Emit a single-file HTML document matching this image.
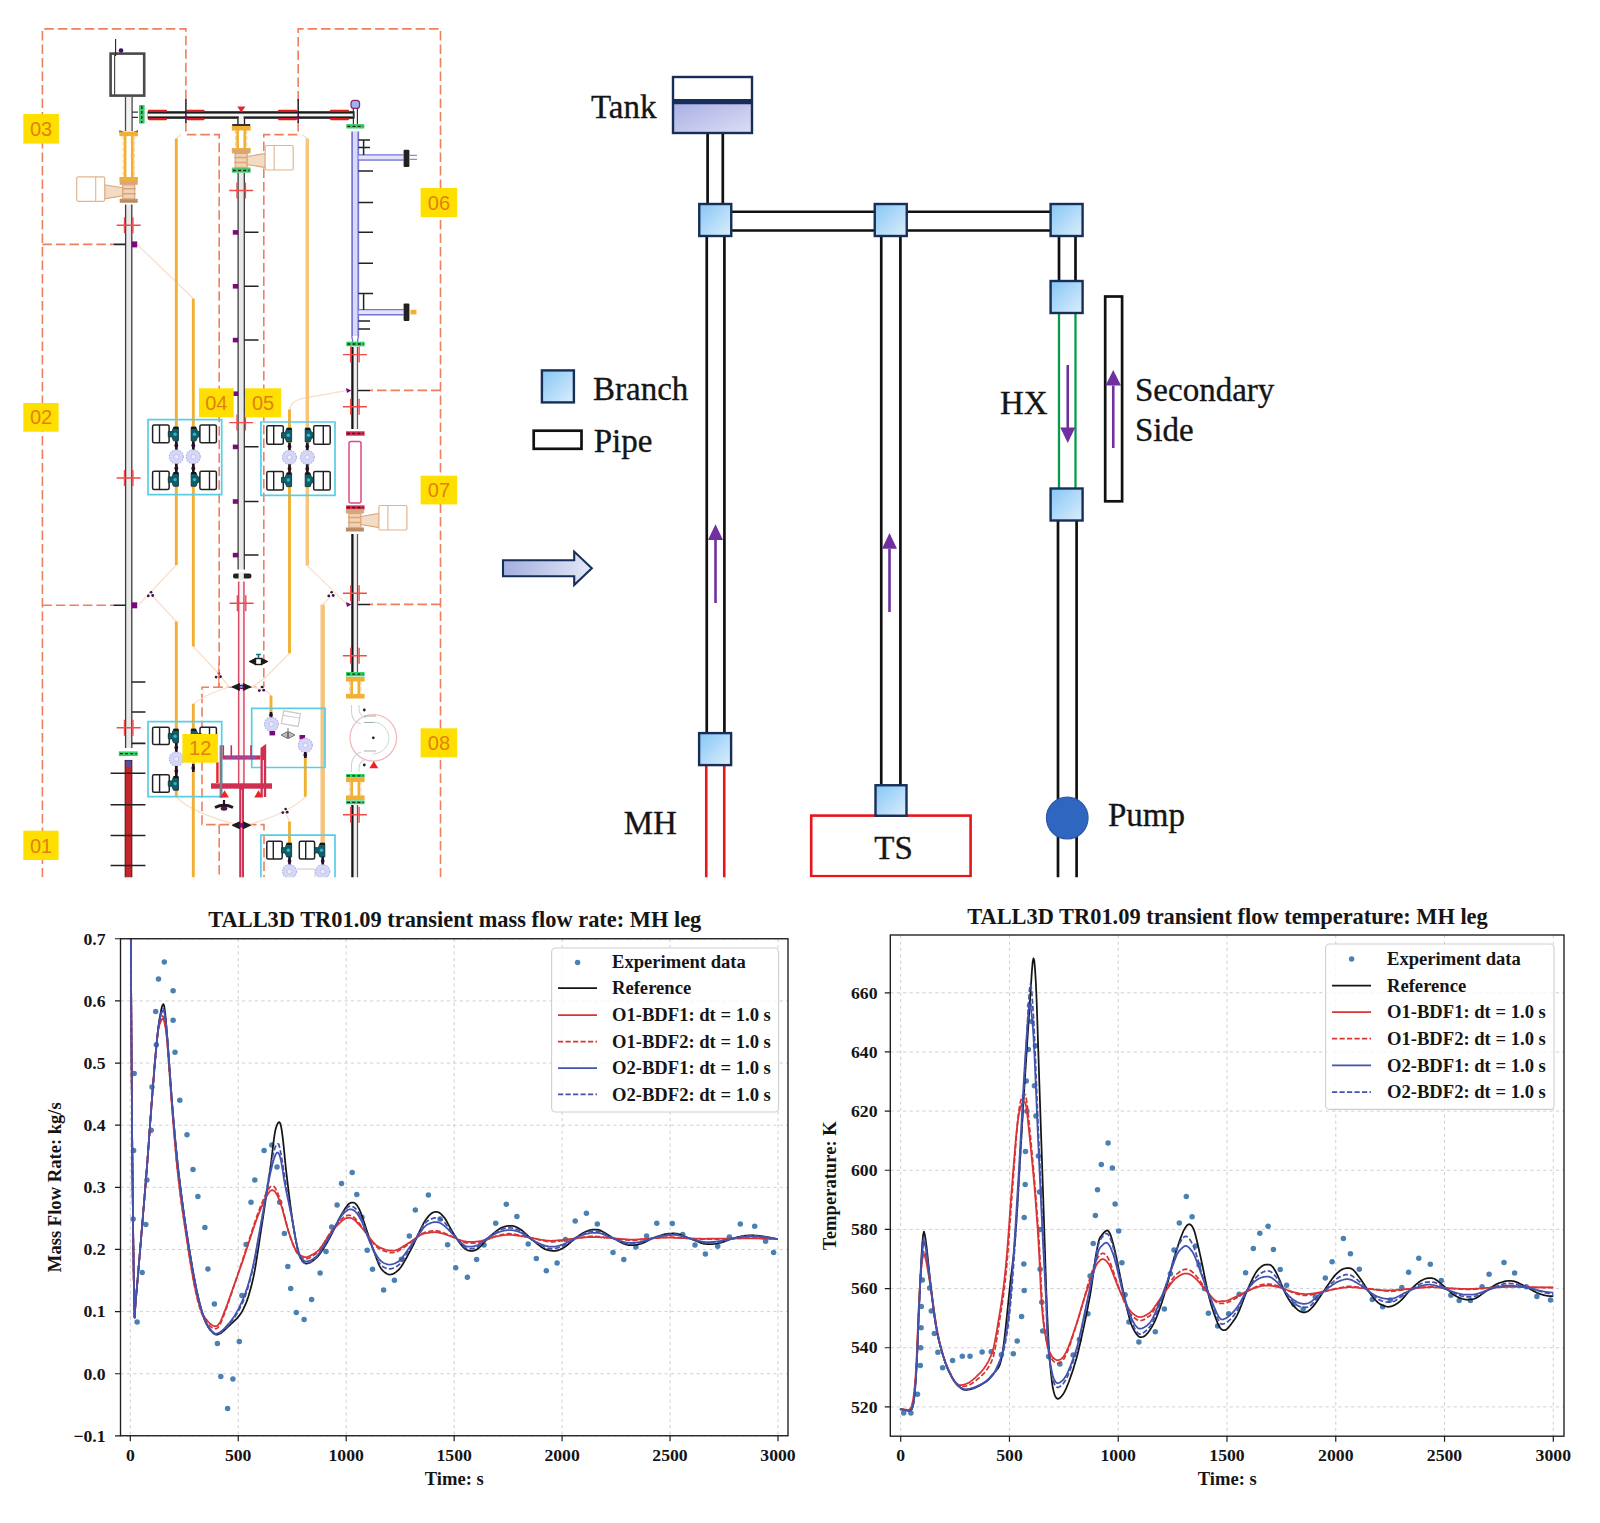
<!DOCTYPE html>
<html lang="en"><head><meta charset="utf-8"><title>TALL3D TR01.09</title>
<style>html,body{margin:0;padding:0;background:#fff}svg{display:block}</style></head>
<body>
<svg width="1600" height="1523" viewBox="0 0 1600 1523">
<rect width="1600" height="1523" fill="#fff"/>
<g>
<g id="cad" clip-path="url(#cadclip)">
<defs><clipPath id="cadclip"><rect x="0" y="0" width="480" height="877.2"/></clipPath></defs>
<path d="M42.4,877.5V28.9H185.9V104M185.9,122V134.6H219.2V687.2M42.4,244.4H113.5M42.4,605.3H113.5M440.5,877.5V28.9H298.2V104M298.2,122V134.6H263.8V687.2M440.5,390.4H370M440.5,604.4H370M236,687.2H202V824.6H236M247,687.2H264M247,824.6H264V877.5M219.2,824.6V877.5" fill="none" stroke="#ef7f5e" stroke-width="1.6" stroke-dasharray="9.5 4"/>
<path d="M137,244.4L193.3,298.5M176.3,565L139,604.5M152,595.5L176.3,621.5M193.3,646.4L219,674L229,687M289.5,653.2L265,678L252,687M307.3,565.6L347,604.4M322.7,604.4L331,596.5M289.5,409.5Q291,402 300,399L347,390.4M176.3,138.4L181,134.6M307.3,138.4L302,134.6M229,687Q206,694 193.3,704M252,687Q268,690 271,696M176.3,796.7Q190,812 236,824.6M305.3,796.7Q300,803 285,811Q262,822 247,824.6M285,811L289.5,821.6" fill="none" stroke="#f9dfcb" stroke-width="1.3"/>
<path d="M176.3,138.4V565M193.3,298.5V646.4M176.3,621.5V796.7M193.3,703.8V877.5M289.5,409.5V653.2M271,695.5V713M305.3,756.7V796.7M289.5,821.6V844" fill="none" stroke="#f1b034" stroke-width="2.9"/>
<path d="M307.3,138.4V565.6" fill="none" stroke="#f6c47c" stroke-width="3.4"/>
<path d="M322.7,604.4V844" fill="none" stroke="#f6c47c" stroke-width="4.4"/>
<path d="M148,419.6H221.7V494.6H148ZM260.9,422H335V495.3H260.9ZM148,721.6H221.7V796.7H148ZM251.7,708.3H325V767.5H251.7ZM260.9,835.2H335V890H260.9Z" fill="none" stroke="#58cee5" stroke-width="1.7"/>
<rect x="110.6" y="53.6" width="33.6" height="42" fill="#fff" stroke="#4a4a4a" stroke-width="2.6"/>
<path d="M114.6,55V95" stroke="#4a4a4a" stroke-width="1.2"/>
<path d="M115.6,39V56" stroke="#222" stroke-width="1.1"/><circle cx="121" cy="50.5" r="2.3" fill="#3a1060"/>
<rect x="125.50" y="97" width="6.6" height="34.00" fill="#f2f2f2"/><path d="M125.50,97V131M132.10,97V131" stroke="#4a4a4a" stroke-width="1.3" fill="none"/>
<path d="M132,112.2H138M132,117.3H138" stroke="#333" stroke-width="1.3"/>
<rect x="139" y="105" width="5.6" height="18.5" fill="#35d268"/><path d="M141.8,106V123" stroke="#222" stroke-width="1.3" stroke-dasharray="3 2"/>
<rect x="147.6" y="111.2" width="207" height="7.6" fill="#1c1c1c"/><rect x="147.6" y="113.6" width="206" height="2.8" fill="#f4f4f4"/>
<path d="M149,110.9H166M149,119.1H166" stroke="#d81e1e" stroke-width="2.2" stroke-linecap="round"/>
<path d="M187.5,110.9H203.5M187.5,119.1H203.5" stroke="#d81e1e" stroke-width="2.2" stroke-linecap="round"/>
<path d="M279,110.9H296M279,119.1H296" stroke="#d81e1e" stroke-width="2.2" stroke-linecap="round"/>
<path d="M331,110.9H348M331,119.1H348" stroke="#d81e1e" stroke-width="2.2" stroke-linecap="round"/>
<path d="M185.9,99V123M298.2,99V123" stroke="#222" stroke-width="1.5"/>
<path d="M184.3,116h3.2l-1.6,4.5Z M296.6,116h3.2l-1.6,4.5Z" fill="#7a0a7a"/>
<path d="M237.2,106.5h8.2l-4.1,6Z" fill="#e8262a"/>
<path d="M238,118.8V124M244.4,118.8V124" stroke="#1c1c1c" stroke-width="1.5"/><rect x="238.8" y="116" width="4.8" height="8" fill="#f4f4f4"/>
<path d="M119.4,130.2Q128.7,135 138,130.2V133H119.4Z" fill="#333"/>
<rect x="119.39999999999999" y="131.6" width="18.6" height="4.6" fill="#f1b034"/><rect x="119.39999999999999" y="177.0" width="18.6" height="4.6" fill="#f1b034"/><rect x="127.29999999999998" y="136.2" width="2.8" height="40.8" fill="#fff"/><path d="M125.1,135.6V177.6M132.29999999999998,135.6V177.6" stroke="#f1b034" stroke-width="2.7" fill="none"/><path d="M123.1,135.6V177.6M134.29999999999998,135.6V177.6" stroke="#f6cf86" stroke-width="1" stroke-dasharray="4 2" fill="none"/>
<rect x="119.69999999999999" y="180.8" width="18" height="4" fill="#d9a67a"/><rect x="119.69999999999999" y="198.8" width="18" height="4" fill="#b98c66"/><rect x="122.69999999999999" y="184.8" width="12" height="14" fill="#f0d2b4" stroke="#d9a67a" stroke-width="1.2"/><path d="M121.69999999999999,188.8H135.7M121.69999999999999,193.8H135.7" stroke="#d9a67a" stroke-width="1.6"/><path d="M122.69999999999999,187.8L104.69999999999999,184.8V198.8L122.69999999999999,195.8Z" fill="#f3dcc4" stroke="#d9a67a" stroke-width="1.1"/><rect x="76.69999999999999" y="176.8" width="28.0" height="24.5" rx="1.5" fill="#fff" stroke="#e2b48e" stroke-width="1.2"/><path d="M95.69999999999999,176.8V201.3" stroke="#e2b48e" stroke-width="1.1"/>
<rect x="125.60" y="204.5" width="6.2" height="543.50" fill="#e9e9e9"/><path d="M125.60,204.5V748M131.80,204.5V748" stroke="#3c3c3c" stroke-width="1.3" fill="none"/>
<path d="M116.69999999999999,225.3H140.7M124.49999999999999,217.3V233.3M132.89999999999998,217.3V233.3" stroke="#f04a4a" stroke-width="1.4" fill="none"/>
<path d="M116.69999999999999,478H140.7M124.49999999999999,470V486M132.89999999999998,470V486" stroke="#f04a4a" stroke-width="1.4" fill="none"/>
<path d="M116.69999999999999,727.7H140.7M124.49999999999999,719.7V735.7M132.89999999999998,719.7V735.7" stroke="#f04a4a" stroke-width="1.4" fill="none"/>
<path d="M113.5,244.4H125.5M113.5,605.3H125.5" stroke="#222" stroke-width="1.6"/>
<rect x="131.8" y="241.4" width="5.4" height="6" fill="#7a0a7a"/><rect x="131.8" y="602.3" width="5.4" height="6" fill="#7a0a7a"/>
<path d="M131.8,682H145.4M131.8,712H145.4M131.8,743.4H145.4" stroke="#222" stroke-width="1.6"/>
<rect x="118.79999999999998" y="751.4000000000001" width="19.0" height="4.6" fill="#35d268"/><path d="M119.79999999999998,753.7H136.79999999999998" stroke="#222" stroke-width="1.3" stroke-dasharray="3 2.2"/>
<rect x="125.2" y="760.5" width="6.6" height="118" fill="#c4242a" stroke="#5a1a1a" stroke-width="1.1"/>
<rect x="126.3" y="760.5" width="4.4" height="6" fill="#3a56c8"/>
<path d="M110.6,773.3H145.4M110.6,804.7H145.4M110.6,835.5H145.4M110.6,865.4H145.4" stroke="#222" stroke-width="1.5"/>
<rect x="232.2" y="124" width="18" height="2.6" fill="#333"/>
<rect x="231.79999999999998" y="126" width="18.8" height="4.6" fill="#f1b034"/><rect x="231.79999999999998" y="147.9" width="18.8" height="4.6" fill="#f1b034"/><rect x="239.79999999999998" y="130.6" width="2.8" height="17.3" fill="#fff"/><path d="M237.6,130V148.5M244.79999999999998,130V148.5" stroke="#f1b034" stroke-width="2.7" fill="none"/><path d="M235.6,130V148.5M246.79999999999998,130V148.5" stroke="#f6cf86" stroke-width="1" stroke-dasharray="4 2" fill="none"/>
<rect x="232.2" y="149.5" width="18" height="4" fill="#d9a67a"/><rect x="232.2" y="167.5" width="18" height="4" fill="#b98c66"/><rect x="235.2" y="153.5" width="12" height="14" fill="#f0d2b4" stroke="#d9a67a" stroke-width="1.2"/><path d="M234.2,157.5H248.2M234.2,162.5H248.2" stroke="#d9a67a" stroke-width="1.6"/><path d="M247.2,156.5L265.2,153.5V167.5L247.2,164.5Z" fill="#f3dcc4" stroke="#d9a67a" stroke-width="1.1"/><rect x="265.2" y="145.5" width="28.0" height="24.5" rx="1.5" fill="#fff" stroke="#e2b48e" stroke-width="1.2"/><path d="M274.2,145.5V170.0" stroke="#e2b48e" stroke-width="1.1"/>
<rect x="231.79999999999998" y="168.3" width="18.8" height="4.4" fill="#35d268"/><path d="M232.79999999999998,170.5H249.6" stroke="#222" stroke-width="1.3" stroke-dasharray="3 2.2"/>
<rect x="238.10" y="173" width="6.2" height="396.50" fill="#e9e9e9"/><path d="M238.10,173V569.5M244.30,173V569.5" stroke="#3c3c3c" stroke-width="1.3" fill="none"/>
<path d="M229.2,190.5H253.2M237.0,182.5V198.5M245.39999999999998,182.5V198.5" stroke="#f04a4a" stroke-width="1.4" fill="none"/>
<path d="M229.2,422.6H253.2M237.0,414.6V430.6M245.39999999999998,414.6V430.6" stroke="#f04a4a" stroke-width="1.4" fill="none"/>
<rect x="232.8" y="230.10000000000002" width="5.4" height="4.6" fill="#7a0a7a"/>
<rect x="232.8" y="284.0" width="5.4" height="4.6" fill="#7a0a7a"/>
<rect x="232.8" y="337.8" width="5.4" height="4.6" fill="#7a0a7a"/>
<rect x="232.8" y="391.40000000000003" width="5.4" height="4.6" fill="#7a0a7a"/>
<rect x="232.8" y="444.6" width="5.4" height="4.6" fill="#7a0a7a"/>
<rect x="232.8" y="499.2" width="5.4" height="4.6" fill="#7a0a7a"/>
<rect x="232.8" y="552.8" width="5.4" height="4.6" fill="#7a0a7a"/>
<path d="M244.4,232.3H258.5M244.4,286.2H258.5M244.4,340H258.5M244.4,393.6H258.5M244.4,446.8H258.5M244.4,501.4H258.5M244.4,555H258.5" stroke="#222" stroke-width="1.5"/>
<rect x="233" y="573.6" width="18.4" height="4.8" rx="2" fill="#222"/><rect x="238.6" y="572" width="5.2" height="8" fill="#eee"/>
<rect x="238.65" y="581.4" width="5.3" height="204.60" fill="#fff3f6"/><path d="M238.65,581.4V786M243.95,581.4V786" stroke="#d64a68" stroke-width="1.5" fill="none"/>
<path d="M229.6,603.3H253.6M237.4,595.3V611.3M245.79999999999998,595.3V611.3" stroke="#f04a4a" stroke-width="1.4" fill="none"/>
<rect x="239.2" y="786" width="4.8" height="92" fill="#cf2f52"/><path d="M241.6,790V877" stroke="#f6b8c6" stroke-width="1"/>
<path d="M353.4,108V126M357.4,108V126" stroke="#333" stroke-width="1.2"/>
<rect x="351" y="100.4" width="8.6" height="8" rx="3" fill="#9fb4ee" stroke="#8a2a6a" stroke-width="1.2"/>
<rect x="346.29999999999995" y="124.1" width="18" height="4.4" fill="#35d268"/><path d="M347.29999999999995,126.3H363.29999999999995" stroke="#222" stroke-width="1.3" stroke-dasharray="3 2.2"/>
<rect x="352.10" y="131.5" width="6.2" height="204.50" fill="#d9d9f8"/><path d="M352.10,131.5V336M358.30,131.5V336" stroke="#7474d6" stroke-width="1.7" fill="none"/>
<path d="M358,154.9H403.5M358,159.9H403.5M358,309.8H403.5M358,314.8H403.5" stroke="#7474d6" stroke-width="1.5"/>
<rect x="358.5" y="155.7" width="45" height="3.4" fill="#e3e3fa"/><rect x="358.5" y="310.6" width="45" height="3.4" fill="#e3e3fa"/>
<rect x="403.6" y="149.7" width="5.8" height="17.4" rx="1" fill="#222"/><path d="M409.4,155.4H417M409.4,159.4H417" stroke="#8a8ae0" stroke-width="1.1"/>
<rect x="403.6" y="303.6" width="5.8" height="17.4" rx="1" fill="#222"/><rect x="410.5" y="309.8" width="6" height="4.6" fill="#f1b034"/>
<path d="M358.4,140H370M358.4,147.5H370M363.6,140V155M358.4,171H373M358.4,202.6H373M358.4,232.3H373M358.4,263.2H373M358.4,293.4H373M363.6,293.4V310M358.4,321H370M358.4,329H370" stroke="#222" stroke-width="1.5" fill="none"/>
<path d="M351.8,336L353,343M358.4,336L357.2,343" stroke="#7474d6" stroke-width="1.4"/>
<rect x="346.3" y="341.7" width="18.4" height="4.6" fill="#35d268"/><path d="M347.3,344H363.7" stroke="#222" stroke-width="1.3" stroke-dasharray="3 2.2"/>
<rect x="351.4" y="347" width="6.4" height="82" fill="#f0f0f0"/><path d="M352.4,347V429" stroke="#151515" stroke-width="2.3"/><path d="M357.5,347V429" stroke="#555" stroke-width="1.2"/>
<path d="M342.9,354.6H366.9M350.7,346.6V362.6M359.09999999999997,346.6V362.6" stroke="#f04a4a" stroke-width="1.4" fill="none"/>
<path d="M342.9,406.7H366.9M350.7,398.7V414.7M359.09999999999997,398.7V414.7" stroke="#f04a4a" stroke-width="1.4" fill="none"/>
<path d="M358,390.4H370M358,604.4H370" stroke="#222" stroke-width="1.5"/>
<path d="M346,388L351.4,390.4L347,393Z M346,602L351.4,604.4L347,607Z" fill="#7a0a7a"/>
<rect x="345.99999999999994" y="431.3" width="18.6" height="4.4" fill="#cf2f52"/><path d="M346.99999999999994,433.5H363.59999999999997" stroke="#222" stroke-width="1.3" stroke-dasharray="3 2.2"/>
<rect x="349" y="441.5" width="12" height="61.5" rx="2" fill="#fff" stroke="#dd4a86" stroke-width="1.5"/>
<rect x="345.99999999999994" y="505.4" width="18.6" height="4.2" fill="#cf2f52"/><path d="M346.99999999999994,507.5H363.59999999999997" stroke="#222" stroke-width="1.3" stroke-dasharray="3 2.2"/>
<rect x="345.9" y="509.5" width="18" height="4" fill="#d9a67a"/><rect x="345.9" y="527.5" width="18" height="4" fill="#b98c66"/><rect x="348.9" y="513.5" width="12" height="14" fill="#f0d2b4" stroke="#d9a67a" stroke-width="1.2"/><path d="M347.9,517.5H361.9M347.9,522.5H361.9" stroke="#d9a67a" stroke-width="1.6"/><path d="M360.9,516.5L378.9,513.5V527.5L360.9,524.5Z" fill="#f3dcc4" stroke="#d9a67a" stroke-width="1.1"/><rect x="378.9" y="505.5" width="28.0" height="24.5" rx="1.5" fill="#fff" stroke="#e2b48e" stroke-width="1.2"/><path d="M387.9,505.5V530.0" stroke="#e2b48e" stroke-width="1.1"/>
<rect x="351.4" y="534" width="6.4" height="138" fill="#f0f0f0"/><path d="M352.4,534V672" stroke="#151515" stroke-width="2.3"/><path d="M357.5,534V672" stroke="#555" stroke-width="1.2"/>
<path d="M342.9,593.2H366.9M350.7,585.2V601.2M359.09999999999997,585.2V601.2" stroke="#f04a4a" stroke-width="1.4" fill="none"/>
<path d="M342.9,655.7H366.9M350.7,647.7V663.7M359.09999999999997,647.7V663.7" stroke="#f04a4a" stroke-width="1.4" fill="none"/>
<rect x="345.99999999999994" y="672.0" width="18.6" height="4.4" fill="#35d268"/><path d="M346.99999999999994,674.2H363.59999999999997" stroke="#222" stroke-width="1.3" stroke-dasharray="3 2.2"/>
<rect x="345.99999999999994" y="677" width="18.6" height="4.6" fill="#f1b034"/><rect x="345.99999999999994" y="693.9" width="18.6" height="4.6" fill="#f1b034"/><rect x="353.9" y="681.6" width="2.8" height="12.3" fill="#fff"/><path d="M351.69999999999993,681V694.5M358.9,681V694.5" stroke="#f1b034" stroke-width="2.7" fill="none"/><path d="M349.69999999999993,681V694.5M360.9,681V694.5" stroke="#f6cf86" stroke-width="1" stroke-dasharray="4 2" fill="none"/>
<circle cx="373.3" cy="737.8" r="23.3" fill="none" stroke="#f2b6b6" stroke-width="1.2"/>
<path d="M351.5,705V712Q352,722 361,724M359,705V710Q360,716 366,718M351.5,772V765Q352,755 361,752M359,772V767Q360,761 366,759" fill="none" stroke="#c9d6d6" stroke-width="1.1"/>
<path d="M364,716H376M364,722.5H376M364,751H376" stroke="#9fb0b0" stroke-width="1.2"/><path d="M373,722A16,16 0 0 1 373,754" fill="none" stroke="#cfd8d8" stroke-width="1"/>
<circle cx="373.3" cy="737.8" r="1.4" fill="#222"/><circle cx="364.3" cy="710" r="1.4" fill="#222"/><circle cx="364.3" cy="765" r="1.4" fill="#222"/>
<path d="M369.3,768.3h9l-4.5,-7.2Z" fill="#e8262a"/>
<rect x="345.99999999999994" y="774.0" width="18.6" height="3.6" fill="#35d268"/><path d="M346.99999999999994,775.8H363.59999999999997" stroke="#222" stroke-width="1.3" stroke-dasharray="3 2.2"/>
<rect x="345.99999999999994" y="777.5" width="18.6" height="4.6" fill="#f1b034"/><rect x="345.99999999999994" y="795.4" width="18.6" height="4.6" fill="#f1b034"/><rect x="353.9" y="782.1" width="2.8" height="13.3" fill="#fff"/><path d="M351.69999999999993,781.5V796M358.9,781.5V796" stroke="#f1b034" stroke-width="2.7" fill="none"/><path d="M349.69999999999993,781.5V796M360.9,781.5V796" stroke="#f6cf86" stroke-width="1" stroke-dasharray="4 2" fill="none"/>
<rect x="345.99999999999994" y="800.4" width="18.6" height="3.8" fill="#35d268"/><path d="M346.99999999999994,802.3H363.59999999999997" stroke="#222" stroke-width="1.3" stroke-dasharray="3 2.2"/>
<rect x="351.4" y="805" width="6.4" height="73" fill="#f0f0f0"/><path d="M352.4,805V878" stroke="#151515" stroke-width="2.3"/><path d="M357.5,805V878" stroke="#555" stroke-width="1.2"/>
<path d="M342.9,814.8H366.9M350.7,806.8V822.8M359.09999999999997,806.8V822.8" stroke="#f04a4a" stroke-width="1.4" fill="none"/>
<rect x="152.6" y="425.0" width="16.5" height="17.7" rx="1.5" fill="#fff" stroke="#222" stroke-width="1.5"/><path d="M159.5,425.0V442.7" stroke="#222" stroke-width="1.4"/><path d="M168.3,431.6L172.0,431.6L173.5,427.6H178.4V440.8H173.5L172.0,436.8H168.3Z" fill="#0e5f6b" stroke="#12363c" stroke-width="0.9" stroke-linejoin="round"/><rect x="173.5" y="426.6" width="4.9" height="2.2" fill="#151515"/><circle cx="175.1" cy="434.2" r="1.7" fill="#33b4cc"/><path d="M201.3,431.6L197.6,431.6L196.1,427.6H191.2V440.8H196.1L197.6,436.8H201.3Z" fill="#0e5f6b" stroke="#12363c" stroke-width="0.9" stroke-linejoin="round"/><rect x="191.2" y="426.6" width="4.9" height="2.2" fill="#151515"/><circle cx="194.5" cy="434.2" r="1.7" fill="#33b4cc"/><rect x="199.9" y="425.0" width="16.5" height="17.7" rx="1.5" fill="#fff" stroke="#222" stroke-width="1.5"/><path d="M209.5,425.0V442.7" stroke="#222" stroke-width="1.4"/><path d="M176.3,441.2V449.8" stroke="#1a1a1a" stroke-width="2.6"/><circle cx="176.3" cy="445.5" r="1.9" fill="#2a0a3a"/><path d="M193.3,441.2V449.8" stroke="#1a1a1a" stroke-width="2.6"/><circle cx="193.3" cy="445.5" r="1.9" fill="#2a0a3a"/><circle cx="176.3" cy="456.8" r="7" fill="#d6d6f7" stroke="#b4b4ee" stroke-width="1.2" stroke-dasharray="1.6 1.2"/><circle cx="176.3" cy="456.8" r="2.4" fill="#ececfc" stroke="#bdbdf0" stroke-width="0.8"/><circle cx="193.3" cy="456.8" r="7" fill="#d6d6f7" stroke="#b4b4ee" stroke-width="1.2" stroke-dasharray="1.6 1.2"/><circle cx="193.3" cy="456.8" r="2.4" fill="#ececfc" stroke="#bdbdf0" stroke-width="0.8"/><path d="M176.3,463.8V472.7" stroke="#1a1a1a" stroke-width="2.6"/><circle cx="176.3" cy="468.2" r="1.9" fill="#2a0a3a"/><path d="M193.3,463.8V472.7" stroke="#1a1a1a" stroke-width="2.6"/><circle cx="193.3" cy="468.2" r="1.9" fill="#2a0a3a"/><rect x="152.6" y="471.2" width="16.5" height="18.4" rx="1.5" fill="#fff" stroke="#222" stroke-width="1.5"/><path d="M159.5,471.2V489.6" stroke="#222" stroke-width="1.4"/><path d="M168.3,477.0L172.0,477.0L173.5,473.0H178.4V486.2H173.5L172.0,482.2H168.3Z" fill="#0e5f6b" stroke="#12363c" stroke-width="0.9" stroke-linejoin="round"/><rect x="173.5" y="472.0" width="4.9" height="2.2" fill="#151515"/><circle cx="175.1" cy="479.6" r="1.7" fill="#33b4cc"/><path d="M201.3,477.0L197.6,477.0L196.1,473.0H191.2V486.2H196.1L197.6,482.2H201.3Z" fill="#0e5f6b" stroke="#12363c" stroke-width="0.9" stroke-linejoin="round"/><rect x="191.2" y="472.0" width="4.9" height="2.2" fill="#151515"/><circle cx="194.5" cy="479.6" r="1.7" fill="#33b4cc"/><rect x="199.9" y="471.2" width="16.5" height="18.4" rx="1.5" fill="#fff" stroke="#222" stroke-width="1.5"/><path d="M209.5,471.2V489.6" stroke="#222" stroke-width="1.4"/>
<rect x="266.8" y="425.8" width="16.5" height="18.4" rx="1.5" fill="#fff" stroke="#222" stroke-width="1.5"/><path d="M273.7,425.8V444.2" stroke="#222" stroke-width="1.4"/><path d="M281.5,432.7L285.2,432.7L286.7,428.7H291.6V441.9H286.7L285.2,437.9H281.5Z" fill="#0e5f6b" stroke="#12363c" stroke-width="0.9" stroke-linejoin="round"/><rect x="286.7" y="427.7" width="4.9" height="2.2" fill="#151515"/><circle cx="288.3" cy="435.3" r="1.7" fill="#33b4cc"/><path d="M315.3,432.7L311.6,432.7L310.1,428.7H305.2V441.9H310.1L311.6,437.9H315.3Z" fill="#0e5f6b" stroke="#12363c" stroke-width="0.9" stroke-linejoin="round"/><rect x="305.2" y="427.7" width="4.9" height="2.2" fill="#151515"/><circle cx="308.5" cy="435.3" r="1.7" fill="#33b4cc"/><rect x="313.7" y="425.8" width="16.5" height="18.4" rx="1.5" fill="#fff" stroke="#222" stroke-width="1.5"/><path d="M323.3,425.8V444.2" stroke="#222" stroke-width="1.4"/><path d="M289.5,442.7V450.3" stroke="#1a1a1a" stroke-width="2.6"/><circle cx="289.5" cy="446.5" r="1.9" fill="#2a0a3a"/><path d="M307.3,442.7V450.3" stroke="#1a1a1a" stroke-width="2.6"/><circle cx="307.3" cy="446.5" r="1.9" fill="#2a0a3a"/><circle cx="289.5" cy="457.3" r="7" fill="#d6d6f7" stroke="#b4b4ee" stroke-width="1.2" stroke-dasharray="1.6 1.2"/><circle cx="289.5" cy="457.3" r="2.4" fill="#ececfc" stroke="#bdbdf0" stroke-width="0.8"/><circle cx="307.3" cy="457.3" r="7" fill="#d6d6f7" stroke="#b4b4ee" stroke-width="1.2" stroke-dasharray="1.6 1.2"/><circle cx="307.3" cy="457.3" r="2.4" fill="#ececfc" stroke="#bdbdf0" stroke-width="0.8"/><path d="M289.5,464.3V473.1" stroke="#1a1a1a" stroke-width="2.6"/><circle cx="289.5" cy="468.7" r="1.9" fill="#2a0a3a"/><path d="M307.3,464.3V473.1" stroke="#1a1a1a" stroke-width="2.6"/><circle cx="307.3" cy="468.7" r="1.9" fill="#2a0a3a"/><rect x="266.8" y="471.6" width="16.5" height="18.4" rx="1.5" fill="#fff" stroke="#222" stroke-width="1.5"/><path d="M273.7,471.6V490.0" stroke="#222" stroke-width="1.4"/><path d="M281.5,477.4L285.2,477.4L286.7,473.4H291.6V486.6H286.7L285.2,482.6H281.5Z" fill="#0e5f6b" stroke="#12363c" stroke-width="0.9" stroke-linejoin="round"/><rect x="286.7" y="472.4" width="4.9" height="2.2" fill="#151515"/><circle cx="288.3" cy="480.0" r="1.7" fill="#33b4cc"/><path d="M315.3,477.4L311.6,477.4L310.1,473.4H305.2V486.6H310.1L311.6,482.6H315.3Z" fill="#0e5f6b" stroke="#12363c" stroke-width="0.9" stroke-linejoin="round"/><rect x="305.2" y="472.4" width="4.9" height="2.2" fill="#151515"/><circle cx="308.5" cy="480.0" r="1.7" fill="#33b4cc"/><rect x="313.7" y="471.6" width="16.5" height="18.4" rx="1.5" fill="#fff" stroke="#222" stroke-width="1.5"/><path d="M323.3,471.6V490.0" stroke="#222" stroke-width="1.4"/>
<rect x="152.6" y="727.2" width="16.7" height="17.4" rx="1.5" fill="#fff" stroke="#222" stroke-width="1.5"/><path d="M159.6,727.2V744.6" stroke="#222" stroke-width="1.4"/><path d="M168.3,733.6L172.0,733.6L173.5,729.6H178.4V742.8H173.5L172.0,738.8H168.3Z" fill="#0e5f6b" stroke="#12363c" stroke-width="0.9" stroke-linejoin="round"/><rect x="173.5" y="728.6" width="4.9" height="2.2" fill="#151515"/><circle cx="175.1" cy="736.2" r="1.7" fill="#33b4cc"/><path d="M176.3,743V752" stroke="#1a1a1a" stroke-width="2.6"/><circle cx="176.3" cy="747.5" r="1.9" fill="#2a0a3a"/><circle cx="176.3" cy="759" r="7" fill="#d6d6f7" stroke="#b4b4ee" stroke-width="1.2" stroke-dasharray="1.6 1.2"/><circle cx="176.3" cy="759" r="2.4" fill="#ececfc" stroke="#bdbdf0" stroke-width="0.8"/><path d="M176.3,766V776" stroke="#1a1a1a" stroke-width="2.6"/><circle cx="176.3" cy="771.0" r="1.9" fill="#2a0a3a"/><rect x="152.6" y="774.8" width="16.7" height="17.4" rx="1.5" fill="#fff" stroke="#222" stroke-width="1.5"/><path d="M159.6,774.8V792.2" stroke="#222" stroke-width="1.4"/><path d="M168.3,781.0L172.0,781.0L173.5,777.0H178.4V790.2H173.5L172.0,786.2H168.3Z" fill="#0e5f6b" stroke="#12363c" stroke-width="0.9" stroke-linejoin="round"/><rect x="173.5" y="776.0" width="4.9" height="2.2" fill="#151515"/><circle cx="175.1" cy="783.6" r="1.7" fill="#33b4cc"/><rect x="200.0" y="727.2" width="16.4" height="17.4" rx="1.5" fill="#fff" stroke="#222" stroke-width="1.5"/><path d="M209.5,727.2V744.6" stroke="#222" stroke-width="1.4"/><path d="M201.3,733.6L197.6,733.6L196.1,729.6H191.2V742.8H196.1L197.6,738.8H201.3Z" fill="#0e5f6b" stroke="#12363c" stroke-width="0.9" stroke-linejoin="round"/><rect x="191.2" y="728.6" width="4.9" height="2.2" fill="#151515"/><circle cx="194.5" cy="736.2" r="1.7" fill="#33b4cc"/><path d="M193.3,764V772" stroke="#1a1a1a" stroke-width="2.6"/><circle cx="193.3" cy="768.0" r="1.9" fill="#2a0a3a"/>
<path d="M271,712V718" stroke="#1a1a1a" stroke-width="2.6"/><circle cx="271" cy="715.0" r="1.9" fill="#2a0a3a"/><circle cx="271.4" cy="724.2" r="7" fill="#d6d6f7" stroke="#b4b4ee" stroke-width="1.2" stroke-dasharray="1.6 1.2"/><circle cx="271.4" cy="724.2" r="2.4" fill="#ececfc" stroke="#bdbdf0" stroke-width="0.8"/><rect x="269.5" y="731" width="5.6" height="4.4" fill="#7a0a7a"/><rect x="299.5" y="735" width="5.6" height="4.4" fill="#7a0a7a"/><circle cx="305.3" cy="745.3" r="7" fill="#d6d6f7" stroke="#b4b4ee" stroke-width="1.2" stroke-dasharray="1.6 1.2"/><circle cx="305.3" cy="745.3" r="2.4" fill="#ececfc" stroke="#bdbdf0" stroke-width="0.8"/><path d="M305.3,752V758" stroke="#1a1a1a" stroke-width="2.6"/><circle cx="305.3" cy="755.0" r="1.9" fill="#2a0a3a"/><g transform="rotate(10 290 721)"><rect x="282" y="712" width="17" height="13" fill="#fff" stroke="#c8c8c8" stroke-width="1.1"/><path d="M282,716.5H299" stroke="#c8c8c8" stroke-width="1"/></g><path d="M281,735L287.5,731.5V738.5ZM295,735L288.5,731.5V738.5Z" fill="#bbb" stroke="#666" stroke-width="0.9"/><path d="M288,728V731" stroke="#777" stroke-width="1"/>
<rect x="266.8" y="841.3" width="15.4" height="17.7" rx="1.5" fill="#fff" stroke="#222" stroke-width="1.5"/><path d="M273.3,841.3V859.0" stroke="#222" stroke-width="1.4"/><path d="M281.5,847.7L285.2,847.7L286.7,843.7H291.6V856.9H286.7L285.2,852.9H281.5Z" fill="#0e5f6b" stroke="#12363c" stroke-width="0.9" stroke-linejoin="round"/><rect x="286.7" y="842.7" width="4.9" height="2.2" fill="#151515"/><circle cx="288.3" cy="850.3" r="1.7" fill="#33b4cc"/><path d="M289.5,857V865" stroke="#1a1a1a" stroke-width="2.6"/><circle cx="289.5" cy="861.0" r="1.9" fill="#2a0a3a"/><circle cx="289.5" cy="871.5" r="7" fill="#d6d6f7" stroke="#b4b4ee" stroke-width="1.2" stroke-dasharray="1.6 1.2"/><circle cx="289.5" cy="871.5" r="2.4" fill="#ececfc" stroke="#bdbdf0" stroke-width="0.8"/><rect x="299.3" y="841.3" width="15.3" height="17.7" rx="1.5" fill="#fff" stroke="#222" stroke-width="1.5"/><path d="M305.7,841.3V859.0" stroke="#222" stroke-width="1.4"/><path d="M314.7,847.7L318.4,847.7L319.9,843.7H324.8V856.9H319.9L318.4,852.9H314.7Z" fill="#0e5f6b" stroke="#12363c" stroke-width="0.9" stroke-linejoin="round"/><rect x="319.9" y="842.7" width="4.9" height="2.2" fill="#151515"/><circle cx="321.5" cy="850.3" r="1.7" fill="#33b4cc"/><path d="M322.7,857V865" stroke="#1a1a1a" stroke-width="2.6"/><circle cx="322.7" cy="861.0" r="1.9" fill="#2a0a3a"/><circle cx="322.7" cy="871.5" r="7" fill="#d6d6f7" stroke="#b4b4ee" stroke-width="1.2" stroke-dasharray="1.6 1.2"/><circle cx="322.7" cy="871.5" r="2.4" fill="#ececfc" stroke="#bdbdf0" stroke-width="0.8"/><path d="M297,869H315V877" fill="none" stroke="#c8c8c8" stroke-width="1"/>
<path d="M223.3,745.3V757M231.3,745.3V757M251,745.3V757" stroke="#cf2f52" stroke-width="1.6"/><rect x="222.5" y="755.4" width="38" height="4.2" fill="#cf2f52"/><path d="M226,757.5H257" stroke="#5b62e6" stroke-width="1.8" stroke-dasharray="4 1.2"/><path d="M260.5,797V748L266.2,743.8V797Z" fill="#cf2f52"/><path d="M263.3,760V797" stroke="#fff" stroke-width="1"/><rect x="211" y="783.3" width="61" height="5.4" fill="#cf2f52"/><path d="M217.4,762V783" stroke="#e8262a" stroke-width="2.4"/><rect x="219.6" y="745.3" width="2.6" height="52.5" fill="#7d7d86"/><path d="M220.3,797.6h8.6l-4.3,-7.4Z M254.2,797.6h8.6l-4.3,-7.4Z" fill="#e8262a"/>
<path d="M232.4,686.9L239.4,683.6999999999999V690.1ZM250.4,686.9L243.4,683.6999999999999V690.1Z" fill="#1d1d1d" stroke="#1d1d1d" stroke-width="1.2" stroke-linejoin="round"/><circle cx="241.4" cy="686.9" r="2.3" fill="#7a0a7a"/>
<path d="M232.4,825.3L239.4,822.0999999999999V828.5ZM250.4,825.3L243.4,822.0999999999999V828.5Z" fill="#1d1d1d" stroke="#1d1d1d" stroke-width="1.2" stroke-linejoin="round"/><circle cx="241.4" cy="825.3" r="2.3" fill="#7a0a7a"/>
<circle cx="241.4" cy="686.9" r="1.2" fill="#5bb0f0"/>
<path d="M249.5,661.5L255.5,658.5V664.5ZM267.5,661.5L261.5,658.5V664.5Z" fill="#1a1a1a" stroke="#1a1a1a" stroke-width="1.3" stroke-linejoin="round"/><rect x="255.5" y="658.5" width="6" height="6" fill="#fff" stroke="#1a1a1a" stroke-width="1.4"/><path d="M258.5,658.5V654.5M256.1,654.5H260.9" stroke="#11707c" stroke-width="1.6"/>
<path d="M215,807.5Q224,803 233,807.5" fill="none" stroke="#1a1a1a" stroke-width="3"/><path d="M224,800V807" stroke="#1a1a1a" stroke-width="2.2"/><ellipse cx="224" cy="808.6" rx="3.3" ry="2.2" fill="#5a1050"/>
<circle cx="148.3" cy="595.9" r="1.4" fill="#3a1050"/><circle cx="152.7" cy="595.5" r="1.4" fill="#3a1050"/><circle cx="151.1" cy="592.3" r="1.3" fill="#222"/>
<circle cx="328.8" cy="595.9" r="1.4" fill="#3a1050"/><circle cx="333.2" cy="595.5" r="1.4" fill="#3a1050"/><circle cx="331.6" cy="592.3" r="1.3" fill="#222"/>
<circle cx="216.10000000000002" cy="677.1" r="1.4" fill="#3a1050"/><circle cx="220.5" cy="676.7" r="1.4" fill="#3a1050"/><circle cx="218.9" cy="673.5" r="1.3" fill="#222"/>
<circle cx="259.3" cy="690.6" r="1.4" fill="#3a1050"/><circle cx="263.7" cy="690.2" r="1.4" fill="#3a1050"/><circle cx="262.1" cy="687" r="1.3" fill="#222"/>
<circle cx="282.8" cy="812.6" r="1.4" fill="#3a1050"/><circle cx="287.2" cy="812.2" r="1.4" fill="#3a1050"/><circle cx="285.6" cy="809" r="1.3" fill="#222"/>
<path d="M218.8,663V688M214.5,687.2H223" stroke="#ef7f5e" stroke-width="1.1"/>
<rect x="23.3" y="114" width="35.6" height="29.6" fill="#ffdf00"/><text x="41.1" y="136.3" text-anchor="middle" font-family="'Liberation Sans',Arial,sans-serif" font-size="20" fill="#e47f10">03</text>
<rect x="23.3" y="403" width="35.3" height="28.7" fill="#ffdf00"/><text x="41.0" y="424.4" text-anchor="middle" font-family="'Liberation Sans',Arial,sans-serif" font-size="20" fill="#e47f10">02</text>
<rect x="23.3" y="830.7" width="35.3" height="29.3" fill="#ffdf00"/><text x="41.0" y="852.7" text-anchor="middle" font-family="'Liberation Sans',Arial,sans-serif" font-size="20" fill="#e47f10">01</text>
<rect x="199" y="388.3" width="34.7" height="29.0" fill="#ffdf00"/><text x="216.3" y="410.0" text-anchor="middle" font-family="'Liberation Sans',Arial,sans-serif" font-size="20" fill="#e47f10">04</text>
<rect x="245" y="388.3" width="36.2" height="29.0" fill="#ffdf00"/><text x="263.1" y="410.0" text-anchor="middle" font-family="'Liberation Sans',Arial,sans-serif" font-size="20" fill="#e47f10">05</text>
<rect x="420.6" y="188" width="36.6" height="29.0" fill="#ffdf00"/><text x="438.9" y="209.7" text-anchor="middle" font-family="'Liberation Sans',Arial,sans-serif" font-size="20" fill="#e47f10">06</text>
<rect x="420.6" y="475.7" width="36.6" height="28.7" fill="#ffdf00"/><text x="438.9" y="497.1" text-anchor="middle" font-family="'Liberation Sans',Arial,sans-serif" font-size="20" fill="#e47f10">07</text>
<rect x="420.6" y="728.3" width="36.6" height="29.1" fill="#ffdf00"/><text x="438.9" y="750.1" text-anchor="middle" font-family="'Liberation Sans',Arial,sans-serif" font-size="20" fill="#e47f10">08</text>
<rect x="182.4" y="734" width="35.5" height="28.7" fill="#ffdf00"/><text x="200.2" y="755.4" text-anchor="middle" font-family="'Liberation Sans',Arial,sans-serif" font-size="20" fill="#e47f10">12</text>
</g>
<g id="schem">
<defs>
<linearGradient id="brg" x1="0" y1="0" x2="1" y2="1"><stop offset="0" stop-color="#85c6f6"/><stop offset="1" stop-color="#dceefb"/></linearGradient>
<linearGradient id="tkg" x1="0" y1="0" x2="1" y2="1"><stop offset="0" stop-color="#a9aee4"/><stop offset="1" stop-color="#dcdef4"/></linearGradient>
<linearGradient id="arg" x1="0" y1="0" x2="1" y2="0"><stop offset="0" stop-color="#a3afdf"/><stop offset="1" stop-color="#e3e7f7"/></linearGradient>
<clipPath id="topclip"><rect x="0" y="0" width="1600" height="877.2"/></clipPath>
</defs>
<g clip-path="url(#topclip)">
<path d="M707.6,133V204M722.8,133V204M731,211.75H875M731,230.5H875M906,211.75H1051M906,230.5H1051M706.75,236V733M724.4,236V733M881.25,236V785M900.4,236V785M1059,236V281M1075.5,236V281M1058,519V878M1076.6,519V878" stroke="#111" stroke-width="2.7" fill="none"/>
<path d="M1059,312V490M1075.5,312V490" stroke="#0a9a4a" stroke-width="2.3" fill="none"/>
<path d="M706.25,765V878M724.25,765V878" stroke="#e8141c" stroke-width="2.6" fill="none"/>
<rect x="811.2" y="815.6" width="159.4" height="60.6" fill="none" stroke="#e8141c" stroke-width="2.6"/>
<rect x="1105.2" y="296.5" width="16.9" height="204.8" fill="#fff" stroke="#111" stroke-width="2.7"/>
<rect x="673" y="77" width="79" height="56" fill="#fff"/>
<rect x="673" y="102" width="79" height="31" fill="url(#tkg)"/>
<path d="M673,101.6H752" stroke="#172f58" stroke-width="5.2"/>
<rect x="673" y="77" width="79" height="56" fill="none" stroke="#172f58" stroke-width="2.4"/>
<rect x="699.25" y="204.00" width="32" height="32" fill="url(#brg)" stroke="#172f58" stroke-width="2.4"/>
<rect x="874.75" y="204.00" width="32" height="32" fill="url(#brg)" stroke="#172f58" stroke-width="2.4"/>
<rect x="1050.60" y="204.00" width="32" height="32" fill="url(#brg)" stroke="#172f58" stroke-width="2.4"/>
<rect x="1050.60" y="281.00" width="32" height="32" fill="url(#brg)" stroke="#172f58" stroke-width="2.4"/>
<rect x="1050.60" y="488.50" width="32" height="32" fill="url(#brg)" stroke="#172f58" stroke-width="2.4"/>
<rect x="699.10" y="733.10" width="32" height="32" fill="url(#brg)" stroke="#172f58" stroke-width="2.4"/>
<rect x="875.50" y="785.25" width="31" height="30.5" fill="url(#brg)" stroke="#172f58" stroke-width="2.4"/>
<rect x="541.90" y="370.40" width="32" height="32" fill="url(#brg)" stroke="#172f58" stroke-width="2.4"/>
<rect x="533.7" y="430.7" width="47.8" height="18.1" fill="#fff" stroke="#111" stroke-width="2.7"/>
<circle cx="1067.25" cy="818" r="20.8" fill="#2f66c0" stroke="#2a57a8" stroke-width="1.2"/>
<path d="M715.5,603V540" stroke="#7030a0" stroke-width="2.6" fill="none"/><path d="M715.5,524.25L723.0,540H708.0Z" fill="#7030a0"/>
<path d="M889.5,612V548.75" stroke="#7030a0" stroke-width="2.6" fill="none"/><path d="M889.5,533L897.0,548.75H882.0Z" fill="#7030a0"/>
<path d="M1113.25,448V385.5" stroke="#7030a0" stroke-width="2.6" fill="none"/><path d="M1113.25,370L1121.0,385.5H1105.5Z" fill="#7030a0"/>
<path d="M1067.75,365V428" stroke="#7030a0" stroke-width="2.6" fill="none"/><path d="M1067.75,443L1075.25,427.5H1060.25Z" fill="#7030a0"/>
<path d="M503,560.2H574.2V551.6L591.8,568.3L574.2,585V576.3H503Z" fill="url(#arg)" stroke="#172f58" stroke-width="2.1" stroke-linejoin="miter"/>
<g font-family="'Liberation Serif','Times New Roman',serif" font-size="33" fill="#151515" stroke="#151515" stroke-width="0.35">
<text x="591" y="118">Tank</text>
<text x="593" y="400">Branch</text>
<text x="593.75" y="451.75">Pipe</text>
<text x="1000" y="413.75">HX</text>
<text x="1135" y="401.25">Secondary</text>
<text x="1135" y="440.5">Side</text>
<text x="623.75" y="833.75">MH</text>
<text x="874.25" y="858.75">TS</text>
<text x="1108" y="826.25">Pump</text>
</g>
</g></g>
<g id="c1">
<clipPath id="c1clip"><rect x="120.5" y="938.75" width="667.5" height="497.0"/></clipPath>
<path d="M130.30,938.75V1435.75M238.25,938.75V1435.75M346.20,938.75V1435.75M454.15,938.75V1435.75M562.10,938.75V1435.75M670.05,938.75V1435.75M778.00,938.75V1435.75M120.5,1435.89H788.0M120.5,1373.75H788.0M120.5,1311.61H788.0M120.5,1249.47H788.0M120.5,1187.33H788.0M120.5,1125.19H788.0M120.5,1063.05H788.0M120.5,1000.91H788.0M120.5,938.77H788.0" stroke="#c9c9c9" stroke-width="0.9" stroke-dasharray="3.2 3.2" fill="none"/>
<g clip-path="url(#c1clip)" fill="none" stroke-linejoin="round">
<g fill="#4a80b2" stroke="none"><circle cx="164.3" cy="962.1" r="2.75"/><circle cx="158.5" cy="979.1" r="2.75"/><circle cx="173.1" cy="990.8" r="2.75"/><circle cx="155.7" cy="1011.4" r="2.75"/><circle cx="173.1" cy="1020.3" r="2.75"/><circle cx="156.3" cy="1044.8" r="2.75"/><circle cx="175.0" cy="1052.2" r="2.75"/><circle cx="134.2" cy="1073.4" r="2.75"/><circle cx="152.0" cy="1087.1" r="2.75"/><circle cx="179.8" cy="1100.3" r="2.75"/><circle cx="151.2" cy="1130.2" r="2.75"/><circle cx="187.0" cy="1134.7" r="2.75"/><circle cx="133.6" cy="1150.4" r="2.75"/><circle cx="193.0" cy="1169.5" r="2.75"/><circle cx="264.1" cy="1150.4" r="2.75"/><circle cx="271.8" cy="1144.9" r="2.75"/><circle cx="277.0" cy="1167.0" r="2.75"/><circle cx="352.2" cy="1172.6" r="2.75"/><circle cx="146.9" cy="1180.0" r="2.75"/><circle cx="197.9" cy="1196.6" r="2.75"/><circle cx="133.1" cy="1218.9" r="2.75"/><circle cx="145.8" cy="1224.4" r="2.75"/><circle cx="204.9" cy="1227.6" r="2.75"/><circle cx="142.2" cy="1272.6" r="2.75"/><circle cx="207.9" cy="1269.0" r="2.75"/><circle cx="214.4" cy="1303.9" r="2.75"/><circle cx="137.1" cy="1322.1" r="2.75"/><circle cx="217.4" cy="1343.6" r="2.75"/><circle cx="239.3" cy="1341.5" r="2.75"/><circle cx="220.8" cy="1376.5" r="2.75"/><circle cx="232.9" cy="1378.9" r="2.75"/><circle cx="227.6" cy="1408.4" r="2.75"/><circle cx="241.9" cy="1295.4" r="2.75"/><circle cx="246.1" cy="1244.6" r="2.75"/><circle cx="251.0" cy="1202.3" r="2.75"/><circle cx="254.8" cy="1180.0" r="2.75"/><circle cx="279.7" cy="1202.3" r="2.75"/><circle cx="284.4" cy="1233.5" r="2.75"/><circle cx="287.8" cy="1266.5" r="2.75"/><circle cx="290.7" cy="1288.4" r="2.75"/><circle cx="296.3" cy="1312.6" r="2.75"/><circle cx="304.1" cy="1319.6" r="2.75"/><circle cx="311.6" cy="1299.6" r="2.75"/><circle cx="320.1" cy="1273.1" r="2.75"/><circle cx="326.0" cy="1251.4" r="2.75"/><circle cx="331.7" cy="1226.9" r="2.75"/><circle cx="337.1" cy="1205.1" r="2.75"/><circle cx="341.5" cy="1183.6" r="2.75"/><circle cx="356.8" cy="1194.4" r="2.75"/><circle cx="361.9" cy="1217.2" r="2.75"/><circle cx="367.2" cy="1250.3" r="2.75"/><circle cx="372.5" cy="1269.2" r="2.75"/><circle cx="383.6" cy="1290.1" r="2.75"/><circle cx="394.4" cy="1280.3" r="2.75"/><circle cx="401.4" cy="1259.2" r="2.75"/><circle cx="409.3" cy="1236.1" r="2.75"/><circle cx="415.3" cy="1209.9" r="2.75"/><circle cx="428.4" cy="1195.1" r="2.75"/><circle cx="440.1" cy="1218.9" r="2.75"/><circle cx="447.6" cy="1244.8" r="2.75"/><circle cx="455.7" cy="1267.7" r="2.75"/><circle cx="467.4" cy="1277.2" r="2.75"/><circle cx="476.6" cy="1259.6" r="2.75"/><circle cx="484.0" cy="1245.1" r="2.75"/><circle cx="495.7" cy="1223.2" r="2.75"/><circle cx="506.3" cy="1204.3" r="2.75"/><circle cx="516.9" cy="1216.4" r="2.75"/><circle cx="528.2" cy="1243.9" r="2.75"/><circle cx="536.3" cy="1258.5" r="2.75"/><circle cx="546.3" cy="1270.8" r="2.75"/><circle cx="557.1" cy="1263.0" r="2.75"/><circle cx="565.4" cy="1239.6" r="2.75"/><circle cx="575.2" cy="1220.9" r="2.75"/><circle cx="586.4" cy="1213.3" r="2.75"/><circle cx="597.3" cy="1223.9" r="2.75"/><circle cx="613.0" cy="1252.4" r="2.75"/><circle cx="623.8" cy="1259.6" r="2.75"/><circle cx="635.9" cy="1247.0" r="2.75"/><circle cx="646.6" cy="1236.0" r="2.75"/><circle cx="656.8" cy="1223.2" r="2.75"/><circle cx="672.3" cy="1223.5" r="2.75"/><circle cx="682.7" cy="1234.5" r="2.75"/><circle cx="695.0" cy="1245.1" r="2.75"/><circle cx="705.4" cy="1254.1" r="2.75"/><circle cx="717.7" cy="1246.2" r="2.75"/><circle cx="729.4" cy="1237.1" r="2.75"/><circle cx="740.3" cy="1223.9" r="2.75"/><circle cx="754.7" cy="1226.2" r="2.75"/><circle cx="765.6" cy="1241.3" r="2.75"/><circle cx="773.6" cy="1252.6" r="2.75"/></g>
<path d="M130.6,900.0 L131.4,1031.4 L132.2,1143.3 L133.0,1221.2 L133.8,1280.6 L134.6,1317.6 L135.4,1305.0 L136.2,1295.7 L137.0,1286.4 L137.8,1277.0 L138.6,1267.7 L139.4,1258.3 L140.2,1248.8 L141.0,1239.3 L141.8,1229.7 L142.6,1220.1 L143.4,1210.5 L144.2,1200.9 L145.0,1191.2 L145.8,1181.4 L146.6,1171.5 L147.4,1161.1 L148.2,1150.3 L149.0,1139.4 L149.8,1128.3 L150.6,1117.4 L151.4,1106.6 L152.2,1096.1 L153.0,1086.0 L153.8,1076.1 L154.6,1066.5 L155.4,1057.3 L156.2,1048.5 L157.0,1040.1 L157.8,1032.1 L158.6,1025.3 L159.4,1019.9 L160.2,1015.2 L161.0,1011.0 L161.8,1007.3 L162.6,1005.0 L163.4,1004.1 L164.2,1006.1 L165.0,1011.8 L165.8,1019.6 L166.6,1028.6 L167.4,1038.6 L168.2,1049.3 L169.0,1060.4 L169.8,1071.8 L170.6,1083.0 L171.4,1094.0 L172.2,1104.5 L173.0,1114.3 L173.8,1123.7 L174.6,1132.8 L175.4,1141.6 L176.2,1150.0 L177.0,1157.9 L177.8,1165.4 L178.6,1172.4 L179.4,1179.1 L180.2,1185.7 L181.0,1192.1 L181.8,1198.3 L182.6,1204.4 L183.4,1210.2 L184.2,1216.0 L185.0,1221.6 L185.8,1227.0 L186.6,1232.3 L187.4,1237.5 L188.2,1242.6 L189.0,1247.6 L189.8,1252.6 L190.6,1257.4 L191.4,1262.2 L192.2,1266.9 L193.0,1271.4 L193.8,1275.8 L194.6,1280.0 L195.4,1284.2 L196.2,1288.1 L197.0,1291.9 L197.8,1295.6 L198.6,1299.1 L199.4,1302.4 L200.2,1305.6 L201.0,1308.6 L201.8,1311.5 L202.6,1314.1 L203.4,1316.5 L204.2,1318.8 L205.0,1320.8 L205.8,1322.5 L206.6,1324.1 L207.4,1325.6 L208.2,1327.0 L209.0,1328.2 L209.8,1329.3 L210.6,1330.3 L211.4,1331.2 L212.2,1332.0 L213.0,1332.8 L213.8,1333.5 L214.6,1334.1 L215.4,1334.5 L216.2,1334.7 L217.0,1334.6 L217.8,1334.4 L218.6,1334.1 L219.4,1333.8 L220.2,1333.4 L221.0,1332.9 L221.8,1332.4 L222.6,1331.8 L223.4,1331.0 L224.2,1330.3 L225.0,1329.6 L225.8,1328.8 L226.6,1328.1 L227.4,1327.3 L228.2,1326.6 L229.0,1325.8 L229.8,1325.1 L230.6,1324.3 L231.4,1323.6 L232.2,1322.8 L233.0,1322.1 L233.8,1321.3 L234.6,1320.6 L235.4,1319.8 L236.2,1319.1 L237.0,1318.3 L237.8,1317.4 L238.6,1316.4 L239.4,1315.4 L240.2,1314.3 L241.0,1313.2 L241.8,1311.9 L242.6,1310.4 L243.4,1308.8 L244.2,1307.1 L245.0,1305.4 L245.8,1303.6 L246.6,1301.6 L247.4,1299.4 L248.2,1297.0 L249.0,1294.4 L249.8,1291.6 L250.6,1288.7 L251.4,1285.7 L252.2,1282.5 L253.0,1279.1 L253.8,1275.4 L254.6,1271.4 L255.4,1266.9 L256.2,1262.1 L257.0,1256.9 L257.8,1251.7 L258.6,1246.5 L259.4,1241.2 L260.2,1235.9 L261.0,1230.7 L261.8,1225.4 L262.6,1220.1 L263.4,1214.8 L264.2,1209.5 L265.0,1204.2 L265.8,1198.9 L266.6,1193.5 L267.4,1188.2 L268.2,1182.9 L269.0,1177.5 L269.8,1172.2 L270.6,1166.6 L271.4,1160.2 L272.2,1153.4 L273.0,1146.5 L273.8,1140.0 L274.6,1134.4 L275.4,1130.1 L276.2,1127.2 L277.0,1125.0 L277.8,1123.3 L278.6,1122.4 L279.4,1122.2 L280.2,1123.3 L281.0,1126.2 L281.8,1130.7 L282.6,1136.6 L283.4,1143.7 L284.2,1151.7 L285.0,1159.9 L285.8,1167.7 L286.6,1174.7 L287.4,1181.4 L288.2,1188.0 L289.0,1194.5 L289.8,1200.7 L290.6,1206.8 L291.4,1212.7 L292.2,1218.4 L293.0,1223.7 L293.8,1228.8 L294.6,1233.5 L295.4,1238.0 L296.2,1242.1 L297.0,1245.8 L297.8,1249.2 L298.6,1252.2 L299.4,1254.8 L300.2,1257.0 L301.0,1258.7 L301.8,1260.1 L302.6,1261.0 L303.4,1261.9 L304.2,1262.6 L305.0,1263.1 L305.8,1263.5 L306.6,1263.6 L307.4,1263.5 L308.2,1263.2 L309.0,1262.9 L309.8,1262.6 L310.6,1262.2 L311.4,1261.8 L312.2,1261.3 L313.0,1260.7 L313.8,1260.0 L314.6,1259.4 L315.4,1258.7 L316.2,1258.0 L317.0,1257.3 L317.8,1256.4 L318.6,1255.5 L319.4,1254.5 L320.2,1253.4 L321.0,1252.3 L321.8,1251.1 L322.6,1249.9 L323.4,1248.7 L324.2,1247.4 L325.0,1246.1 L325.8,1244.8 L326.6,1243.4 L327.4,1242.0 L328.2,1240.6 L329.0,1239.1 L329.8,1237.7 L330.6,1236.2 L331.4,1234.6 L332.2,1233.0 L333.0,1231.4 L333.8,1229.8 L334.6,1228.1 L335.4,1226.5 L336.2,1224.8 L337.0,1223.2 L337.8,1221.5 L338.6,1219.9 L339.4,1218.4 L340.2,1216.8 L341.0,1215.4 L341.8,1213.9 L342.6,1212.6 L343.4,1211.3 L344.2,1210.0 L345.0,1208.8 L345.8,1207.6 L346.6,1206.5 L347.4,1205.4 L348.2,1204.4 L349.0,1203.7 L349.8,1203.2 L350.6,1202.8 L351.4,1202.6 L352.2,1202.5 L353.0,1202.5 L353.8,1202.7 L354.6,1203.0 L355.4,1203.6 L356.2,1204.4 L357.0,1205.3 L357.8,1206.6 L358.6,1207.9 L359.4,1209.5 L360.2,1211.3 L361.0,1213.3 L361.8,1215.5 L362.6,1217.8 L363.4,1220.2 L364.2,1222.6 L365.0,1225.1 L365.8,1227.5 L366.6,1230.0 L367.4,1232.4 L368.2,1234.8 L369.0,1237.2 L369.8,1239.6 L370.6,1241.9 L371.4,1244.2 L372.2,1246.5 L373.0,1248.8 L373.8,1251.0 L374.6,1253.2 L375.4,1255.4 L376.2,1257.6 L377.0,1259.7 L377.8,1261.8 L378.6,1263.8 L379.4,1265.6 L380.2,1267.1 L381.0,1268.4 L381.8,1269.5 L382.6,1270.4 L383.4,1271.2 L384.2,1271.9 L385.0,1272.5 L385.8,1273.1 L386.6,1273.6 L387.4,1274.0 L388.2,1274.3 L389.0,1274.5 L389.8,1274.6 L390.6,1274.5 L391.4,1274.4 L392.2,1274.2 L393.0,1273.9 L393.8,1273.5 L394.6,1273.0 L395.4,1272.5 L396.2,1271.9 L397.0,1271.2 L397.8,1270.5 L398.6,1269.8 L399.4,1268.9 L400.2,1268.0 L401.0,1266.9 L401.8,1265.7 L402.6,1264.5 L403.4,1263.1 L404.2,1261.8 L405.0,1260.4 L405.8,1259.0 L406.6,1257.6 L407.4,1256.2 L408.2,1254.7 L409.0,1253.2 L409.8,1251.7 L410.6,1250.2 L411.4,1248.6 L412.2,1247.1 L413.0,1245.5 L413.8,1243.9 L414.6,1242.2 L415.4,1240.5 L416.2,1238.8 L417.0,1237.1 L417.8,1235.3 L418.6,1233.6 L419.4,1231.8 L420.2,1230.1 L421.0,1228.4 L421.8,1226.8 L422.6,1225.2 L423.4,1223.7 L424.2,1222.2 L425.0,1220.9 L425.8,1219.7 L426.6,1218.6 L427.4,1217.6 L428.2,1216.6 L429.0,1215.7 L429.8,1214.9 L430.6,1214.2 L431.4,1213.5 L432.2,1212.9 L433.0,1212.5 L433.8,1212.2 L434.6,1212.0 L435.4,1211.9 L436.2,1211.9 L437.0,1212.0 L437.8,1212.2 L438.6,1212.4 L439.4,1212.8 L440.2,1213.4 L441.0,1214.0 L441.8,1214.8 L442.6,1215.6 L443.4,1216.5 L444.2,1217.5 L445.0,1218.6 L445.8,1219.8 L446.6,1221.2 L447.4,1222.6 L448.2,1224.2 L449.0,1225.7 L449.8,1227.1 L450.6,1228.5 L451.4,1229.9 L452.2,1231.3 L453.0,1232.6 L453.8,1233.9 L454.6,1235.3 L455.4,1236.6 L456.2,1237.8 L457.0,1239.1 L457.8,1240.3 L458.6,1241.5 L459.4,1242.5 L460.2,1243.6 L461.0,1244.6 L461.8,1245.5 L462.6,1246.4 L463.4,1247.3 L464.2,1248.1 L465.0,1248.8 L465.8,1249.3 L466.6,1249.8 L467.4,1250.2 L468.2,1250.5 L469.0,1250.7 L469.8,1250.8 L470.6,1250.9 L471.4,1250.9 L472.2,1250.8 L473.0,1250.8 L473.8,1250.6 L474.6,1250.4 L475.4,1250.2 L476.2,1249.8 L477.0,1249.4 L477.8,1248.8 L478.6,1248.2 L479.4,1247.4 L480.2,1246.6 L481.0,1245.8 L481.8,1245.0 L482.6,1244.1 L483.4,1243.2 L484.2,1242.3 L485.0,1241.4 L485.8,1240.6 L486.6,1239.7 L487.4,1238.9 L488.2,1238.2 L489.0,1237.4 L489.8,1236.7 L490.6,1236.0 L491.4,1235.2 L492.2,1234.5 L493.0,1233.8 L493.8,1233.1 L494.6,1232.5 L495.4,1231.8 L496.2,1231.2 L497.0,1230.5 L497.8,1230.0 L498.6,1229.4 L499.4,1228.9 L500.2,1228.4 L501.0,1228.0 L501.8,1227.6 L502.6,1227.3 L503.4,1227.0 L504.2,1226.7 L505.0,1226.5 L505.8,1226.3 L506.6,1226.1 L507.4,1226.0 L508.2,1225.9 L509.0,1225.8 L509.8,1225.8 L510.6,1225.8 L511.4,1225.8 L512.2,1225.9 L513.0,1226.0 L513.8,1226.2 L514.6,1226.4 L515.4,1226.7 L516.2,1227.0 L517.0,1227.4 L517.8,1227.7 L518.6,1228.2 L519.4,1228.6 L520.2,1229.2 L521.0,1229.7 L521.8,1230.3 L522.6,1231.0 L523.4,1231.7 L524.2,1232.4 L525.0,1233.1 L525.8,1233.8 L526.6,1234.5 L527.4,1235.3 L528.2,1236.0 L529.0,1236.8 L529.8,1237.5 L530.6,1238.3 L531.4,1239.0 L532.2,1239.7 L533.0,1240.4 L533.8,1241.0 L534.6,1241.7 L535.4,1242.4 L536.2,1243.0 L537.0,1243.7 L537.8,1244.3 L538.6,1244.9 L539.4,1245.5 L540.2,1246.1 L541.0,1246.7 L541.8,1247.2 L542.6,1247.8 L543.4,1248.3 L544.2,1248.7 L545.0,1249.1 L545.8,1249.4 L546.6,1249.7 L547.4,1249.9 L548.2,1250.1 L549.0,1250.3 L549.8,1250.4 L550.6,1250.6 L551.4,1250.7 L552.2,1250.8 L553.0,1250.8 L553.8,1250.9 L554.6,1250.9 L555.4,1250.8 L556.2,1250.7 L557.0,1250.6 L557.8,1250.4 L558.6,1250.1 L559.4,1249.8 L560.2,1249.5 L561.0,1249.1 L561.8,1248.7 L562.6,1248.3 L563.4,1247.8 L564.2,1247.3 L565.0,1246.8 L565.8,1246.2 L566.6,1245.6 L567.4,1245.0 L568.2,1244.4 L569.0,1243.7 L569.8,1243.0 L570.6,1242.3 L571.4,1241.6 L572.2,1240.9 L573.0,1240.3 L573.8,1239.6 L574.6,1238.9 L575.4,1238.2 L576.2,1237.6 L577.0,1237.0 L577.8,1236.4 L578.6,1235.9 L579.4,1235.3 L580.2,1234.8 L581.0,1234.3 L581.8,1233.8 L582.6,1233.3 L583.4,1232.9 L584.2,1232.5 L585.0,1232.1 L585.8,1231.7 L586.6,1231.3 L587.4,1231.0 L588.2,1230.7 L589.0,1230.4 L589.8,1230.2 L590.6,1230.0 L591.4,1229.8 L592.2,1229.7 L593.0,1229.7 L593.8,1229.6 L594.6,1229.6 L595.4,1229.6 L596.2,1229.6 L597.0,1229.6 L597.8,1229.7 L598.6,1229.9 L599.4,1230.1 L600.2,1230.4 L601.0,1230.8 L601.8,1231.2 L602.6,1231.7 L603.4,1232.1 L604.2,1232.6 L605.0,1233.1 L605.8,1233.6 L606.6,1234.1 L607.4,1234.6 L608.2,1235.1 L609.0,1235.6 L609.8,1236.1 L610.6,1236.5 L611.4,1237.0 L612.2,1237.5 L613.0,1237.9 L613.8,1238.4 L614.6,1238.8 L615.4,1239.3 L616.2,1239.8 L617.0,1240.2 L617.8,1240.7 L618.6,1241.1 L619.4,1241.5 L620.2,1242.0 L621.0,1242.4 L621.8,1242.8 L622.6,1243.3 L623.4,1243.6 L624.2,1243.9 L625.0,1244.2 L625.8,1244.5 L626.6,1244.7 L627.4,1244.8 L628.2,1245.0 L629.0,1245.0 L629.8,1245.1 L630.6,1245.2 L631.4,1245.2 L632.2,1245.2 L633.0,1245.1 L633.8,1245.1 L634.6,1245.0 L635.4,1244.9 L636.2,1244.8 L637.0,1244.7 L637.8,1244.5 L638.6,1244.3 L639.4,1244.1 L640.2,1243.9 L641.0,1243.7 L641.8,1243.4 L642.6,1243.1 L643.4,1242.8 L644.2,1242.4 L645.0,1242.1 L645.8,1241.7 L646.6,1241.3 L647.4,1240.9 L648.2,1240.5 L649.0,1240.1 L649.8,1239.6 L650.6,1239.2 L651.4,1238.8 L652.2,1238.5 L653.0,1238.1 L653.8,1237.8 L654.6,1237.5 L655.4,1237.2 L656.2,1236.9 L657.0,1236.6 L657.8,1236.3 L658.6,1236.0 L659.4,1235.8 L660.2,1235.5 L661.0,1235.3 L661.8,1235.0 L662.6,1234.8 L663.4,1234.6 L664.2,1234.4 L665.0,1234.2 L665.8,1234.0 L666.6,1233.9 L667.4,1233.8 L668.2,1233.7 L669.0,1233.6 L669.8,1233.5 L670.6,1233.5 L671.4,1233.5 L672.2,1233.4 L673.0,1233.4 L673.8,1233.4 L674.6,1233.4 L675.4,1233.5 L676.2,1233.5 L677.0,1233.6 L677.8,1233.8 L678.6,1234.0 L679.4,1234.3 L680.2,1234.6 L681.0,1234.9 L681.8,1235.2 L682.6,1235.5 L683.4,1235.9 L684.2,1236.2 L685.0,1236.5 L685.8,1236.8 L686.6,1237.1 L687.4,1237.5 L688.2,1237.8 L689.0,1238.1 L689.8,1238.4 L690.6,1238.7 L691.4,1239.1 L692.2,1239.4 L693.0,1239.7 L693.8,1240.0 L694.6,1240.3 L695.4,1240.7 L696.2,1241.0 L697.0,1241.3 L697.8,1241.6 L698.6,1241.9 L699.4,1242.3 L700.2,1242.6 L701.0,1242.9 L701.8,1243.2 L702.6,1243.4 L703.4,1243.6 L704.2,1243.8 L705.0,1243.9 L705.8,1244.0 L706.6,1244.1 L707.4,1244.1 L708.2,1244.1 L709.0,1244.1 L709.8,1244.1 L710.6,1244.1 L711.4,1244.1 L712.2,1244.0 L713.0,1244.0 L713.8,1243.9 L714.6,1243.8 L715.4,1243.7 L716.2,1243.6 L717.0,1243.5 L717.8,1243.4 L718.6,1243.2 L719.4,1243.0 L720.2,1242.9 L721.0,1242.7 L721.8,1242.4 L722.6,1242.2 L723.4,1241.9 L724.2,1241.6 L725.0,1241.3 L725.8,1241.0 L726.6,1240.7 L727.4,1240.4 L728.2,1240.1 L729.0,1239.8 L729.8,1239.5 L730.6,1239.2 L731.4,1238.9 L732.2,1238.7 L733.0,1238.4 L733.8,1238.2 L734.6,1238.0 L735.4,1237.8 L736.2,1237.5 L737.0,1237.3 L737.8,1237.1 L738.6,1236.9 L739.4,1236.8 L740.2,1236.6 L741.0,1236.4 L741.8,1236.3 L742.6,1236.1 L743.4,1236.0 L744.2,1235.8 L745.0,1235.7 L745.8,1235.6 L746.6,1235.5 L747.4,1235.5 L748.2,1235.4 L749.0,1235.3 L749.8,1235.3 L750.6,1235.3 L751.4,1235.3 L752.2,1235.3 L753.0,1235.3 L753.8,1235.4 L754.6,1235.4 L755.4,1235.5 L756.2,1235.5 L757.0,1235.6 L757.8,1235.7 L758.6,1235.8 L759.4,1235.9 L760.2,1236.0 L761.0,1236.1 L761.8,1236.2 L762.6,1236.3 L763.4,1236.5 L764.2,1236.6 L765.0,1236.7 L765.8,1236.9 L766.6,1237.0 L767.4,1237.1 L768.2,1237.3 L769.0,1237.4 L769.8,1237.6 L770.6,1237.7 L771.4,1237.9 L772.2,1238.0 L773.0,1238.2 L773.8,1238.3 L774.6,1238.5 L775.4,1238.6 L776.2,1238.8 L777.0,1239.0 L777.8,1239.2 L777.9,1239.2" stroke="#151515" stroke-width="1.75"/>
<path d="M130.6,900.0 L131.4,1031.4 L132.2,1143.3 L133.0,1221.2 L133.8,1280.6 L134.6,1317.6 L135.4,1305.0 L136.2,1295.7 L137.0,1286.4 L137.8,1277.0 L138.6,1267.7 L139.4,1258.3 L140.2,1248.8 L141.0,1239.3 L141.8,1229.7 L142.6,1220.1 L143.4,1210.5 L144.2,1200.9 L145.0,1191.2 L145.8,1181.4 L146.6,1171.5 L147.4,1161.1 L148.2,1150.4 L149.0,1139.5 L149.8,1128.4 L150.6,1117.4 L151.4,1106.6 L152.2,1096.1 L153.0,1085.6 L153.8,1075.2 L154.6,1065.3 L155.4,1055.8 L156.2,1047.1 L157.0,1039.2 L157.8,1032.5 L158.6,1027.8 L159.4,1025.0 L160.2,1023.0 L161.0,1021.0 L161.8,1019.3 L162.6,1018.5 L163.4,1019.3 L164.2,1021.6 L165.0,1024.9 L165.8,1029.3 L166.6,1035.8 L167.4,1044.7 L168.2,1055.0 L169.0,1065.9 L169.8,1077.2 L170.6,1088.4 L171.4,1099.3 L172.2,1109.4 L173.0,1119.3 L173.8,1129.1 L174.6,1138.8 L175.4,1148.2 L176.2,1157.1 L177.0,1165.4 L177.8,1173.0 L178.6,1180.1 L179.4,1186.9 L180.2,1193.3 L181.0,1199.5 L181.8,1205.4 L182.6,1211.1 L183.4,1216.6 L184.2,1222.0 L185.0,1227.3 L185.8,1232.6 L186.6,1237.9 L187.4,1243.1 L188.2,1248.3 L189.0,1253.4 L189.8,1258.4 L190.6,1263.3 L191.4,1268.1 L192.2,1272.8 L193.0,1277.2 L193.8,1281.5 L194.6,1285.5 L195.4,1289.4 L196.2,1292.9 L197.0,1296.3 L197.8,1299.4 L198.6,1302.3 L199.4,1305.0 L200.2,1307.5 L201.0,1309.8 L201.8,1311.8 L202.6,1313.6 L203.4,1315.2 L204.2,1316.5 L205.0,1317.8 L205.8,1318.9 L206.6,1319.9 L207.4,1320.9 L208.2,1321.8 L209.0,1322.6 L209.8,1323.4 L210.6,1324.0 L211.4,1324.6 L212.2,1325.2 L213.0,1325.6 L213.8,1325.9 L214.6,1326.1 L215.4,1326.2 L216.2,1326.1 L217.0,1325.7 L217.8,1325.2 L218.6,1324.4 L219.4,1323.4 L220.2,1322.1 L221.0,1320.4 L221.8,1318.5 L222.6,1316.5 L223.4,1314.5 L224.2,1312.4 L225.0,1310.4 L225.8,1308.3 L226.6,1306.1 L227.4,1304.0 L228.2,1301.8 L229.0,1299.6 L229.8,1297.3 L230.6,1295.1 L231.4,1292.8 L232.2,1290.6 L233.0,1288.3 L233.8,1286.1 L234.6,1283.8 L235.4,1281.6 L236.2,1279.3 L237.0,1277.1 L237.8,1274.8 L238.6,1272.5 L239.4,1270.2 L240.2,1268.0 L241.0,1265.7 L241.8,1263.4 L242.6,1261.1 L243.4,1258.7 L244.2,1256.4 L245.0,1254.0 L245.8,1251.6 L246.6,1249.2 L247.4,1246.8 L248.2,1244.3 L249.0,1241.9 L249.8,1239.4 L250.6,1237.0 L251.4,1234.6 L252.2,1232.2 L253.0,1229.8 L253.8,1227.4 L254.6,1225.0 L255.4,1222.7 L256.2,1220.4 L257.0,1218.2 L257.8,1216.1 L258.6,1214.1 L259.4,1212.1 L260.2,1210.1 L261.0,1208.2 L261.8,1206.4 L262.6,1204.5 L263.4,1202.7 L264.2,1200.9 L265.0,1199.2 L265.8,1197.6 L266.6,1196.2 L267.4,1194.8 L268.2,1193.6 L269.0,1192.4 L269.8,1191.4 L270.6,1190.7 L271.4,1190.3 L272.2,1190.2 L273.0,1190.3 L273.8,1190.7 L274.6,1191.3 L275.4,1192.3 L276.2,1193.5 L277.0,1194.9 L277.8,1196.5 L278.6,1198.3 L279.4,1200.3 L280.2,1202.4 L281.0,1204.8 L281.8,1207.3 L282.6,1210.0 L283.4,1212.9 L284.2,1215.9 L285.0,1218.9 L285.8,1221.9 L286.6,1224.9 L287.4,1227.7 L288.2,1230.5 L289.0,1233.0 L289.8,1235.4 L290.6,1237.7 L291.4,1239.9 L292.2,1242.0 L293.0,1244.0 L293.8,1245.9 L294.6,1247.7 L295.4,1249.3 L296.2,1250.7 L297.0,1251.9 L297.8,1252.9 L298.6,1253.8 L299.4,1254.5 L300.2,1255.1 L301.0,1255.6 L301.8,1256.0 L302.6,1256.3 L303.4,1256.6 L304.2,1256.9 L305.0,1257.1 L305.8,1257.2 L306.6,1257.1 L307.4,1256.9 L308.2,1256.6 L309.0,1256.3 L309.8,1255.9 L310.6,1255.5 L311.4,1255.1 L312.2,1254.6 L313.0,1254.2 L313.8,1253.7 L314.6,1253.2 L315.4,1252.7 L316.2,1252.1 L317.0,1251.5 L317.8,1250.8 L318.6,1250.1 L319.4,1249.3 L320.2,1248.3 L321.0,1247.3 L321.8,1246.3 L322.6,1245.1 L323.4,1244.0 L324.2,1242.8 L325.0,1241.5 L325.8,1240.3 L326.6,1239.0 L327.4,1237.8 L328.2,1236.5 L329.0,1235.3 L329.8,1234.2 L330.6,1233.1 L331.4,1232.0 L332.2,1231.1 L333.0,1230.1 L333.8,1229.2 L334.6,1228.3 L335.4,1227.4 L336.2,1226.5 L337.0,1225.7 L337.8,1224.9 L338.6,1224.1 L339.4,1223.3 L340.2,1222.5 L341.0,1221.8 L341.8,1221.1 L342.6,1220.4 L343.4,1219.8 L344.2,1219.2 L345.0,1218.8 L345.8,1218.4 L346.6,1218.1 L347.4,1217.9 L348.2,1217.8 L349.0,1217.8 L349.8,1217.9 L350.6,1218.0 L351.4,1218.2 L352.2,1218.5 L353.0,1219.0 L353.8,1219.5 L354.6,1220.1 L355.4,1220.8 L356.2,1221.6 L357.0,1222.4 L357.8,1223.3 L358.6,1224.1 L359.4,1225.0 L360.2,1225.9 L361.0,1226.8 L361.8,1227.7 L362.6,1228.7 L363.4,1229.7 L364.2,1230.7 L365.0,1231.7 L365.8,1232.8 L366.6,1233.8 L367.4,1234.9 L368.2,1236.0 L369.0,1237.0 L369.8,1238.1 L370.6,1239.1 L371.4,1240.1 L372.2,1241.0 L373.0,1242.0 L373.8,1242.8 L374.6,1243.7 L375.4,1244.4 L376.2,1245.1 L377.0,1245.7 L377.8,1246.2 L378.6,1246.7 L379.4,1247.2 L380.2,1247.6 L381.0,1247.9 L381.8,1248.3 L382.6,1248.6 L383.4,1248.9 L384.2,1249.2 L385.0,1249.5 L385.8,1249.8 L386.6,1250.0 L387.4,1250.2 L388.2,1250.4 L389.0,1250.6 L389.8,1250.7 L390.6,1250.7 L391.4,1250.7 L392.2,1250.7 L393.0,1250.7 L393.8,1250.6 L394.6,1250.5 L395.4,1250.3 L396.2,1250.1 L397.0,1249.8 L397.8,1249.5 L398.6,1249.1 L399.4,1248.6 L400.2,1248.2 L401.0,1247.7 L401.8,1247.3 L402.6,1246.8 L403.4,1246.3 L404.2,1245.8 L405.0,1245.3 L405.8,1244.8 L406.6,1244.3 L407.4,1243.8 L408.2,1243.3 L409.0,1242.8 L409.8,1242.3 L410.6,1241.8 L411.4,1241.2 L412.2,1240.6 L413.0,1240.1 L413.8,1239.5 L414.6,1239.0 L415.4,1238.4 L416.2,1237.8 L417.0,1237.3 L417.8,1236.8 L418.6,1236.2 L419.4,1235.7 L420.2,1235.3 L421.0,1234.8 L421.8,1234.4 L422.6,1234.1 L423.4,1233.8 L424.2,1233.5 L425.0,1233.4 L425.8,1233.2 L426.6,1233.1 L427.4,1233.0 L428.2,1232.9 L429.0,1232.8 L429.8,1232.6 L430.6,1232.5 L431.4,1232.4 L432.2,1232.3 L433.0,1232.3 L433.8,1232.2 L434.6,1232.2 L435.4,1232.2 L436.2,1232.3 L437.0,1232.4 L437.8,1232.5 L438.6,1232.6 L439.4,1232.8 L440.2,1232.9 L441.0,1233.1 L441.8,1233.3 L442.6,1233.5 L443.4,1233.8 L444.2,1234.0 L445.0,1234.3 L445.8,1234.5 L446.6,1234.8 L447.4,1235.1 L448.2,1235.4 L449.0,1235.6 L449.8,1235.9 L450.6,1236.2 L451.4,1236.5 L452.2,1236.8 L453.0,1237.2 L453.8,1237.5 L454.6,1237.8 L455.4,1238.2 L456.2,1238.5 L457.0,1238.8 L457.8,1239.2 L458.6,1239.5 L459.4,1239.8 L460.2,1240.1 L461.0,1240.4 L461.8,1240.6 L462.6,1240.9 L463.4,1241.1 L464.2,1241.3 L465.0,1241.4 L465.8,1241.6 L466.6,1241.7 L467.4,1241.8 L468.2,1241.8 L469.0,1241.9 L469.8,1241.9 L470.6,1241.9 L471.4,1241.9 L472.2,1241.9 L473.0,1241.9 L473.8,1241.9 L474.6,1241.8 L475.4,1241.7 L476.2,1241.6 L477.0,1241.5 L477.8,1241.4 L478.6,1241.3 L479.4,1241.2 L480.2,1241.0 L481.0,1240.9 L481.8,1240.7 L482.6,1240.5 L483.4,1240.3 L484.2,1240.1 L485.0,1239.9 L485.8,1239.6 L486.6,1239.4 L487.4,1239.1 L488.2,1238.9 L489.0,1238.6 L489.8,1238.4 L490.6,1238.1 L491.4,1237.9 L492.2,1237.6 L493.0,1237.4 L493.8,1237.2 L494.6,1236.9 L495.4,1236.7 L496.2,1236.5 L497.0,1236.4 L497.8,1236.2 L498.6,1236.0 L499.4,1235.9 L500.2,1235.7 L501.0,1235.6 L501.8,1235.4 L502.6,1235.3 L503.4,1235.2 L504.2,1235.1 L505.0,1235.0 L505.8,1234.9 L506.6,1234.9 L507.4,1234.8 L508.2,1234.8 L509.0,1234.8 L509.8,1234.8 L510.6,1234.9 L511.4,1234.9 L512.2,1235.0 L513.0,1235.1 L513.8,1235.2 L514.6,1235.3 L515.4,1235.4 L516.2,1235.5 L517.0,1235.6 L517.8,1235.7 L518.6,1235.8 L519.4,1235.9 L520.2,1236.0 L521.0,1236.2 L521.8,1236.3 L522.6,1236.4 L523.4,1236.5 L524.2,1236.7 L525.0,1236.8 L525.8,1236.9 L526.6,1237.1 L527.4,1237.2 L528.2,1237.4 L529.0,1237.5 L529.8,1237.7 L530.6,1237.8 L531.4,1238.0 L532.2,1238.1 L533.0,1238.3 L533.8,1238.4 L534.6,1238.6 L535.4,1238.7 L536.2,1238.9 L537.0,1239.0 L537.8,1239.2 L538.6,1239.3 L539.4,1239.5 L540.2,1239.6 L541.0,1239.8 L541.8,1239.9 L542.6,1240.0 L543.4,1240.1 L544.2,1240.2 L545.0,1240.3 L545.8,1240.4 L546.6,1240.5 L547.4,1240.6 L548.2,1240.7 L549.0,1240.7 L549.8,1240.8 L550.6,1240.8 L551.4,1240.8 L552.2,1240.8 L553.0,1240.7 L553.8,1240.7 L554.6,1240.6 L555.4,1240.6 L556.2,1240.5 L557.0,1240.4 L557.8,1240.3 L558.6,1240.3 L559.4,1240.2 L560.2,1240.1 L561.0,1240.0 L561.8,1240.0 L562.6,1239.9 L563.4,1239.8 L564.2,1239.7 L565.0,1239.6 L565.8,1239.5 L566.6,1239.4 L567.4,1239.4 L568.2,1239.3 L569.0,1239.2 L569.8,1239.1 L570.6,1239.0 L571.4,1238.9 L572.2,1238.8 L573.0,1238.7 L573.8,1238.6 L574.6,1238.5 L575.4,1238.4 L576.2,1238.4 L577.0,1238.3 L577.8,1238.2 L578.6,1238.1 L579.4,1238.0 L580.2,1237.9 L581.0,1237.8 L581.8,1237.7 L582.6,1237.6 L583.4,1237.5 L584.2,1237.5 L585.0,1237.4 L585.8,1237.3 L586.6,1237.2 L587.4,1237.2 L588.2,1237.1 L589.0,1237.1 L589.8,1237.0 L590.6,1237.0 L591.4,1237.0 L592.2,1237.0 L593.0,1237.0 L593.8,1237.0 L594.6,1237.0 L595.4,1237.0 L596.2,1237.0 L597.0,1237.1 L597.8,1237.1 L598.6,1237.2 L599.4,1237.2 L600.2,1237.3 L601.0,1237.3 L601.8,1237.4 L602.6,1237.4 L603.4,1237.5 L604.2,1237.6 L605.0,1237.6 L605.8,1237.7 L606.6,1237.7 L607.4,1237.8 L608.2,1237.9 L609.0,1237.9 L609.8,1238.0 L610.6,1238.1 L611.4,1238.1 L612.2,1238.2 L613.0,1238.2 L613.8,1238.3 L614.6,1238.4 L615.4,1238.4 L616.2,1238.5 L617.0,1238.6 L617.8,1238.6 L618.6,1238.7 L619.4,1238.8 L620.2,1238.9 L621.0,1238.9 L621.8,1239.0 L622.6,1239.1 L623.4,1239.1 L624.2,1239.2 L625.0,1239.2 L625.8,1239.3 L626.6,1239.4 L627.4,1239.4 L628.2,1239.5 L629.0,1239.5 L629.8,1239.6 L630.6,1239.6 L631.4,1239.7 L632.2,1239.7 L633.0,1239.7 L633.8,1239.7 L634.6,1239.6 L635.4,1239.6 L636.2,1239.5 L637.0,1239.5 L637.8,1239.4 L638.6,1239.4 L639.4,1239.3 L640.2,1239.2 L641.0,1239.2 L641.8,1239.1 L642.6,1239.1 L643.4,1239.0 L644.2,1239.0 L645.0,1238.9 L645.8,1238.8 L646.6,1238.8 L647.4,1238.7 L648.2,1238.7 L649.0,1238.6 L649.8,1238.5 L650.6,1238.5 L651.4,1238.4 L652.2,1238.4 L653.0,1238.3 L653.8,1238.3 L654.6,1238.2 L655.4,1238.2 L656.2,1238.1 L657.0,1238.0 L657.8,1238.0 L658.6,1237.9 L659.4,1237.9 L660.2,1237.8 L661.0,1237.8 L661.8,1237.7 L662.6,1237.7 L663.4,1237.6 L664.2,1237.6 L665.0,1237.6 L665.8,1237.6 L666.6,1237.6 L667.4,1237.6 L668.2,1237.6 L669.0,1237.6 L669.8,1237.6 L670.6,1237.6 L671.4,1237.6 L672.2,1237.7 L673.0,1237.7 L673.8,1237.7 L674.6,1237.8 L675.4,1237.8 L676.2,1237.8 L677.0,1237.9 L677.8,1237.9 L678.6,1237.9 L679.4,1238.0 L680.2,1238.0 L681.0,1238.0 L681.8,1238.1 L682.6,1238.1 L683.4,1238.1 L684.2,1238.2 L685.0,1238.2 L685.8,1238.3 L686.6,1238.3 L687.4,1238.3 L688.2,1238.3 L689.0,1238.4 L689.8,1238.4 L690.6,1238.4 L691.4,1238.5 L692.2,1238.5 L693.0,1238.5 L693.8,1238.5 L694.6,1238.6 L695.4,1238.6 L696.2,1238.6 L697.0,1238.7 L697.8,1238.7 L698.6,1238.7 L699.4,1238.7 L700.2,1238.7 L701.0,1238.7 L701.8,1238.8 L702.6,1238.8 L703.4,1238.8 L704.2,1238.8 L705.0,1238.8 L705.8,1238.8 L706.6,1238.7 L707.4,1238.7 L708.2,1238.7 L709.0,1238.7 L709.8,1238.7 L710.6,1238.7 L711.4,1238.7 L712.2,1238.7 L713.0,1238.7 L713.8,1238.7 L714.6,1238.7 L715.4,1238.7 L716.2,1238.6 L717.0,1238.6 L717.8,1238.6 L718.6,1238.6 L719.4,1238.6 L720.2,1238.6 L721.0,1238.6 L721.8,1238.6 L722.6,1238.6 L723.4,1238.6 L724.2,1238.6 L725.0,1238.6 L725.8,1238.6 L726.6,1238.5 L727.4,1238.5 L728.2,1238.5 L729.0,1238.5 L729.8,1238.5 L730.6,1238.5 L731.4,1238.5 L732.2,1238.5 L733.0,1238.5 L733.8,1238.5 L734.6,1238.5 L735.4,1238.5 L736.2,1238.4 L737.0,1238.4 L737.8,1238.4 L738.6,1238.4 L739.4,1238.4 L740.2,1238.4 L741.0,1238.4 L741.8,1238.4 L742.6,1238.4 L743.4,1238.4 L744.2,1238.4 L745.0,1238.4 L745.8,1238.4 L746.6,1238.3 L747.4,1238.3 L748.2,1238.3 L749.0,1238.3 L749.8,1238.3 L750.6,1238.3 L751.4,1238.3 L752.2,1238.3 L753.0,1238.3 L753.8,1238.3 L754.6,1238.3 L755.4,1238.4 L756.2,1238.4 L757.0,1238.4 L757.8,1238.4 L758.6,1238.4 L759.4,1238.4 L760.2,1238.4 L761.0,1238.5 L761.8,1238.5 L762.6,1238.5 L763.4,1238.5 L764.2,1238.5 L765.0,1238.6 L765.8,1238.6 L766.6,1238.6 L767.4,1238.6 L768.2,1238.7 L769.0,1238.7 L769.8,1238.7 L770.6,1238.8 L771.4,1238.8 L772.2,1238.9 L773.0,1238.9 L773.8,1238.9 L774.6,1239.0 L775.4,1239.0 L776.2,1239.1 L777.0,1239.1 L777.8,1239.2 L777.9,1239.2" stroke="#d93434" stroke-width="1.75"/>
<path d="M130.6,900.0 L131.4,1031.4 L132.2,1143.3 L133.0,1221.2 L133.8,1280.6 L134.6,1317.6 L135.4,1305.0 L136.2,1295.7 L137.0,1286.4 L137.8,1277.0 L138.6,1267.7 L139.4,1258.3 L140.2,1248.8 L141.0,1239.3 L141.8,1229.7 L142.6,1220.1 L143.4,1210.5 L144.2,1200.9 L145.0,1191.2 L145.8,1181.4 L146.6,1171.5 L147.4,1161.1 L148.2,1150.4 L149.0,1139.4 L149.8,1128.4 L150.6,1117.4 L151.4,1106.6 L152.2,1096.1 L153.0,1085.7 L153.8,1075.5 L154.6,1065.7 L155.4,1056.3 L156.2,1047.5 L157.0,1039.5 L157.8,1032.3 L158.6,1027.2 L159.4,1023.8 L160.2,1021.2 L161.0,1018.8 L161.8,1016.9 L162.6,1016.0 L163.4,1016.9 L164.2,1019.6 L165.0,1023.2 L165.8,1028.0 L166.6,1034.7 L167.4,1043.8 L168.2,1054.2 L169.0,1065.3 L169.8,1076.8 L170.6,1088.2 L171.4,1099.2 L172.2,1109.4 L173.0,1119.3 L173.8,1129.2 L174.6,1139.0 L175.4,1148.4 L176.2,1157.3 L177.0,1165.5 L177.8,1173.0 L178.6,1180.0 L179.4,1186.7 L180.2,1193.1 L181.0,1199.2 L181.8,1205.1 L182.6,1210.9 L183.4,1216.4 L184.2,1221.9 L185.0,1227.3 L185.8,1232.6 L186.6,1237.9 L187.4,1243.2 L188.2,1248.4 L189.0,1253.6 L189.8,1258.7 L190.6,1263.7 L191.4,1268.6 L192.2,1273.3 L193.0,1277.9 L193.8,1282.3 L194.6,1286.5 L195.4,1290.4 L196.2,1294.1 L197.0,1297.6 L197.8,1300.9 L198.6,1303.9 L199.4,1306.7 L200.2,1309.2 L201.0,1311.6 L201.8,1313.7 L202.6,1315.5 L203.4,1317.2 L204.2,1318.7 L205.0,1320.0 L205.8,1321.2 L206.6,1322.3 L207.4,1323.3 L208.2,1324.3 L209.0,1325.1 L209.8,1325.9 L210.6,1326.6 L211.4,1327.2 L212.2,1327.8 L213.0,1328.2 L213.8,1328.5 L214.6,1328.7 L215.4,1328.7 L216.2,1328.6 L217.0,1328.2 L217.8,1327.6 L218.6,1326.8 L219.4,1325.7 L220.2,1324.3 L221.0,1322.5 L221.8,1320.5 L222.6,1318.5 L223.4,1316.4 L224.2,1314.2 L225.0,1312.1 L225.8,1309.9 L226.6,1307.7 L227.4,1305.4 L228.2,1303.1 L229.0,1300.8 L229.8,1298.4 L230.6,1296.0 L231.4,1293.6 L232.2,1291.2 L233.0,1288.8 L233.8,1286.4 L234.6,1284.1 L235.4,1281.7 L236.2,1279.3 L237.0,1276.9 L237.8,1274.5 L238.6,1272.1 L239.4,1269.7 L240.2,1267.3 L241.0,1264.8 L241.8,1262.4 L242.6,1260.0 L243.4,1257.6 L244.2,1255.1 L245.0,1252.7 L245.8,1250.2 L246.6,1247.7 L247.4,1245.2 L248.2,1242.7 L249.0,1240.3 L249.8,1237.8 L250.6,1235.3 L251.4,1232.8 L252.2,1230.3 L253.0,1227.9 L253.8,1225.4 L254.6,1223.0 L255.4,1220.5 L256.2,1218.2 L257.0,1215.9 L257.8,1213.7 L258.6,1211.6 L259.4,1209.5 L260.2,1207.4 L261.0,1205.4 L261.8,1203.4 L262.6,1201.5 L263.4,1199.5 L264.2,1197.6 L265.0,1195.8 L265.8,1194.1 L266.6,1192.5 L267.4,1191.1 L268.2,1189.7 L269.0,1188.4 L269.8,1187.3 L270.6,1186.5 L271.4,1186.1 L272.2,1185.9 L273.0,1186.0 L273.8,1186.4 L274.6,1187.2 L275.4,1188.3 L276.2,1189.8 L277.0,1191.5 L277.8,1193.4 L278.6,1195.5 L279.4,1197.7 L280.2,1200.1 L281.0,1202.7 L281.8,1205.5 L282.6,1208.4 L283.4,1211.5 L284.2,1214.7 L285.0,1217.9 L285.8,1221.1 L286.6,1224.3 L287.4,1227.3 L288.2,1230.2 L289.0,1233.0 L289.8,1235.5 L290.6,1237.9 L291.4,1240.3 L292.2,1242.5 L293.0,1244.6 L293.8,1246.6 L294.6,1248.4 L295.4,1250.1 L296.2,1251.6 L297.0,1252.9 L297.8,1254.0 L298.6,1254.9 L299.4,1255.7 L300.2,1256.4 L301.0,1257.0 L301.8,1257.5 L302.6,1257.8 L303.4,1258.2 L304.2,1258.5 L305.0,1258.7 L305.8,1258.8 L306.6,1258.8 L307.4,1258.6 L308.2,1258.4 L309.0,1258.1 L309.8,1257.7 L310.6,1257.3 L311.4,1256.8 L312.2,1256.3 L313.0,1255.8 L313.8,1255.2 L314.6,1254.6 L315.4,1254.0 L316.2,1253.3 L317.0,1252.5 L317.8,1251.7 L318.6,1250.8 L319.4,1249.8 L320.2,1248.8 L321.0,1247.6 L321.8,1246.4 L322.6,1245.2 L323.4,1243.9 L324.2,1242.6 L325.0,1241.2 L325.8,1239.9 L326.6,1238.6 L327.4,1237.2 L328.2,1235.9 L329.0,1234.6 L329.8,1233.4 L330.6,1232.2 L331.4,1231.0 L332.2,1230.0 L333.0,1228.9 L333.8,1227.9 L334.6,1226.9 L335.4,1225.9 L336.2,1225.0 L337.0,1224.1 L337.8,1223.2 L338.6,1222.3 L339.4,1221.4 L340.2,1220.6 L341.0,1219.8 L341.8,1219.0 L342.6,1218.2 L343.4,1217.5 L344.2,1216.9 L345.0,1216.4 L345.8,1216.0 L346.6,1215.7 L347.4,1215.4 L348.2,1215.3 L349.0,1215.3 L349.8,1215.3 L350.6,1215.5 L351.4,1215.7 L352.2,1216.1 L353.0,1216.6 L353.8,1217.2 L354.6,1217.9 L355.4,1218.8 L356.2,1219.7 L357.0,1220.6 L357.8,1221.6 L358.6,1222.6 L359.4,1223.6 L360.2,1224.6 L361.0,1225.7 L361.8,1226.7 L362.6,1227.8 L363.4,1228.9 L364.2,1230.1 L365.0,1231.3 L365.8,1232.5 L366.6,1233.7 L367.4,1234.9 L368.2,1236.1 L369.0,1237.2 L369.8,1238.4 L370.6,1239.6 L371.4,1240.7 L372.2,1241.8 L373.0,1242.8 L373.8,1243.8 L374.6,1244.8 L375.4,1245.6 L376.2,1246.4 L377.0,1247.1 L377.8,1247.7 L378.6,1248.2 L379.4,1248.7 L380.2,1249.1 L381.0,1249.5 L381.8,1249.9 L382.6,1250.2 L383.4,1250.6 L384.2,1250.9 L385.0,1251.2 L385.8,1251.5 L386.6,1251.8 L387.4,1252.1 L388.2,1252.3 L389.0,1252.4 L389.8,1252.6 L390.6,1252.6 L391.4,1252.7 L392.2,1252.6 L393.0,1252.6 L393.8,1252.5 L394.6,1252.3 L395.4,1252.1 L396.2,1251.9 L397.0,1251.6 L397.8,1251.2 L398.6,1250.8 L399.4,1250.3 L400.2,1249.8 L401.0,1249.3 L401.8,1248.8 L402.6,1248.3 L403.4,1247.8 L404.2,1247.2 L405.0,1246.7 L405.8,1246.1 L406.6,1245.6 L407.4,1245.0 L408.2,1244.4 L409.0,1243.8 L409.8,1243.2 L410.6,1242.5 L411.4,1241.9 L412.2,1241.2 L413.0,1240.5 L413.8,1239.8 L414.6,1239.1 L415.4,1238.4 L416.2,1237.8 L417.0,1237.1 L417.8,1236.5 L418.6,1235.8 L419.4,1235.2 L420.2,1234.7 L421.0,1234.2 L421.8,1233.7 L422.6,1233.3 L423.4,1233.0 L424.2,1232.7 L425.0,1232.4 L425.8,1232.2 L426.6,1232.0 L427.4,1231.8 L428.2,1231.7 L429.0,1231.5 L429.8,1231.4 L430.6,1231.2 L431.4,1231.0 L432.2,1230.9 L433.0,1230.8 L433.8,1230.7 L434.6,1230.7 L435.4,1230.7 L436.2,1230.8 L437.0,1230.9 L437.8,1231.1 L438.6,1231.2 L439.4,1231.4 L440.2,1231.6 L441.0,1231.9 L441.8,1232.1 L442.6,1232.4 L443.4,1232.7 L444.2,1233.0 L445.0,1233.4 L445.8,1233.7 L446.6,1234.1 L447.4,1234.4 L448.2,1234.8 L449.0,1235.1 L449.8,1235.5 L450.6,1235.9 L451.4,1236.2 L452.2,1236.7 L453.0,1237.1 L453.8,1237.5 L454.6,1237.9 L455.4,1238.4 L456.2,1238.8 L457.0,1239.3 L457.8,1239.7 L458.6,1240.1 L459.4,1240.5 L460.2,1240.9 L461.0,1241.3 L461.8,1241.6 L462.6,1241.9 L463.4,1242.2 L464.2,1242.4 L465.0,1242.6 L465.8,1242.8 L466.6,1242.9 L467.4,1243.0 L468.2,1243.1 L469.0,1243.2 L469.8,1243.2 L470.6,1243.2 L471.4,1243.2 L472.2,1243.2 L473.0,1243.1 L473.8,1243.1 L474.6,1243.0 L475.4,1242.9 L476.2,1242.8 L477.0,1242.7 L477.8,1242.5 L478.6,1242.3 L479.4,1242.2 L480.2,1242.0 L481.0,1241.8 L481.8,1241.5 L482.6,1241.3 L483.4,1241.0 L484.2,1240.8 L485.0,1240.5 L485.8,1240.2 L486.6,1239.9 L487.4,1239.5 L488.2,1239.2 L489.0,1238.9 L489.8,1238.5 L490.6,1238.2 L491.4,1237.9 L492.2,1237.6 L493.0,1237.3 L493.8,1237.0 L494.6,1236.7 L495.4,1236.4 L496.2,1236.2 L497.0,1235.9 L497.8,1235.7 L498.6,1235.5 L499.4,1235.3 L500.2,1235.1 L501.0,1234.9 L501.8,1234.7 L502.6,1234.5 L503.4,1234.3 L504.2,1234.2 L505.0,1234.1 L505.8,1233.9 L506.6,1233.9 L507.4,1233.8 L508.2,1233.7 L509.0,1233.7 L509.8,1233.7 L510.6,1233.8 L511.4,1233.8 L512.2,1233.9 L513.0,1234.0 L513.8,1234.2 L514.6,1234.3 L515.4,1234.4 L516.2,1234.5 L517.0,1234.7 L517.8,1234.8 L518.6,1235.0 L519.4,1235.1 L520.2,1235.3 L521.0,1235.4 L521.8,1235.6 L522.6,1235.8 L523.4,1235.9 L524.2,1236.1 L525.0,1236.3 L525.8,1236.5 L526.6,1236.7 L527.4,1236.8 L528.2,1237.0 L529.0,1237.2 L529.8,1237.4 L530.6,1237.6 L531.4,1237.8 L532.2,1238.0 L533.0,1238.2 L533.8,1238.4 L534.6,1238.6 L535.4,1238.8 L536.2,1239.0 L537.0,1239.2 L537.8,1239.4 L538.6,1239.6 L539.4,1239.8 L540.2,1240.0 L541.0,1240.2 L541.8,1240.3 L542.6,1240.5 L543.4,1240.7 L544.2,1240.9 L545.0,1241.0 L545.8,1241.2 L546.6,1241.3 L547.4,1241.4 L548.2,1241.6 L549.0,1241.7 L549.8,1241.7 L550.6,1241.8 L551.4,1241.8 L552.2,1241.8 L553.0,1241.8 L553.8,1241.8 L554.6,1241.7 L555.4,1241.6 L556.2,1241.5 L557.0,1241.4 L557.8,1241.3 L558.6,1241.2 L559.4,1241.1 L560.2,1241.0 L561.0,1240.9 L561.8,1240.8 L562.6,1240.6 L563.4,1240.5 L564.2,1240.4 L565.0,1240.3 L565.8,1240.1 L566.6,1240.0 L567.4,1239.9 L568.2,1239.7 L569.0,1239.6 L569.8,1239.5 L570.6,1239.3 L571.4,1239.2 L572.2,1239.1 L573.0,1238.9 L573.8,1238.8 L574.6,1238.6 L575.4,1238.5 L576.2,1238.4 L577.0,1238.2 L577.8,1238.1 L578.6,1237.9 L579.4,1237.8 L580.2,1237.7 L581.0,1237.5 L581.8,1237.4 L582.6,1237.3 L583.4,1237.1 L584.2,1237.0 L585.0,1236.9 L585.8,1236.8 L586.6,1236.7 L587.4,1236.6 L588.2,1236.5 L589.0,1236.4 L589.8,1236.3 L590.6,1236.3 L591.4,1236.3 L592.2,1236.2 L593.0,1236.2 L593.8,1236.2 L594.6,1236.3 L595.4,1236.3 L596.2,1236.4 L597.0,1236.5 L597.8,1236.6 L598.6,1236.6 L599.4,1236.7 L600.2,1236.8 L601.0,1236.9 L601.8,1237.0 L602.6,1237.1 L603.4,1237.2 L604.2,1237.3 L605.0,1237.4 L605.8,1237.5 L606.6,1237.6 L607.4,1237.6 L608.2,1237.7 L609.0,1237.8 L609.8,1237.9 L610.6,1238.0 L611.4,1238.1 L612.2,1238.2 L613.0,1238.3 L613.8,1238.4 L614.6,1238.5 L615.4,1238.6 L616.2,1238.7 L617.0,1238.8 L617.8,1238.9 L618.6,1239.0 L619.4,1239.0 L620.2,1239.1 L621.0,1239.2 L621.8,1239.3 L622.6,1239.4 L623.4,1239.5 L624.2,1239.6 L625.0,1239.7 L625.8,1239.8 L626.6,1239.9 L627.4,1240.0 L628.2,1240.1 L629.0,1240.2 L629.8,1240.2 L630.6,1240.3 L631.4,1240.3 L632.2,1240.4 L633.0,1240.4 L633.8,1240.3 L634.6,1240.3 L635.4,1240.2 L636.2,1240.1 L637.0,1240.0 L637.8,1240.0 L638.6,1239.9 L639.4,1239.8 L640.2,1239.7 L641.0,1239.6 L641.8,1239.6 L642.6,1239.5 L643.4,1239.4 L644.2,1239.3 L645.0,1239.2 L645.8,1239.2 L646.6,1239.1 L647.4,1239.0 L648.2,1238.9 L649.0,1238.8 L649.8,1238.8 L650.6,1238.7 L651.4,1238.6 L652.2,1238.5 L653.0,1238.4 L653.8,1238.4 L654.6,1238.3 L655.4,1238.2 L656.2,1238.1 L657.0,1238.0 L657.8,1238.0 L658.6,1237.9 L659.4,1237.8 L660.2,1237.7 L661.0,1237.6 L661.8,1237.6 L662.6,1237.5 L663.4,1237.4 L664.2,1237.3 L665.0,1237.3 L665.8,1237.2 L666.6,1237.2 L667.4,1237.2 L668.2,1237.2 L669.0,1237.2 L669.8,1237.2 L670.6,1237.2 L671.4,1237.2 L672.2,1237.2 L673.0,1237.3 L673.8,1237.3 L674.6,1237.4 L675.4,1237.4 L676.2,1237.5 L677.0,1237.5 L677.8,1237.6 L678.6,1237.6 L679.4,1237.7 L680.2,1237.8 L681.0,1237.8 L681.8,1237.9 L682.6,1238.0 L683.4,1238.0 L684.2,1238.1 L685.0,1238.1 L685.8,1238.2 L686.6,1238.2 L687.4,1238.3 L688.2,1238.3 L689.0,1238.4 L689.8,1238.4 L690.6,1238.5 L691.4,1238.6 L692.2,1238.6 L693.0,1238.7 L693.8,1238.7 L694.6,1238.8 L695.4,1238.8 L696.2,1238.9 L697.0,1238.9 L697.8,1239.0 L698.6,1239.0 L699.4,1239.0 L700.2,1239.1 L701.0,1239.1 L701.8,1239.1 L702.6,1239.2 L703.4,1239.2 L704.2,1239.2 L705.0,1239.2 L705.8,1239.2 L706.6,1239.2 L707.4,1239.2 L708.2,1239.2 L709.0,1239.2 L709.8,1239.2 L710.6,1239.1 L711.4,1239.1 L712.2,1239.1 L713.0,1239.1 L713.8,1239.1 L714.6,1239.1 L715.4,1239.1 L716.2,1239.0 L717.0,1239.0 L717.8,1239.0 L718.6,1239.0 L719.4,1238.9 L720.2,1238.9 L721.0,1238.9 L721.8,1238.9 L722.6,1238.9 L723.4,1238.8 L724.2,1238.8 L725.0,1238.8 L725.8,1238.8 L726.6,1238.7 L727.4,1238.7 L728.2,1238.7 L729.0,1238.7 L729.8,1238.7 L730.6,1238.6 L731.4,1238.6 L732.2,1238.6 L733.0,1238.5 L733.8,1238.5 L734.6,1238.5 L735.4,1238.5 L736.2,1238.4 L737.0,1238.4 L737.8,1238.4 L738.6,1238.3 L739.4,1238.3 L740.2,1238.3 L741.0,1238.3 L741.8,1238.2 L742.6,1238.2 L743.4,1238.2 L744.2,1238.2 L745.0,1238.2 L745.8,1238.1 L746.6,1238.1 L747.4,1238.1 L748.2,1238.1 L749.0,1238.1 L749.8,1238.1 L750.6,1238.1 L751.4,1238.1 L752.2,1238.1 L753.0,1238.1 L753.8,1238.2 L754.6,1238.2 L755.4,1238.2 L756.2,1238.2 L757.0,1238.3 L757.8,1238.3 L758.6,1238.3 L759.4,1238.3 L760.2,1238.4 L761.0,1238.4 L761.8,1238.4 L762.6,1238.5 L763.4,1238.5 L764.2,1238.5 L765.0,1238.6 L765.8,1238.6 L766.6,1238.6 L767.4,1238.7 L768.2,1238.7 L769.0,1238.7 L769.8,1238.8 L770.6,1238.8 L771.4,1238.8 L772.2,1238.9 L773.0,1238.9 L773.8,1239.0 L774.6,1239.0 L775.4,1239.0 L776.2,1239.1 L777.0,1239.1 L777.8,1239.2 L777.9,1239.2" stroke="#d93434" stroke-width="1.75" stroke-dasharray="5.2 2.3"/>
<path d="M130.6,900.0 L131.4,1031.4 L132.2,1143.3 L133.0,1221.2 L133.8,1280.6 L134.6,1317.6 L135.4,1305.0 L136.2,1295.7 L137.0,1286.4 L137.8,1277.0 L138.6,1267.7 L139.4,1258.3 L140.2,1248.8 L141.0,1239.3 L141.8,1229.7 L142.6,1220.1 L143.4,1210.5 L144.2,1200.9 L145.0,1191.2 L145.8,1181.4 L146.6,1171.5 L147.4,1161.1 L148.2,1150.4 L149.0,1139.4 L149.8,1128.4 L150.6,1117.4 L151.4,1106.6 L152.2,1096.1 L153.0,1085.9 L153.8,1076.0 L154.6,1066.4 L155.4,1057.1 L156.2,1048.3 L157.0,1040.0 L157.8,1032.1 L158.6,1025.8 L159.4,1021.1 L160.2,1017.5 L161.0,1014.5 L161.8,1012.2 L162.6,1010.9 L163.4,1010.5 L164.2,1011.8 L165.0,1015.8 L165.8,1022.0 L166.6,1030.1 L167.4,1039.5 L168.2,1049.9 L169.0,1060.9 L169.8,1072.2 L170.6,1083.4 L171.4,1094.3 L172.2,1104.6 L173.0,1114.1 L173.8,1123.4 L174.6,1132.5 L175.4,1141.3 L176.2,1149.7 L177.0,1157.8 L177.8,1165.3 L178.6,1172.4 L179.4,1179.2 L180.2,1185.7 L181.0,1192.1 L181.8,1198.3 L182.6,1204.4 L183.4,1210.3 L184.2,1216.0 L185.0,1221.6 L185.8,1227.0 L186.6,1232.3 L187.4,1237.5 L188.2,1242.6 L189.0,1247.7 L189.8,1252.6 L190.6,1257.5 L191.4,1262.3 L192.2,1266.9 L193.0,1271.5 L193.8,1275.9 L194.6,1280.1 L195.4,1284.2 L196.2,1288.1 L197.0,1291.9 L197.8,1295.5 L198.6,1298.9 L199.4,1302.2 L200.2,1305.3 L201.0,1308.2 L201.8,1311.0 L202.6,1313.6 L203.4,1315.9 L204.2,1318.1 L205.0,1320.1 L205.8,1321.9 L206.6,1323.5 L207.4,1325.0 L208.2,1326.4 L209.0,1327.6 L209.8,1328.8 L210.6,1329.7 L211.4,1330.6 L212.2,1331.3 L213.0,1332.1 L213.8,1332.7 L214.6,1333.2 L215.4,1333.6 L216.2,1333.7 L217.0,1333.6 L217.8,1333.3 L218.6,1332.9 L219.4,1332.5 L220.2,1332.0 L221.0,1331.4 L221.8,1330.8 L222.6,1330.1 L223.4,1329.4 L224.2,1328.6 L225.0,1327.8 L225.8,1326.9 L226.6,1326.0 L227.4,1325.1 L228.2,1324.2 L229.0,1323.3 L229.8,1322.3 L230.6,1321.3 L231.4,1320.3 L232.2,1319.2 L233.0,1318.1 L233.8,1316.9 L234.6,1315.7 L235.4,1314.4 L236.2,1313.0 L237.0,1311.6 L237.8,1310.1 L238.6,1308.6 L239.4,1307.0 L240.2,1305.4 L241.0,1303.7 L241.8,1302.0 L242.6,1300.2 L243.4,1298.3 L244.2,1296.3 L245.0,1294.1 L245.8,1291.8 L246.6,1289.4 L247.4,1287.0 L248.2,1284.4 L249.0,1281.8 L249.8,1279.0 L250.6,1276.0 L251.4,1273.0 L252.2,1269.7 L253.0,1266.2 L253.8,1262.4 L254.6,1258.4 L255.4,1254.2 L256.2,1249.8 L257.0,1245.4 L257.8,1241.0 L258.6,1236.6 L259.4,1232.2 L260.2,1227.8 L261.0,1223.3 L261.8,1218.9 L262.6,1214.5 L263.4,1210.1 L264.2,1205.8 L265.0,1201.4 L265.8,1197.0 L266.6,1192.7 L267.4,1188.3 L268.2,1184.0 L269.0,1179.7 L269.8,1175.8 L270.6,1172.1 L271.4,1168.7 L272.2,1165.4 L273.0,1162.2 L273.8,1159.5 L274.6,1157.1 L275.4,1155.2 L276.2,1153.6 L277.0,1152.7 L277.8,1152.5 L278.6,1153.1 L279.4,1154.8 L280.2,1157.4 L281.0,1160.8 L281.8,1164.9 L282.6,1169.8 L283.4,1175.4 L284.2,1180.7 L285.0,1184.9 L285.8,1188.9 L286.6,1192.8 L287.4,1196.6 L288.2,1200.4 L289.0,1204.2 L289.8,1208.0 L290.6,1211.8 L291.4,1215.8 L292.2,1220.0 L293.0,1224.4 L293.8,1228.9 L294.6,1233.4 L295.4,1237.8 L296.2,1242.0 L297.0,1245.9 L297.8,1249.2 L298.6,1252.0 L299.4,1254.3 L300.2,1256.1 L301.0,1257.5 L301.8,1258.6 L302.6,1259.4 L303.4,1260.1 L304.2,1260.7 L305.0,1261.1 L305.8,1261.4 L306.6,1261.5 L307.4,1261.4 L308.2,1261.2 L309.0,1260.9 L309.8,1260.7 L310.6,1260.4 L311.4,1260.0 L312.2,1259.5 L313.0,1259.0 L313.8,1258.4 L314.6,1257.8 L315.4,1257.2 L316.2,1256.5 L317.0,1255.8 L317.8,1254.9 L318.6,1253.9 L319.4,1252.7 L320.2,1251.5 L321.0,1250.3 L321.8,1249.1 L322.6,1247.8 L323.4,1246.5 L324.2,1245.3 L325.0,1244.0 L325.8,1242.6 L326.6,1241.3 L327.4,1240.0 L328.2,1238.7 L329.0,1237.3 L329.8,1236.0 L330.6,1234.6 L331.4,1233.3 L332.2,1231.9 L333.0,1230.4 L333.8,1229.0 L334.6,1227.6 L335.4,1226.2 L336.2,1224.8 L337.0,1223.3 L337.8,1221.9 L338.6,1220.6 L339.4,1219.2 L340.2,1217.9 L341.0,1216.6 L341.8,1215.5 L342.6,1214.6 L343.4,1213.7 L344.2,1212.9 L345.0,1212.1 L345.8,1211.5 L346.6,1210.8 L347.4,1210.3 L348.2,1209.8 L349.0,1209.5 L349.8,1209.4 L350.6,1209.3 L351.4,1209.4 L352.2,1209.6 L353.0,1209.9 L353.8,1210.4 L354.6,1211.0 L355.4,1211.7 L356.2,1212.5 L357.0,1213.5 L357.8,1214.5 L358.6,1215.7 L359.4,1217.0 L360.2,1218.4 L361.0,1220.0 L361.8,1221.7 L362.6,1223.5 L363.4,1225.4 L364.2,1227.5 L365.0,1229.6 L365.8,1231.7 L366.6,1233.8 L367.4,1235.9 L368.2,1238.0 L369.0,1240.0 L369.8,1241.8 L370.6,1243.6 L371.4,1245.3 L372.2,1247.0 L373.0,1248.6 L373.8,1250.2 L374.6,1251.8 L375.4,1253.3 L376.2,1254.7 L377.0,1256.0 L377.8,1257.2 L378.6,1258.3 L379.4,1259.3 L380.2,1260.2 L381.0,1261.0 L381.8,1261.7 L382.6,1262.3 L383.4,1262.8 L384.2,1263.2 L385.0,1263.5 L385.8,1263.8 L386.6,1264.1 L387.4,1264.3 L388.2,1264.5 L389.0,1264.6 L389.8,1264.6 L390.6,1264.5 L391.4,1264.4 L392.2,1264.3 L393.0,1264.0 L393.8,1263.8 L394.6,1263.5 L395.4,1263.1 L396.2,1262.7 L397.0,1262.3 L397.8,1261.9 L398.6,1261.4 L399.4,1260.8 L400.2,1260.1 L401.0,1259.3 L401.8,1258.3 L402.6,1257.2 L403.4,1256.0 L404.2,1254.9 L405.0,1253.8 L405.8,1252.7 L406.6,1251.6 L407.4,1250.4 L408.2,1249.3 L409.0,1248.2 L409.8,1247.1 L410.6,1246.0 L411.4,1244.8 L412.2,1243.7 L413.0,1242.6 L413.8,1241.5 L414.6,1240.4 L415.4,1239.2 L416.2,1238.1 L417.0,1237.0 L417.8,1235.9 L418.6,1234.8 L419.4,1233.6 L420.2,1232.5 L421.0,1231.4 L421.8,1230.3 L422.6,1229.2 L423.4,1228.1 L424.2,1227.1 L425.0,1226.3 L425.8,1225.6 L426.6,1225.0 L427.4,1224.5 L428.2,1224.1 L429.0,1223.8 L429.8,1223.4 L430.6,1223.1 L431.4,1222.8 L432.2,1222.5 L433.0,1222.3 L433.8,1222.2 L434.6,1222.1 L435.4,1222.1 L436.2,1222.1 L437.0,1222.1 L437.8,1222.3 L438.6,1222.4 L439.4,1222.7 L440.2,1223.0 L441.0,1223.4 L441.8,1224.0 L442.6,1224.5 L443.4,1225.1 L444.2,1225.7 L445.0,1226.4 L445.8,1227.1 L446.6,1227.9 L447.4,1228.7 L448.2,1229.5 L449.0,1230.3 L449.8,1231.1 L450.6,1231.9 L451.4,1232.8 L452.2,1233.6 L453.0,1234.5 L453.8,1235.4 L454.6,1236.2 L455.4,1237.1 L456.2,1237.9 L457.0,1238.8 L457.8,1239.6 L458.6,1240.4 L459.4,1241.2 L460.2,1241.9 L461.0,1242.6 L461.8,1243.3 L462.6,1244.0 L463.4,1244.6 L464.2,1245.2 L465.0,1245.7 L465.8,1246.1 L466.6,1246.3 L467.4,1246.5 L468.2,1246.7 L469.0,1246.7 L469.8,1246.7 L470.6,1246.7 L471.4,1246.6 L472.2,1246.5 L473.0,1246.4 L473.8,1246.3 L474.6,1246.1 L475.4,1245.9 L476.2,1245.7 L477.0,1245.3 L477.8,1245.0 L478.6,1244.5 L479.4,1244.1 L480.2,1243.5 L481.0,1243.0 L481.8,1242.4 L482.6,1241.8 L483.4,1241.1 L484.2,1240.5 L485.0,1239.9 L485.8,1239.3 L486.6,1238.8 L487.4,1238.2 L488.2,1237.7 L489.0,1237.3 L489.8,1236.8 L490.6,1236.3 L491.4,1235.9 L492.2,1235.4 L493.0,1235.0 L493.8,1234.5 L494.6,1234.1 L495.4,1233.7 L496.2,1233.3 L497.0,1233.0 L497.8,1232.6 L498.6,1232.3 L499.4,1232.0 L500.2,1231.7 L501.0,1231.4 L501.8,1231.2 L502.6,1231.0 L503.4,1230.8 L504.2,1230.7 L505.0,1230.5 L505.8,1230.4 L506.6,1230.3 L507.4,1230.2 L508.2,1230.1 L509.0,1230.1 L509.8,1230.0 L510.6,1230.0 L511.4,1230.1 L512.2,1230.2 L513.0,1230.3 L513.8,1230.4 L514.6,1230.6 L515.4,1230.8 L516.2,1231.0 L517.0,1231.2 L517.8,1231.5 L518.6,1231.8 L519.4,1232.1 L520.2,1232.4 L521.0,1232.8 L521.8,1233.2 L522.6,1233.6 L523.4,1234.1 L524.2,1234.6 L525.0,1235.1 L525.8,1235.6 L526.6,1236.2 L527.4,1236.7 L528.2,1237.3 L529.0,1237.8 L529.8,1238.3 L530.6,1238.9 L531.4,1239.4 L532.2,1239.9 L533.0,1240.3 L533.8,1240.8 L534.6,1241.2 L535.4,1241.6 L536.2,1242.0 L537.0,1242.4 L537.8,1242.8 L538.6,1243.1 L539.4,1243.5 L540.2,1243.8 L541.0,1244.2 L541.8,1244.5 L542.6,1244.8 L543.4,1245.1 L544.2,1245.4 L545.0,1245.6 L545.8,1245.9 L546.6,1246.1 L547.4,1246.2 L548.2,1246.4 L549.0,1246.5 L549.8,1246.6 L550.6,1246.7 L551.4,1246.7 L552.2,1246.7 L553.0,1246.7 L553.8,1246.7 L554.6,1246.6 L555.4,1246.5 L556.2,1246.3 L557.0,1246.2 L557.8,1246.0 L558.6,1245.8 L559.4,1245.6 L560.2,1245.4 L561.0,1245.1 L561.8,1244.8 L562.6,1244.5 L563.4,1244.2 L564.2,1243.9 L565.0,1243.5 L565.8,1243.2 L566.6,1242.8 L567.4,1242.4 L568.2,1241.9 L569.0,1241.5 L569.8,1241.1 L570.6,1240.6 L571.4,1240.2 L572.2,1239.7 L573.0,1239.3 L573.8,1238.9 L574.6,1238.4 L575.4,1238.0 L576.2,1237.6 L577.0,1237.3 L577.8,1236.9 L578.6,1236.6 L579.4,1236.3 L580.2,1235.9 L581.0,1235.6 L581.8,1235.3 L582.6,1235.1 L583.4,1234.8 L584.2,1234.5 L585.0,1234.3 L585.8,1234.0 L586.6,1233.8 L587.4,1233.6 L588.2,1233.4 L589.0,1233.3 L589.8,1233.1 L590.6,1233.0 L591.4,1232.9 L592.2,1232.9 L593.0,1232.8 L593.8,1232.8 L594.6,1232.8 L595.4,1232.8 L596.2,1232.8 L597.0,1232.8 L597.8,1232.8 L598.6,1232.9 L599.4,1233.1 L600.2,1233.2 L601.0,1233.5 L601.8,1233.8 L602.6,1234.1 L603.4,1234.4 L604.2,1234.7 L605.0,1235.0 L605.8,1235.4 L606.6,1235.7 L607.4,1236.0 L608.2,1236.4 L609.0,1236.7 L609.8,1237.0 L610.6,1237.4 L611.4,1237.7 L612.2,1238.0 L613.0,1238.3 L613.8,1238.6 L614.6,1238.9 L615.4,1239.2 L616.2,1239.5 L617.0,1239.7 L617.8,1240.0 L618.6,1240.3 L619.4,1240.6 L620.2,1240.9 L621.0,1241.1 L621.8,1241.4 L622.6,1241.7 L623.4,1241.9 L624.2,1242.1 L625.0,1242.3 L625.8,1242.4 L626.6,1242.6 L627.4,1242.7 L628.2,1242.7 L629.0,1242.8 L629.8,1242.8 L630.6,1242.8 L631.4,1242.8 L632.2,1242.8 L633.0,1242.8 L633.8,1242.7 L634.6,1242.7 L635.4,1242.6 L636.2,1242.5 L637.0,1242.4 L637.8,1242.3 L638.6,1242.2 L639.4,1242.0 L640.2,1241.9 L641.0,1241.7 L641.8,1241.5 L642.6,1241.3 L643.4,1241.1 L644.2,1240.9 L645.0,1240.6 L645.8,1240.4 L646.6,1240.1 L647.4,1239.8 L648.2,1239.5 L649.0,1239.3 L649.8,1239.0 L650.6,1238.7 L651.4,1238.4 L652.2,1238.2 L653.0,1238.0 L653.8,1237.7 L654.6,1237.5 L655.4,1237.4 L656.2,1237.2 L657.0,1237.0 L657.8,1236.8 L658.6,1236.6 L659.4,1236.5 L660.2,1236.3 L661.0,1236.2 L661.8,1236.0 L662.6,1235.9 L663.4,1235.8 L664.2,1235.6 L665.0,1235.5 L665.8,1235.4 L666.6,1235.3 L667.4,1235.2 L668.2,1235.1 L669.0,1235.1 L669.8,1235.0 L670.6,1235.0 L671.4,1235.0 L672.2,1234.9 L673.0,1234.9 L673.8,1234.9 L674.6,1234.9 L675.4,1235.0 L676.2,1235.0 L677.0,1235.1 L677.8,1235.2 L678.6,1235.4 L679.4,1235.5 L680.2,1235.8 L681.0,1236.0 L681.8,1236.2 L682.6,1236.4 L683.4,1236.6 L684.2,1236.9 L685.0,1237.1 L685.8,1237.3 L686.6,1237.6 L687.4,1237.8 L688.2,1238.0 L689.0,1238.2 L689.8,1238.5 L690.6,1238.7 L691.4,1238.9 L692.2,1239.1 L693.0,1239.3 L693.8,1239.5 L694.6,1239.7 L695.4,1240.0 L696.2,1240.2 L697.0,1240.4 L697.8,1240.6 L698.6,1240.8 L699.4,1241.0 L700.2,1241.2 L701.0,1241.4 L701.8,1241.5 L702.6,1241.7 L703.4,1241.8 L704.2,1241.9 L705.0,1242.0 L705.8,1242.0 L706.6,1242.1 L707.4,1242.1 L708.2,1242.1 L709.0,1242.1 L709.8,1242.0 L710.6,1242.0 L711.4,1241.9 L712.2,1241.9 L713.0,1241.8 L713.8,1241.8 L714.6,1241.7 L715.4,1241.6 L716.2,1241.5 L717.0,1241.4 L717.8,1241.3 L718.6,1241.2 L719.4,1241.1 L720.2,1241.0 L721.0,1240.8 L721.8,1240.7 L722.6,1240.6 L723.4,1240.4 L724.2,1240.2 L725.0,1240.1 L725.8,1239.9 L726.6,1239.8 L727.4,1239.6 L728.2,1239.4 L729.0,1239.3 L729.8,1239.1 L730.6,1238.9 L731.4,1238.8 L732.2,1238.6 L733.0,1238.5 L733.8,1238.3 L734.6,1238.2 L735.4,1238.0 L736.2,1237.9 L737.0,1237.8 L737.8,1237.6 L738.6,1237.5 L739.4,1237.4 L740.2,1237.3 L741.0,1237.2 L741.8,1237.0 L742.6,1236.9 L743.4,1236.8 L744.2,1236.7 L745.0,1236.6 L745.8,1236.6 L746.6,1236.5 L747.4,1236.5 L748.2,1236.4 L749.0,1236.4 L749.8,1236.4 L750.6,1236.4 L751.4,1236.4 L752.2,1236.4 L753.0,1236.4 L753.8,1236.4 L754.6,1236.5 L755.4,1236.5 L756.2,1236.5 L757.0,1236.6 L757.8,1236.6 L758.6,1236.7 L759.4,1236.8 L760.2,1236.8 L761.0,1236.9 L761.8,1237.0 L762.6,1237.1 L763.4,1237.1 L764.2,1237.2 L765.0,1237.3 L765.8,1237.4 L766.6,1237.5 L767.4,1237.6 L768.2,1237.7 L769.0,1237.8 L769.8,1237.9 L770.6,1238.1 L771.4,1238.2 L772.2,1238.3 L773.0,1238.4 L773.8,1238.5 L774.6,1238.6 L775.4,1238.8 L776.2,1238.9 L777.0,1239.0 L777.8,1239.2 L777.9,1239.2" stroke="#4353ad" stroke-width="1.75"/>
<path d="M130.6,900.0 L131.4,1031.4 L132.2,1143.3 L133.0,1221.2 L133.8,1280.6 L134.6,1317.6 L135.4,1305.0 L136.2,1295.7 L137.0,1286.4 L137.8,1277.0 L138.6,1267.7 L139.4,1258.3 L140.2,1248.8 L141.0,1239.3 L141.8,1229.7 L142.6,1220.1 L143.4,1210.5 L144.2,1200.9 L145.0,1191.2 L145.8,1181.4 L146.6,1171.5 L147.4,1161.1 L148.2,1150.3 L149.0,1139.4 L149.8,1128.4 L150.6,1117.4 L151.4,1106.6 L152.2,1096.1 L153.0,1085.9 L153.8,1076.1 L154.6,1066.6 L155.4,1057.4 L156.2,1048.5 L157.0,1040.1 L157.8,1032.1 L158.6,1025.5 L159.4,1020.3 L160.2,1016.3 L161.0,1013.0 L161.8,1010.6 L162.6,1009.3 L163.4,1008.9 L164.2,1010.2 L165.0,1014.4 L165.8,1021.1 L166.6,1029.6 L167.4,1039.3 L168.2,1049.8 L169.0,1060.8 L169.8,1072.1 L170.6,1083.3 L171.4,1094.2 L172.2,1104.5 L173.0,1114.2 L173.8,1123.5 L174.6,1132.6 L175.4,1141.4 L176.2,1149.8 L177.0,1157.8 L177.8,1165.3 L178.6,1172.4 L179.4,1179.1 L180.2,1185.7 L181.0,1192.1 L181.8,1198.3 L182.6,1204.4 L183.4,1210.3 L184.2,1216.0 L185.0,1221.6 L185.8,1227.0 L186.6,1232.3 L187.4,1237.5 L188.2,1242.6 L189.0,1247.6 L189.8,1252.6 L190.6,1257.5 L191.4,1262.2 L192.2,1266.9 L193.0,1271.4 L193.8,1275.8 L194.6,1280.1 L195.4,1284.2 L196.2,1288.1 L197.0,1291.9 L197.8,1295.5 L198.6,1299.0 L199.4,1302.3 L200.2,1305.4 L201.0,1308.4 L201.8,1311.2 L202.6,1313.8 L203.4,1316.2 L204.2,1318.5 L205.0,1320.5 L205.8,1322.3 L206.6,1324.0 L207.4,1325.6 L208.2,1327.0 L209.0,1328.2 L209.8,1329.4 L210.6,1330.4 L211.4,1331.2 L212.2,1332.0 L213.0,1332.7 L213.8,1333.3 L214.6,1333.9 L215.4,1334.2 L216.2,1334.4 L217.0,1334.3 L217.8,1334.0 L218.6,1333.6 L219.4,1333.2 L220.2,1332.8 L221.0,1332.2 L221.8,1331.7 L222.6,1331.0 L223.4,1330.3 L224.2,1329.6 L225.0,1328.8 L225.8,1328.0 L226.6,1327.1 L227.4,1326.3 L228.2,1325.4 L229.0,1324.5 L229.8,1323.5 L230.6,1322.6 L231.4,1321.6 L232.2,1320.5 L233.0,1319.5 L233.8,1318.4 L234.6,1317.2 L235.4,1316.0 L236.2,1314.8 L237.0,1313.4 L237.8,1312.0 L238.6,1310.6 L239.4,1309.1 L240.2,1307.6 L241.0,1306.0 L241.8,1304.4 L242.6,1302.7 L243.4,1300.9 L244.2,1298.8 L245.0,1296.6 L245.8,1294.3 L246.6,1291.9 L247.4,1289.3 L248.2,1286.7 L249.0,1283.9 L249.8,1281.0 L250.6,1278.0 L251.4,1274.8 L252.2,1271.5 L253.0,1268.0 L253.8,1264.3 L254.6,1260.5 L255.4,1256.4 L256.2,1252.2 L257.0,1247.9 L257.8,1243.5 L258.6,1239.0 L259.4,1234.5 L260.2,1229.8 L261.0,1225.2 L261.8,1220.4 L262.6,1215.6 L263.4,1210.8 L264.2,1205.9 L265.0,1201.0 L265.8,1195.8 L266.6,1190.6 L267.4,1185.4 L268.2,1180.4 L269.0,1175.5 L269.8,1170.9 L270.6,1166.6 L271.4,1162.6 L272.2,1158.8 L273.0,1155.1 L273.8,1151.9 L274.6,1149.1 L275.4,1146.8 L276.2,1145.0 L277.0,1144.1 L277.8,1143.7 L278.6,1144.1 L279.4,1146.4 L280.2,1150.0 L281.0,1154.2 L281.8,1158.8 L282.6,1163.7 L283.4,1168.8 L284.2,1173.8 L285.0,1178.5 L285.8,1183.1 L286.6,1187.6 L287.4,1192.1 L288.2,1196.7 L289.0,1201.2 L289.8,1205.7 L290.6,1210.3 L291.4,1214.8 L292.2,1219.3 L293.0,1223.9 L293.8,1228.4 L294.6,1233.0 L295.4,1237.5 L296.2,1242.1 L297.0,1246.5 L297.8,1250.4 L298.6,1253.5 L299.4,1256.0 L300.2,1258.0 L301.0,1259.6 L301.8,1260.7 L302.6,1261.6 L303.4,1262.4 L304.2,1262.9 L305.0,1263.4 L305.8,1263.6 L306.6,1263.6 L307.4,1263.5 L308.2,1263.2 L309.0,1263.0 L309.8,1262.7 L310.6,1262.3 L311.4,1261.8 L312.2,1261.3 L313.0,1260.6 L313.8,1259.9 L314.6,1259.2 L315.4,1258.4 L316.2,1257.6 L317.0,1256.7 L317.8,1255.8 L318.6,1254.7 L319.4,1253.6 L320.2,1252.4 L321.0,1251.2 L321.8,1249.9 L322.6,1248.7 L323.4,1247.4 L324.2,1246.1 L325.0,1244.8 L325.8,1243.5 L326.6,1242.1 L327.4,1240.8 L328.2,1239.4 L329.0,1238.0 L329.8,1236.6 L330.6,1235.2 L331.4,1233.7 L332.2,1232.2 L333.0,1230.6 L333.8,1229.1 L334.6,1227.5 L335.4,1225.9 L336.2,1224.3 L337.0,1222.8 L337.8,1221.2 L338.6,1219.7 L339.4,1218.3 L340.2,1216.8 L341.0,1215.5 L341.8,1214.2 L342.6,1213.0 L343.4,1212.0 L344.2,1210.9 L345.0,1210.0 L345.8,1209.1 L346.6,1208.3 L347.4,1207.5 L348.2,1206.9 L349.0,1206.5 L349.8,1206.2 L350.6,1206.1 L351.4,1206.2 L352.2,1206.3 L353.0,1206.7 L353.8,1207.1 L354.6,1207.8 L355.4,1208.5 L356.2,1209.4 L357.0,1210.4 L357.8,1211.5 L358.6,1212.7 L359.4,1214.0 L360.2,1215.6 L361.0,1217.3 L361.8,1219.2 L362.6,1221.2 L363.4,1223.4 L364.2,1225.6 L365.0,1227.9 L365.8,1230.2 L366.6,1232.5 L367.4,1234.8 L368.2,1237.0 L369.0,1239.2 L369.8,1241.3 L370.6,1243.4 L371.4,1245.4 L372.2,1247.4 L373.0,1249.4 L373.8,1251.3 L374.6,1253.2 L375.4,1255.0 L376.2,1256.8 L377.0,1258.5 L377.8,1260.1 L378.6,1261.6 L379.4,1262.9 L380.2,1264.0 L381.0,1265.0 L381.8,1265.8 L382.6,1266.4 L383.4,1267.0 L384.2,1267.4 L385.0,1267.8 L385.8,1268.1 L386.6,1268.4 L387.4,1268.6 L388.2,1268.8 L389.0,1268.8 L389.8,1268.8 L390.6,1268.8 L391.4,1268.6 L392.2,1268.5 L393.0,1268.2 L393.8,1267.9 L394.6,1267.6 L395.4,1267.2 L396.2,1266.7 L397.0,1266.2 L397.8,1265.6 L398.6,1265.0 L399.4,1264.3 L400.2,1263.5 L401.0,1262.5 L401.8,1261.5 L402.6,1260.3 L403.4,1259.1 L404.2,1257.9 L405.0,1256.6 L405.8,1255.4 L406.6,1254.1 L407.4,1252.8 L408.2,1251.5 L409.0,1250.2 L409.8,1248.9 L410.6,1247.5 L411.4,1246.2 L412.2,1244.9 L413.0,1243.5 L413.8,1242.1 L414.6,1240.7 L415.4,1239.3 L416.2,1237.8 L417.0,1236.4 L417.8,1234.9 L418.6,1233.4 L419.4,1232.0 L420.2,1230.6 L421.0,1229.2 L421.8,1227.8 L422.6,1226.5 L423.4,1225.2 L424.2,1224.1 L425.0,1223.2 L425.8,1222.4 L426.6,1221.7 L427.4,1221.1 L428.2,1220.6 L429.0,1220.1 L429.8,1219.7 L430.6,1219.3 L431.4,1218.9 L432.2,1218.6 L433.0,1218.3 L433.8,1218.1 L434.6,1217.9 L435.4,1217.8 L436.2,1217.8 L437.0,1217.9 L437.8,1218.0 L438.6,1218.2 L439.4,1218.5 L440.2,1218.9 L441.0,1219.4 L441.8,1220.0 L442.6,1220.6 L443.4,1221.3 L444.2,1222.1 L445.0,1223.0 L445.8,1223.9 L446.6,1225.0 L447.4,1226.1 L448.2,1227.2 L449.0,1228.3 L449.8,1229.4 L450.6,1230.4 L451.4,1231.5 L452.2,1232.6 L453.0,1233.6 L453.8,1234.7 L454.6,1235.8 L455.4,1236.8 L456.2,1237.9 L457.0,1238.9 L457.8,1240.0 L458.6,1241.0 L459.4,1241.9 L460.2,1242.8 L461.0,1243.7 L461.8,1244.6 L462.6,1245.4 L463.4,1246.2 L464.2,1247.0 L465.0,1247.6 L465.8,1248.0 L466.6,1248.4 L467.4,1248.6 L468.2,1248.8 L469.0,1248.8 L469.8,1248.8 L470.6,1248.8 L471.4,1248.7 L472.2,1248.6 L473.0,1248.5 L473.8,1248.4 L474.6,1248.2 L475.4,1247.9 L476.2,1247.6 L477.0,1247.3 L477.8,1246.8 L478.6,1246.3 L479.4,1245.6 L480.2,1245.0 L481.0,1244.3 L481.8,1243.5 L482.6,1242.8 L483.4,1242.0 L484.2,1241.3 L485.0,1240.5 L485.8,1239.8 L486.6,1239.1 L487.4,1238.4 L488.2,1237.7 L489.0,1237.1 L489.8,1236.5 L490.6,1235.9 L491.4,1235.3 L492.2,1234.7 L493.0,1234.2 L493.8,1233.6 L494.6,1233.1 L495.4,1232.5 L496.2,1232.0 L497.0,1231.5 L497.8,1231.1 L498.6,1230.6 L499.4,1230.2 L500.2,1229.8 L501.0,1229.5 L501.8,1229.2 L502.6,1229.0 L503.4,1228.8 L504.2,1228.6 L505.0,1228.4 L505.8,1228.2 L506.6,1228.1 L507.4,1228.0 L508.2,1228.0 L509.0,1227.9 L509.8,1227.9 L510.6,1227.9 L511.4,1228.0 L512.2,1228.1 L513.0,1228.2 L513.8,1228.4 L514.6,1228.6 L515.4,1228.8 L516.2,1229.1 L517.0,1229.4 L517.8,1229.7 L518.6,1230.1 L519.4,1230.5 L520.2,1230.9 L521.0,1231.4 L521.8,1231.9 L522.6,1232.4 L523.4,1233.0 L524.2,1233.6 L525.0,1234.2 L525.8,1234.8 L526.6,1235.4 L527.4,1236.0 L528.2,1236.7 L529.0,1237.3 L529.8,1237.9 L530.6,1238.6 L531.4,1239.2 L532.2,1239.8 L533.0,1240.3 L533.8,1240.9 L534.6,1241.4 L535.4,1242.0 L536.2,1242.5 L537.0,1243.0 L537.8,1243.5 L538.6,1243.9 L539.4,1244.4 L540.2,1244.9 L541.0,1245.3 L541.8,1245.7 L542.6,1246.2 L543.4,1246.6 L544.2,1247.0 L545.0,1247.3 L545.8,1247.6 L546.6,1247.9 L547.4,1248.1 L548.2,1248.3 L549.0,1248.4 L549.8,1248.6 L550.6,1248.6 L551.4,1248.7 L552.2,1248.7 L553.0,1248.6 L553.8,1248.6 L554.6,1248.5 L555.4,1248.3 L556.2,1248.2 L557.0,1248.0 L557.8,1247.8 L558.6,1247.6 L559.4,1247.3 L560.2,1247.0 L561.0,1246.7 L561.8,1246.4 L562.6,1246.0 L563.4,1245.6 L564.2,1245.2 L565.0,1244.8 L565.8,1244.3 L566.6,1243.8 L567.4,1243.3 L568.2,1242.8 L569.0,1242.3 L569.8,1241.8 L570.6,1241.2 L571.4,1240.7 L572.2,1240.1 L573.0,1239.6 L573.8,1239.1 L574.6,1238.6 L575.4,1238.1 L576.2,1237.6 L577.0,1237.1 L577.8,1236.7 L578.6,1236.2 L579.4,1235.8 L580.2,1235.4 L581.0,1235.0 L581.8,1234.6 L582.6,1234.2 L583.4,1233.8 L584.2,1233.5 L585.0,1233.1 L585.8,1232.8 L586.6,1232.5 L587.4,1232.2 L588.2,1231.9 L589.0,1231.7 L589.8,1231.5 L590.6,1231.4 L591.4,1231.3 L592.2,1231.2 L593.0,1231.1 L593.8,1231.1 L594.6,1231.1 L595.4,1231.1 L596.2,1231.1 L597.0,1231.1 L597.8,1231.2 L598.6,1231.3 L599.4,1231.5 L600.2,1231.7 L601.0,1232.0 L601.8,1232.4 L602.6,1232.8 L603.4,1233.2 L604.2,1233.6 L605.0,1234.0 L605.8,1234.5 L606.6,1234.9 L607.4,1235.3 L608.2,1235.8 L609.0,1236.2 L609.8,1236.6 L610.6,1237.0 L611.4,1237.4 L612.2,1237.8 L613.0,1238.2 L613.8,1238.6 L614.6,1239.0 L615.4,1239.4 L616.2,1239.7 L617.0,1240.1 L617.8,1240.5 L618.6,1240.8 L619.4,1241.2 L620.2,1241.6 L621.0,1241.9 L621.8,1242.2 L622.6,1242.6 L623.4,1242.9 L624.2,1243.1 L625.0,1243.3 L625.8,1243.5 L626.6,1243.7 L627.4,1243.8 L628.2,1244.0 L629.0,1244.0 L629.8,1244.1 L630.6,1244.1 L631.4,1244.1 L632.2,1244.1 L633.0,1244.1 L633.8,1244.0 L634.6,1243.9 L635.4,1243.8 L636.2,1243.7 L637.0,1243.6 L637.8,1243.4 L638.6,1243.3 L639.4,1243.1 L640.2,1242.9 L641.0,1242.7 L641.8,1242.5 L642.6,1242.2 L643.4,1241.9 L644.2,1241.6 L645.0,1241.3 L645.8,1241.0 L646.6,1240.7 L647.4,1240.3 L648.2,1240.0 L649.0,1239.7 L649.8,1239.3 L650.6,1239.0 L651.4,1238.6 L652.2,1238.3 L653.0,1238.0 L653.8,1237.8 L654.6,1237.5 L655.4,1237.3 L656.2,1237.0 L657.0,1236.8 L657.8,1236.6 L658.6,1236.3 L659.4,1236.1 L660.2,1235.9 L661.0,1235.7 L661.8,1235.6 L662.6,1235.4 L663.4,1235.2 L664.2,1235.0 L665.0,1234.9 L665.8,1234.7 L666.6,1234.6 L667.4,1234.5 L668.2,1234.4 L669.0,1234.3 L669.8,1234.2 L670.6,1234.1 L671.4,1234.1 L672.2,1234.1 L673.0,1234.1 L673.8,1234.1 L674.6,1234.1 L675.4,1234.2 L676.2,1234.2 L677.0,1234.3 L677.8,1234.5 L678.6,1234.7 L679.4,1234.9 L680.2,1235.2 L681.0,1235.4 L681.8,1235.7 L682.6,1236.0 L683.4,1236.2 L684.2,1236.5 L685.0,1236.8 L685.8,1237.1 L686.6,1237.4 L687.4,1237.6 L688.2,1237.9 L689.0,1238.2 L689.8,1238.4 L690.6,1238.7 L691.4,1239.0 L692.2,1239.2 L693.0,1239.5 L693.8,1239.8 L694.6,1240.0 L695.4,1240.3 L696.2,1240.5 L697.0,1240.8 L697.8,1241.0 L698.6,1241.3 L699.4,1241.5 L700.2,1241.8 L701.0,1242.0 L701.8,1242.2 L702.6,1242.4 L703.4,1242.6 L704.2,1242.7 L705.0,1242.8 L705.8,1242.9 L706.6,1243.0 L707.4,1243.0 L708.2,1243.1 L709.0,1243.1 L709.8,1243.1 L710.6,1243.0 L711.4,1243.0 L712.2,1243.0 L713.0,1242.9 L713.8,1242.8 L714.6,1242.8 L715.4,1242.7 L716.2,1242.6 L717.0,1242.5 L717.8,1242.4 L718.6,1242.2 L719.4,1242.1 L720.2,1241.9 L721.0,1241.8 L721.8,1241.6 L722.6,1241.4 L723.4,1241.2 L724.2,1240.9 L725.0,1240.7 L725.8,1240.5 L726.6,1240.2 L727.4,1240.0 L728.2,1239.8 L729.0,1239.5 L729.8,1239.3 L730.6,1239.1 L731.4,1238.9 L732.2,1238.6 L733.0,1238.5 L733.8,1238.3 L734.6,1238.1 L735.4,1237.9 L736.2,1237.7 L737.0,1237.6 L737.8,1237.4 L738.6,1237.2 L739.4,1237.1 L740.2,1236.9 L741.0,1236.8 L741.8,1236.7 L742.6,1236.5 L743.4,1236.4 L744.2,1236.3 L745.0,1236.2 L745.8,1236.1 L746.6,1236.0 L747.4,1235.9 L748.2,1235.9 L749.0,1235.8 L749.8,1235.8 L750.6,1235.8 L751.4,1235.7 L752.2,1235.7 L753.0,1235.8 L753.8,1235.8 L754.6,1235.8 L755.4,1235.9 L756.2,1235.9 L757.0,1236.0 L757.8,1236.0 L758.6,1236.1 L759.4,1236.2 L760.2,1236.3 L761.0,1236.4 L761.8,1236.5 L762.6,1236.6 L763.4,1236.7 L764.2,1236.8 L765.0,1236.9 L765.8,1237.0 L766.6,1237.2 L767.4,1237.3 L768.2,1237.4 L769.0,1237.5 L769.8,1237.7 L770.6,1237.8 L771.4,1237.9 L772.2,1238.1 L773.0,1238.2 L773.8,1238.4 L774.6,1238.5 L775.4,1238.7 L776.2,1238.8 L777.0,1239.0 L777.8,1239.2 L777.9,1239.2" stroke="#4353ad" stroke-width="1.75" stroke-dasharray="5.2 2.3"/>
</g>
<rect x="120.5" y="938.75" width="667.5" height="497.0" fill="none" stroke="#1c1c1c" stroke-width="1.35"/>
<path d="M130.30,1435.75v5.5M238.25,1435.75v5.5M346.20,1435.75v5.5M454.15,1435.75v5.5M562.10,1435.75v5.5M670.05,1435.75v5.5M778.00,1435.75v5.5M120.5,1435.89h-5.5M120.5,1373.75h-5.5M120.5,1311.61h-5.5M120.5,1249.47h-5.5M120.5,1187.33h-5.5M120.5,1125.19h-5.5M120.5,1063.05h-5.5M120.5,1000.91h-5.5M120.5,938.77h-5.5" stroke="#1c1c1c" stroke-width="1.2" fill="none"/>
<g font-family="'Liberation Serif','Times New Roman',serif" font-weight="bold" font-size="17.7" fill="#151515">
<text x="130.3" y="1460.75" text-anchor="middle">0</text>
<text x="238.2" y="1460.75" text-anchor="middle">500</text>
<text x="346.2" y="1460.75" text-anchor="middle">1000</text>
<text x="454.2" y="1460.75" text-anchor="middle">1500</text>
<text x="562.1" y="1460.75" text-anchor="middle">2000</text>
<text x="670.0" y="1460.75" text-anchor="middle">2500</text>
<text x="778.0" y="1460.75" text-anchor="middle">3000</text>
<text x="105.6" y="1441.6" text-anchor="end">−0.1</text>
<text x="105.6" y="1379.5" text-anchor="end">0.0</text>
<text x="105.6" y="1317.3" text-anchor="end">0.1</text>
<text x="105.6" y="1255.2" text-anchor="end">0.2</text>
<text x="105.6" y="1193.0" text-anchor="end">0.3</text>
<text x="105.6" y="1130.9" text-anchor="end">0.4</text>
<text x="105.6" y="1068.8" text-anchor="end">0.5</text>
<text x="105.6" y="1006.6" text-anchor="end">0.6</text>
<text x="105.6" y="944.5" text-anchor="end">0.7</text>
</g>
<text x="454.8" y="927" text-anchor="middle" font-family="'Liberation Serif','Times New Roman',serif" font-weight="bold" font-size="22.4" fill="#151515">TALL3D TR01.09 transient mass flow rate: MH leg</text>
<text x="454.2" y="1484.5" text-anchor="middle" font-family="'Liberation Serif','Times New Roman',serif" font-weight="bold" font-size="18.6" fill="#151515">Time: s</text>
<text transform="translate(61,1187.2) rotate(-90)" text-anchor="middle" font-family="'Liberation Serif','Times New Roman',serif" font-weight="bold" font-size="18.6" fill="#151515">Mass Flow Rate: kg/s</text>
<rect x="551.6" y="948" width="227.0" height="164" rx="4" fill="#fff" fill-opacity="0.8" stroke="#cfcfcf" stroke-width="1.1"/>
<circle cx="577.6" cy="962.6" r="2.75" fill="#4a80b2"/>
<path d="M558,988H597" stroke="#151515" stroke-width="1.75" fill="none"/>
<path d="M558,1015H597" stroke="#d93434" stroke-width="1.75" fill="none"/>
<path d="M558,1041.6H597" stroke="#d93434" stroke-width="1.75" stroke-dasharray="5.2 2.3" fill="none"/>
<path d="M558,1068H597" stroke="#4353ad" stroke-width="1.75" fill="none"/>
<path d="M558,1094.4H597" stroke="#4353ad" stroke-width="1.75" stroke-dasharray="5.2 2.3" fill="none"/>
<g font-family="'Liberation Serif','Times New Roman',serif" font-weight="bold" font-size="18.6" fill="#151515">
<text x="612" y="968">Experiment data</text>
<text x="612" y="994.4">Reference</text>
<text x="612" y="1021">O1-BDF1: dt = 1.0 s</text>
<text x="612" y="1047.6">O1-BDF2: dt = 1.0 s</text>
<text x="612" y="1074">O2-BDF1: dt = 1.0 s</text>
<text x="612" y="1100.6">O2-BDF2: dt = 1.0 s</text>
</g>
</g>
<g id="c2">
<clipPath id="c2clip"><rect x="890.3" y="935.0" width="673.7" height="501.20000000000005"/></clipPath>
<path d="M900.70,935.0V1436.2M1009.47,935.0V1436.2M1118.23,935.0V1436.2M1227.00,935.0V1436.2M1335.76,935.0V1436.2M1444.53,935.0V1436.2M1553.29,935.0V1436.2M890.3,1406.90H1564.0M890.3,1347.74H1564.0M890.3,1288.58H1564.0M890.3,1229.42H1564.0M890.3,1170.26H1564.0M890.3,1111.10H1564.0M890.3,1051.94H1564.0M890.3,992.78H1564.0" stroke="#c9c9c9" stroke-width="0.9" stroke-dasharray="3.2 3.2" fill="none"/>
<g clip-path="url(#c2clip)" fill="none" stroke-linejoin="round">
<g fill="#4a80b2" stroke="none"><circle cx="1028.4" cy="1049.4" r="2.75"/><circle cx="1026.3" cy="1080.9" r="2.75"/><circle cx="1034.4" cy="1085.8" r="2.75"/><circle cx="1035.4" cy="1045.8" r="2.75"/><circle cx="1026.9" cy="1111.3" r="2.75"/><circle cx="1035.9" cy="1115.9" r="2.75"/><circle cx="1025.5" cy="1151.6" r="2.75"/><circle cx="1038.4" cy="1156.1" r="2.75"/><circle cx="1025.2" cy="1184.4" r="2.75"/><circle cx="1039.5" cy="1192.0" r="2.75"/><circle cx="1108.1" cy="1142.9" r="2.75"/><circle cx="1101.3" cy="1164.4" r="2.75"/><circle cx="1112.4" cy="1168.0" r="2.75"/><circle cx="1097.5" cy="1189.7" r="2.75"/><circle cx="1186.3" cy="1196.5" r="2.75"/><circle cx="1029.5" cy="1005.4" r="2.75"/><circle cx="1031.6" cy="1021.4" r="2.75"/><circle cx="903.7" cy="1413.1" r="2.75"/><circle cx="910.9" cy="1413.1" r="2.75"/><circle cx="917.5" cy="1394.2" r="2.75"/><circle cx="920.3" cy="1365.5" r="2.75"/><circle cx="920.7" cy="1347.7" r="2.75"/><circle cx="921.1" cy="1327.7" r="2.75"/><circle cx="921.3" cy="1306.6" r="2.75"/><circle cx="922.4" cy="1279.9" r="2.75"/><circle cx="929.6" cy="1287.9" r="2.75"/><circle cx="931.3" cy="1310.9" r="2.75"/><circle cx="934.3" cy="1333.4" r="2.75"/><circle cx="937.9" cy="1352.3" r="2.75"/><circle cx="942.6" cy="1367.8" r="2.75"/><circle cx="952.6" cy="1360.6" r="2.75"/><circle cx="962.3" cy="1356.2" r="2.75"/><circle cx="970.0" cy="1356.2" r="2.75"/><circle cx="982.1" cy="1352.1" r="2.75"/><circle cx="991.2" cy="1351.7" r="2.75"/><circle cx="1001.4" cy="1354.7" r="2.75"/><circle cx="1013.3" cy="1353.8" r="2.75"/><circle cx="1017.2" cy="1341.1" r="2.75"/><circle cx="1021.6" cy="1316.6" r="2.75"/><circle cx="1024.2" cy="1290.5" r="2.75"/><circle cx="1023.8" cy="1263.9" r="2.75"/><circle cx="1024.2" cy="1217.6" r="2.75"/><circle cx="1040.1" cy="1229.5" r="2.75"/><circle cx="1040.1" cy="1269.2" r="2.75"/><circle cx="1041.8" cy="1302.2" r="2.75"/><circle cx="1042.7" cy="1330.9" r="2.75"/><circle cx="1048.6" cy="1356.4" r="2.75"/><circle cx="1059.9" cy="1364.0" r="2.75"/><circle cx="1073.1" cy="1355.1" r="2.75"/><circle cx="1079.4" cy="1339.4" r="2.75"/><circle cx="1087.9" cy="1313.7" r="2.75"/><circle cx="1090.1" cy="1276.0" r="2.75"/><circle cx="1093.2" cy="1243.5" r="2.75"/><circle cx="1095.4" cy="1215.5" r="2.75"/><circle cx="1115.1" cy="1204.0" r="2.75"/><circle cx="1118.7" cy="1231.0" r="2.75"/><circle cx="1121.9" cy="1262.7" r="2.75"/><circle cx="1125.1" cy="1294.7" r="2.75"/><circle cx="1128.9" cy="1321.9" r="2.75"/><circle cx="1138.9" cy="1341.9" r="2.75"/><circle cx="1155.3" cy="1331.7" r="2.75"/><circle cx="1164.4" cy="1309.0" r="2.75"/><circle cx="1170.4" cy="1273.7" r="2.75"/><circle cx="1174.0" cy="1250.1" r="2.75"/><circle cx="1179.3" cy="1222.9" r="2.75"/><circle cx="1192.1" cy="1216.8" r="2.75"/><circle cx="1195.7" cy="1246.1" r="2.75"/><circle cx="1199.1" cy="1265.0" r="2.75"/><circle cx="1204.4" cy="1288.4" r="2.75"/><circle cx="1208.4" cy="1313.2" r="2.75"/><circle cx="1217.6" cy="1326.0" r="2.75"/><circle cx="1228.6" cy="1313.8" r="2.75"/><circle cx="1239.2" cy="1294.3" r="2.75"/><circle cx="1245.6" cy="1272.8" r="2.75"/><circle cx="1253.3" cy="1248.4" r="2.75"/><circle cx="1259.8" cy="1233.3" r="2.75"/><circle cx="1268.1" cy="1226.3" r="2.75"/><circle cx="1273.4" cy="1249.6" r="2.75"/><circle cx="1280.2" cy="1269.6" r="2.75"/><circle cx="1286.6" cy="1285.3" r="2.75"/><circle cx="1294.1" cy="1304.2" r="2.75"/><circle cx="1303.2" cy="1309.1" r="2.75"/><circle cx="1315.3" cy="1296.8" r="2.75"/><circle cx="1325.3" cy="1278.1" r="2.75"/><circle cx="1332.1" cy="1261.7" r="2.75"/><circle cx="1343.4" cy="1238.4" r="2.75"/><circle cx="1350.4" cy="1253.7" r="2.75"/><circle cx="1359.3" cy="1269.2" r="2.75"/><circle cx="1372.3" cy="1299.6" r="2.75"/><circle cx="1382.7" cy="1306.8" r="2.75"/><circle cx="1390.3" cy="1300.0" r="2.75"/><circle cx="1401.8" cy="1287.5" r="2.75"/><circle cx="1408.6" cy="1272.2" r="2.75"/><circle cx="1418.8" cy="1258.3" r="2.75"/><circle cx="1430.3" cy="1264.3" r="2.75"/><circle cx="1441.3" cy="1280.4" r="2.75"/><circle cx="1450.9" cy="1295.3" r="2.75"/><circle cx="1459.2" cy="1300.6" r="2.75"/><circle cx="1470.4" cy="1300.6" r="2.75"/><circle cx="1482.1" cy="1286.8" r="2.75"/><circle cx="1489.1" cy="1274.3" r="2.75"/><circle cx="1504.0" cy="1262.4" r="2.75"/><circle cx="1514.6" cy="1273.0" r="2.75"/><circle cx="1526.3" cy="1286.8" r="2.75"/><circle cx="1536.9" cy="1296.6" r="2.75"/><circle cx="1550.5" cy="1300.0" r="2.75"/></g>
<path d="M899.9,1409.1 L900.7,1409.2 L901.5,1409.4 L902.3,1409.5 L903.1,1409.7 L903.9,1409.9 L904.7,1410.0 L905.5,1410.2 L906.3,1410.3 L907.1,1410.5 L907.9,1410.7 L908.7,1410.8 L909.5,1410.7 L910.3,1410.3 L911.1,1409.8 L911.9,1409.1 L912.7,1406.7 L913.5,1403.1 L914.3,1397.1 L915.1,1389.0 L915.9,1378.6 L916.7,1364.7 L917.5,1346.5 L918.3,1325.5 L919.1,1305.8 L919.9,1288.0 L920.7,1271.1 L921.5,1255.7 L922.3,1243.5 L923.1,1235.3 L923.9,1231.6 L924.7,1234.1 L925.5,1238.9 L926.3,1244.5 L927.1,1251.7 L927.9,1259.2 L928.7,1266.8 L929.5,1274.3 L930.3,1281.4 L931.1,1288.5 L931.9,1295.5 L932.7,1302.2 L933.5,1308.6 L934.3,1314.7 L935.1,1320.3 L935.9,1325.3 L936.7,1329.9 L937.5,1334.0 L938.3,1337.7 L939.1,1341.2 L939.9,1344.3 L940.7,1347.3 L941.5,1350.2 L942.3,1353.0 L943.1,1355.7 L943.9,1358.3 L944.7,1360.8 L945.5,1363.1 L946.3,1365.4 L947.1,1367.4 L947.9,1369.3 L948.7,1371.1 L949.5,1372.7 L950.3,1374.3 L951.1,1375.9 L951.9,1377.3 L952.7,1378.7 L953.5,1380.1 L954.3,1381.3 L955.1,1382.5 L955.9,1383.5 L956.7,1384.5 L957.5,1385.3 L958.3,1386.0 L959.1,1386.7 L959.9,1387.4 L960.7,1388.0 L961.5,1388.6 L962.3,1389.0 L963.1,1389.4 L963.9,1389.7 L964.7,1389.9 L965.5,1390.0 L966.3,1389.9 L967.1,1389.8 L967.9,1389.7 L968.7,1389.6 L969.5,1389.5 L970.3,1389.3 L971.1,1389.1 L971.9,1388.9 L972.7,1388.6 L973.5,1388.4 L974.3,1388.1 L975.1,1387.8 L975.9,1387.4 L976.7,1387.0 L977.5,1386.6 L978.3,1386.2 L979.1,1385.8 L979.9,1385.4 L980.7,1384.9 L981.5,1384.4 L982.3,1384.0 L983.1,1383.5 L983.9,1382.9 L984.7,1382.4 L985.5,1381.9 L986.3,1381.3 L987.1,1380.8 L987.9,1380.1 L988.7,1379.4 L989.5,1378.6 L990.3,1377.7 L991.1,1376.8 L991.9,1375.8 L992.7,1374.8 L993.5,1373.8 L994.3,1372.8 L995.1,1371.8 L995.9,1370.8 L996.7,1369.9 L997.5,1369.0 L998.3,1367.9 L999.1,1366.4 L999.9,1364.4 L1000.7,1361.8 L1001.5,1358.4 L1002.3,1354.1 L1003.1,1348.9 L1003.9,1342.9 L1004.7,1336.3 L1005.5,1329.2 L1006.3,1321.7 L1007.1,1314.0 L1007.9,1306.1 L1008.7,1298.2 L1009.5,1290.5 L1010.3,1283.1 L1011.1,1276.2 L1011.9,1269.6 L1012.7,1262.9 L1013.5,1255.8 L1014.3,1247.9 L1015.1,1238.9 L1015.9,1228.3 L1016.7,1216.1 L1017.5,1203.1 L1018.3,1189.5 L1019.1,1175.7 L1019.9,1162.0 L1020.7,1148.4 L1021.5,1135.2 L1022.3,1121.9 L1023.1,1108.6 L1023.9,1095.3 L1024.7,1082.3 L1025.5,1069.5 L1026.3,1057.1 L1027.1,1044.8 L1027.9,1032.5 L1028.7,1020.3 L1029.5,1008.0 L1030.3,995.7 L1031.1,983.3 L1031.9,970.9 L1032.7,961.6 L1033.5,958.3 L1034.3,960.8 L1035.1,970.1 L1035.9,983.2 L1036.7,1002.3 L1037.5,1026.4 L1038.3,1051.1 L1039.1,1075.7 L1039.9,1099.7 L1040.7,1123.3 L1041.5,1146.9 L1042.3,1170.5 L1043.1,1194.2 L1043.9,1218.4 L1044.7,1243.0 L1045.5,1267.6 L1046.3,1291.6 L1047.1,1311.9 L1047.9,1329.1 L1048.7,1344.1 L1049.5,1356.6 L1050.3,1366.3 L1051.1,1374.5 L1051.9,1381.5 L1052.7,1387.0 L1053.5,1390.8 L1054.3,1393.8 L1055.1,1396.1 L1055.9,1397.4 L1056.7,1398.3 L1057.5,1398.9 L1058.3,1398.8 L1059.1,1398.4 L1059.9,1397.9 L1060.7,1397.1 L1061.5,1396.3 L1062.3,1395.3 L1063.1,1394.2 L1063.9,1392.9 L1064.7,1391.5 L1065.5,1389.8 L1066.3,1388.1 L1067.1,1386.2 L1067.9,1384.2 L1068.7,1382.2 L1069.5,1380.0 L1070.3,1377.8 L1071.1,1375.4 L1071.9,1373.1 L1072.7,1370.7 L1073.5,1368.2 L1074.3,1365.6 L1075.1,1363.0 L1075.9,1360.3 L1076.7,1357.4 L1077.5,1354.4 L1078.3,1351.2 L1079.1,1347.9 L1079.9,1344.5 L1080.7,1341.0 L1081.5,1337.4 L1082.3,1333.8 L1083.1,1330.1 L1083.9,1326.4 L1084.7,1322.6 L1085.5,1318.8 L1086.3,1314.9 L1087.1,1310.9 L1087.9,1306.8 L1088.7,1302.7 L1089.5,1298.6 L1090.3,1294.0 L1091.1,1289.0 L1091.9,1283.6 L1092.7,1278.1 L1093.5,1272.4 L1094.3,1266.7 L1095.1,1261.2 L1095.9,1256.0 L1096.7,1251.1 L1097.5,1246.6 L1098.3,1242.8 L1099.1,1239.7 L1099.9,1237.7 L1100.7,1236.5 L1101.5,1235.6 L1102.3,1234.6 L1103.1,1233.6 L1103.9,1232.7 L1104.7,1231.9 L1105.5,1231.2 L1106.3,1230.6 L1107.1,1230.4 L1107.9,1230.7 L1108.7,1231.5 L1109.5,1232.7 L1110.3,1234.4 L1111.1,1236.6 L1111.9,1239.3 L1112.7,1242.1 L1113.5,1245.0 L1114.3,1248.2 L1115.1,1251.6 L1115.9,1255.1 L1116.7,1258.9 L1117.5,1262.8 L1118.3,1266.8 L1119.1,1270.8 L1119.9,1274.9 L1120.7,1279.0 L1121.5,1283.0 L1122.3,1287.0 L1123.1,1290.9 L1123.9,1294.7 L1124.7,1298.4 L1125.5,1302.0 L1126.3,1305.6 L1127.1,1309.0 L1127.9,1312.3 L1128.7,1315.5 L1129.5,1318.5 L1130.3,1321.2 L1131.1,1323.6 L1131.9,1325.7 L1132.7,1327.6 L1133.5,1329.2 L1134.3,1330.6 L1135.1,1332.0 L1135.9,1333.2 L1136.7,1334.3 L1137.5,1335.3 L1138.3,1336.1 L1139.1,1336.7 L1139.9,1337.1 L1140.7,1337.2 L1141.5,1337.2 L1142.3,1337.0 L1143.1,1336.8 L1143.9,1336.4 L1144.7,1335.9 L1145.5,1335.3 L1146.3,1334.5 L1147.1,1333.7 L1147.9,1332.7 L1148.7,1331.7 L1149.5,1330.6 L1150.3,1329.4 L1151.1,1328.1 L1151.9,1326.8 L1152.7,1325.4 L1153.5,1323.9 L1154.3,1322.3 L1155.1,1320.6 L1155.9,1318.7 L1156.7,1316.8 L1157.5,1314.7 L1158.3,1312.6 L1159.1,1310.4 L1159.9,1308.2 L1160.7,1305.9 L1161.5,1303.5 L1162.3,1301.0 L1163.1,1298.5 L1163.9,1295.9 L1164.7,1293.3 L1165.5,1290.6 L1166.3,1287.7 L1167.1,1284.8 L1167.9,1281.8 L1168.7,1278.7 L1169.5,1275.6 L1170.3,1272.5 L1171.1,1269.4 L1171.9,1266.3 L1172.7,1263.4 L1173.5,1260.4 L1174.3,1257.6 L1175.1,1254.9 L1175.9,1252.3 L1176.7,1249.7 L1177.5,1247.2 L1178.3,1244.8 L1179.1,1242.4 L1179.9,1240.1 L1180.7,1237.9 L1181.5,1235.7 L1182.3,1233.7 L1183.1,1231.7 L1183.9,1230.1 L1184.7,1228.6 L1185.5,1227.4 L1186.3,1226.3 L1187.1,1225.3 L1187.9,1224.7 L1188.7,1224.3 L1189.5,1224.2 L1190.3,1224.5 L1191.1,1225.1 L1191.9,1226.1 L1192.7,1227.3 L1193.5,1228.9 L1194.3,1230.9 L1195.1,1233.5 L1195.9,1236.7 L1196.7,1240.0 L1197.5,1243.3 L1198.3,1246.8 L1199.1,1250.3 L1199.9,1253.9 L1200.7,1257.5 L1201.5,1261.2 L1202.3,1264.9 L1203.1,1268.8 L1203.9,1272.8 L1204.7,1276.8 L1205.5,1280.8 L1206.3,1284.7 L1207.1,1288.5 L1207.9,1292.1 L1208.7,1295.5 L1209.5,1298.7 L1210.3,1301.6 L1211.1,1304.4 L1211.9,1307.0 L1212.7,1309.5 L1213.5,1311.9 L1214.3,1314.2 L1215.1,1316.4 L1215.9,1318.6 L1216.7,1320.7 L1217.5,1322.8 L1218.3,1324.6 L1219.1,1326.2 L1219.9,1327.5 L1220.7,1328.5 L1221.5,1329.3 L1222.3,1329.8 L1223.1,1330.1 L1223.9,1330.2 L1224.7,1330.2 L1225.5,1330.0 L1226.3,1329.6 L1227.1,1328.9 L1227.9,1328.1 L1228.7,1327.2 L1229.5,1326.2 L1230.3,1325.2 L1231.1,1324.2 L1231.9,1323.1 L1232.7,1322.0 L1233.5,1320.8 L1234.3,1319.7 L1235.1,1318.5 L1235.9,1317.2 L1236.7,1315.9 L1237.5,1314.4 L1238.3,1312.7 L1239.1,1310.9 L1239.9,1309.0 L1240.7,1307.0 L1241.5,1304.9 L1242.3,1302.7 L1243.1,1300.6 L1243.9,1298.5 L1244.7,1296.4 L1245.5,1294.4 L1246.3,1292.5 L1247.1,1290.7 L1247.9,1288.8 L1248.7,1287.0 L1249.5,1285.2 L1250.3,1283.5 L1251.1,1281.8 L1251.9,1280.1 L1252.7,1278.5 L1253.5,1276.9 L1254.3,1275.4 L1255.1,1273.9 L1255.9,1272.6 L1256.7,1271.4 L1257.5,1270.3 L1258.3,1269.4 L1259.1,1268.5 L1259.9,1267.8 L1260.7,1267.1 L1261.5,1266.5 L1262.3,1265.9 L1263.1,1265.5 L1263.9,1265.1 L1264.7,1264.8 L1265.5,1264.7 L1266.3,1264.6 L1267.1,1264.5 L1267.9,1264.5 L1268.7,1264.6 L1269.5,1264.7 L1270.3,1265.0 L1271.1,1265.4 L1271.9,1266.1 L1272.7,1266.9 L1273.5,1267.9 L1274.3,1269.2 L1275.1,1270.5 L1275.9,1272.0 L1276.7,1273.6 L1277.5,1275.2 L1278.3,1277.0 L1279.1,1278.8 L1279.9,1280.6 L1280.7,1282.6 L1281.5,1284.5 L1282.3,1286.5 L1283.1,1288.4 L1283.9,1290.2 L1284.7,1291.9 L1285.5,1293.5 L1286.3,1295.0 L1287.1,1296.5 L1287.9,1297.9 L1288.7,1299.2 L1289.5,1300.5 L1290.3,1301.7 L1291.1,1302.8 L1291.9,1303.9 L1292.7,1304.9 L1293.5,1305.8 L1294.3,1306.7 L1295.1,1307.5 L1295.9,1308.2 L1296.7,1308.9 L1297.5,1309.6 L1298.3,1310.2 L1299.1,1310.7 L1299.9,1311.2 L1300.7,1311.6 L1301.5,1311.9 L1302.3,1312.1 L1303.1,1312.3 L1303.9,1312.3 L1304.7,1312.3 L1305.5,1312.1 L1306.3,1311.9 L1307.1,1311.6 L1307.9,1311.2 L1308.7,1310.7 L1309.5,1310.0 L1310.3,1309.3 L1311.1,1308.5 L1311.9,1307.7 L1312.7,1306.8 L1313.5,1305.9 L1314.3,1304.9 L1315.1,1303.9 L1315.9,1302.8 L1316.7,1301.7 L1317.5,1300.5 L1318.3,1299.3 L1319.1,1298.1 L1319.9,1296.9 L1320.7,1295.7 L1321.5,1294.5 L1322.3,1293.2 L1323.1,1292.0 L1323.9,1290.8 L1324.7,1289.7 L1325.5,1288.5 L1326.3,1287.3 L1327.1,1286.2 L1327.9,1285.0 L1328.7,1283.9 L1329.5,1282.7 L1330.3,1281.6 L1331.1,1280.4 L1331.9,1279.3 L1332.7,1278.2 L1333.5,1277.1 L1334.3,1276.1 L1335.1,1275.1 L1335.9,1274.3 L1336.7,1273.5 L1337.5,1272.8 L1338.3,1272.1 L1339.1,1271.5 L1339.9,1270.9 L1340.7,1270.3 L1341.5,1269.8 L1342.3,1269.4 L1343.1,1269.0 L1343.9,1268.7 L1344.7,1268.5 L1345.5,1268.3 L1346.3,1268.2 L1347.1,1268.1 L1347.9,1268.1 L1348.7,1268.1 L1349.5,1268.1 L1350.3,1268.3 L1351.1,1268.5 L1351.9,1268.9 L1352.7,1269.4 L1353.5,1270.2 L1354.3,1271.0 L1355.1,1271.9 L1355.9,1272.9 L1356.7,1273.9 L1357.5,1274.9 L1358.3,1276.0 L1359.1,1277.1 L1359.9,1278.2 L1360.7,1279.3 L1361.5,1280.5 L1362.3,1281.7 L1363.1,1282.9 L1363.9,1284.1 L1364.7,1285.3 L1365.5,1286.6 L1366.3,1287.8 L1367.1,1289.0 L1367.9,1290.2 L1368.7,1291.4 L1369.5,1292.5 L1370.3,1293.6 L1371.1,1294.7 L1371.9,1295.8 L1372.7,1296.8 L1373.5,1297.8 L1374.3,1298.8 L1375.1,1299.7 L1375.9,1300.5 L1376.7,1301.3 L1377.5,1302.1 L1378.3,1302.8 L1379.1,1303.4 L1379.9,1303.9 L1380.7,1304.4 L1381.5,1304.8 L1382.3,1305.2 L1383.1,1305.5 L1383.9,1305.8 L1384.7,1306.0 L1385.5,1306.3 L1386.3,1306.5 L1387.1,1306.7 L1387.9,1306.8 L1388.7,1306.8 L1389.5,1306.7 L1390.3,1306.6 L1391.1,1306.4 L1391.9,1306.2 L1392.7,1305.9 L1393.5,1305.5 L1394.3,1305.1 L1395.1,1304.7 L1395.9,1304.2 L1396.7,1303.7 L1397.5,1303.2 L1398.3,1302.7 L1399.1,1302.0 L1399.9,1301.4 L1400.7,1300.7 L1401.5,1299.9 L1402.3,1299.1 L1403.1,1298.2 L1403.9,1297.3 L1404.7,1296.4 L1405.5,1295.4 L1406.3,1294.5 L1407.1,1293.5 L1407.9,1292.6 L1408.7,1291.7 L1409.5,1290.8 L1410.3,1290.0 L1411.1,1289.2 L1411.9,1288.4 L1412.7,1287.6 L1413.5,1286.9 L1414.3,1286.1 L1415.1,1285.4 L1415.9,1284.7 L1416.7,1284.0 L1417.5,1283.3 L1418.3,1282.6 L1419.1,1282.0 L1419.9,1281.5 L1420.7,1280.9 L1421.5,1280.5 L1422.3,1280.0 L1423.1,1279.7 L1423.9,1279.3 L1424.7,1279.0 L1425.5,1278.7 L1426.3,1278.5 L1427.1,1278.3 L1427.9,1278.2 L1428.7,1278.1 L1429.5,1278.1 L1430.3,1278.1 L1431.1,1278.1 L1431.9,1278.2 L1432.7,1278.3 L1433.5,1278.5 L1434.3,1278.8 L1435.1,1279.2 L1435.9,1279.7 L1436.7,1280.3 L1437.5,1280.9 L1438.3,1281.6 L1439.1,1282.2 L1439.9,1282.8 L1440.7,1283.5 L1441.5,1284.2 L1442.3,1284.8 L1443.1,1285.5 L1443.9,1286.2 L1444.7,1286.9 L1445.5,1287.6 L1446.3,1288.3 L1447.1,1289.0 L1447.9,1289.7 L1448.7,1290.4 L1449.5,1291.1 L1450.3,1291.8 L1451.1,1292.5 L1451.9,1293.2 L1452.7,1293.9 L1453.5,1294.5 L1454.3,1295.0 L1455.1,1295.6 L1455.9,1296.0 L1456.7,1296.5 L1457.5,1296.9 L1458.3,1297.2 L1459.1,1297.6 L1459.9,1297.9 L1460.7,1298.2 L1461.5,1298.5 L1462.3,1298.8 L1463.1,1299.0 L1463.9,1299.2 L1464.7,1299.3 L1465.5,1299.5 L1466.3,1299.5 L1467.1,1299.6 L1467.9,1299.6 L1468.7,1299.6 L1469.5,1299.6 L1470.3,1299.5 L1471.1,1299.4 L1471.9,1299.3 L1472.7,1299.2 L1473.5,1299.0 L1474.3,1298.8 L1475.1,1298.5 L1475.9,1298.1 L1476.7,1297.7 L1477.5,1297.3 L1478.3,1296.7 L1479.1,1296.2 L1479.9,1295.6 L1480.7,1295.0 L1481.5,1294.4 L1482.3,1293.8 L1483.1,1293.2 L1483.9,1292.7 L1484.7,1292.1 L1485.5,1291.5 L1486.3,1290.9 L1487.1,1290.4 L1487.9,1289.8 L1488.7,1289.3 L1489.5,1288.7 L1490.3,1288.2 L1491.1,1287.6 L1491.9,1287.1 L1492.7,1286.5 L1493.5,1286.0 L1494.3,1285.5 L1495.1,1285.0 L1495.9,1284.5 L1496.7,1284.1 L1497.5,1283.7 L1498.3,1283.4 L1499.1,1283.1 L1499.9,1282.8 L1500.7,1282.5 L1501.5,1282.3 L1502.3,1282.0 L1503.1,1281.8 L1503.9,1281.6 L1504.7,1281.4 L1505.5,1281.2 L1506.3,1281.1 L1507.1,1281.0 L1507.9,1280.9 L1508.7,1280.9 L1509.5,1280.9 L1510.3,1280.9 L1511.1,1280.9 L1511.9,1281.0 L1512.7,1281.1 L1513.5,1281.2 L1514.3,1281.4 L1515.1,1281.6 L1515.9,1281.8 L1516.7,1282.1 L1517.5,1282.5 L1518.3,1282.9 L1519.1,1283.3 L1519.9,1283.7 L1520.7,1284.1 L1521.5,1284.5 L1522.3,1284.9 L1523.1,1285.3 L1523.9,1285.7 L1524.7,1286.1 L1525.5,1286.6 L1526.3,1287.0 L1527.1,1287.4 L1527.9,1287.9 L1528.7,1288.3 L1529.5,1288.7 L1530.3,1289.2 L1531.1,1289.6 L1531.9,1290.1 L1532.7,1290.5 L1533.5,1291.0 L1534.3,1291.4 L1535.1,1291.8 L1535.9,1292.2 L1536.7,1292.6 L1537.5,1293.0 L1538.3,1293.3 L1539.1,1293.6 L1539.9,1293.9 L1540.7,1294.2 L1541.5,1294.5 L1542.3,1294.7 L1543.1,1294.9 L1543.9,1295.1 L1544.7,1295.3 L1545.5,1295.5 L1546.3,1295.7 L1547.1,1295.8 L1547.9,1295.9 L1548.7,1296.0 L1549.5,1296.1 L1550.3,1296.1 L1551.1,1296.2 L1551.9,1296.2 L1552.7,1296.2 L1553.3,1296.2" stroke="#151515" stroke-width="1.75"/>
<path d="M899.9,1409.1 L900.7,1409.1 L901.5,1409.2 L902.3,1409.3 L903.1,1409.4 L903.9,1409.5 L904.7,1409.5 L905.5,1409.6 L906.3,1409.7 L907.1,1409.8 L907.9,1409.9 L908.7,1409.9 L909.5,1409.5 L910.3,1408.6 L911.1,1407.5 L911.9,1405.3 L912.7,1401.8 L913.5,1397.2 L914.3,1390.8 L915.1,1382.3 L915.9,1370.6 L916.7,1356.1 L917.5,1336.4 L918.3,1316.0 L919.1,1300.1 L919.9,1286.1 L920.7,1274.5 L921.5,1265.8 L922.3,1259.7 L923.1,1256.0 L923.9,1254.4 L924.7,1255.4 L925.5,1258.2 L926.3,1261.9 L927.1,1266.2 L927.9,1270.8 L928.7,1275.6 L929.5,1280.5 L930.3,1285.6 L931.1,1291.1 L931.9,1296.8 L932.7,1302.6 L933.5,1308.3 L934.3,1313.7 L935.1,1318.8 L935.9,1323.8 L936.7,1328.5 L937.5,1332.9 L938.3,1337.0 L939.1,1340.8 L939.9,1344.3 L940.7,1347.4 L941.5,1350.2 L942.3,1353.0 L943.1,1355.5 L943.9,1357.9 L944.7,1360.2 L945.5,1362.4 L946.3,1364.4 L947.1,1366.4 L947.9,1368.2 L948.7,1370.0 L949.5,1371.8 L950.3,1373.5 L951.1,1375.1 L951.9,1376.7 L952.7,1378.2 L953.5,1379.5 L954.3,1380.8 L955.1,1381.8 L955.9,1382.7 L956.7,1383.5 L957.5,1384.1 L958.3,1384.6 L959.1,1384.9 L959.9,1385.0 L960.7,1385.0 L961.5,1385.0 L962.3,1384.9 L963.1,1384.8 L963.9,1384.6 L964.7,1384.4 L965.5,1384.1 L966.3,1383.8 L967.1,1383.5 L967.9,1383.1 L968.7,1382.7 L969.5,1382.2 L970.3,1381.7 L971.1,1381.1 L971.9,1380.5 L972.7,1379.9 L973.5,1379.2 L974.3,1378.5 L975.1,1377.8 L975.9,1377.0 L976.7,1376.2 L977.5,1375.5 L978.3,1374.7 L979.1,1373.9 L979.9,1373.1 L980.7,1372.3 L981.5,1371.4 L982.3,1370.5 L983.1,1369.5 L983.9,1368.5 L984.7,1367.3 L985.5,1366.1 L986.3,1364.9 L987.1,1363.5 L987.9,1362.1 L988.7,1360.6 L989.5,1359.0 L990.3,1357.4 L991.1,1355.7 L991.9,1353.7 L992.7,1351.1 L993.5,1348.0 L994.3,1344.3 L995.1,1340.3 L995.9,1336.0 L996.7,1331.4 L997.5,1326.6 L998.3,1321.8 L999.1,1316.9 L999.9,1312.1 L1000.7,1307.1 L1001.5,1301.9 L1002.3,1296.4 L1003.1,1290.4 L1003.9,1284.0 L1004.7,1277.1 L1005.5,1269.4 L1006.3,1261.0 L1007.1,1251.7 L1007.9,1241.5 L1008.7,1230.7 L1009.5,1219.5 L1010.3,1208.4 L1011.1,1197.5 L1011.9,1187.2 L1012.7,1177.1 L1013.5,1167.1 L1014.3,1157.4 L1015.1,1147.9 L1015.9,1138.9 L1016.7,1130.4 L1017.5,1123.4 L1018.3,1117.6 L1019.1,1113.0 L1019.9,1109.5 L1020.7,1106.8 L1021.5,1104.8 L1022.3,1103.5 L1023.1,1102.7 L1023.9,1102.3 L1024.7,1102.1 L1025.5,1103.2 L1026.3,1107.2 L1027.1,1113.1 L1027.9,1120.2 L1028.7,1127.8 L1029.5,1135.4 L1030.3,1143.2 L1031.1,1151.1 L1031.9,1159.2 L1032.7,1167.5 L1033.5,1175.9 L1034.3,1184.9 L1035.1,1194.6 L1035.9,1205.0 L1036.7,1215.9 L1037.5,1227.2 L1038.3,1238.8 L1039.1,1253.0 L1039.9,1270.2 L1040.7,1287.3 L1041.5,1301.1 L1042.3,1311.4 L1043.1,1319.8 L1043.9,1326.1 L1044.7,1331.1 L1045.5,1335.8 L1046.3,1340.2 L1047.1,1344.1 L1047.9,1347.3 L1048.7,1349.6 L1049.5,1351.5 L1050.3,1353.2 L1051.1,1354.8 L1051.9,1356.2 L1052.7,1357.3 L1053.5,1358.0 L1054.3,1358.7 L1055.1,1359.3 L1055.9,1359.8 L1056.7,1360.1 L1057.5,1360.2 L1058.3,1360.1 L1059.1,1360.0 L1059.9,1359.6 L1060.7,1359.2 L1061.5,1358.7 L1062.3,1358.0 L1063.1,1357.1 L1063.9,1356.1 L1064.7,1354.7 L1065.5,1353.2 L1066.3,1351.6 L1067.1,1349.9 L1067.9,1348.1 L1068.7,1346.1 L1069.5,1344.1 L1070.3,1342.0 L1071.1,1339.7 L1071.9,1337.4 L1072.7,1335.2 L1073.5,1332.8 L1074.3,1330.5 L1075.1,1328.1 L1075.9,1325.7 L1076.7,1323.2 L1077.5,1320.7 L1078.3,1318.2 L1079.1,1315.5 L1079.9,1312.8 L1080.7,1310.1 L1081.5,1307.3 L1082.3,1304.6 L1083.1,1302.0 L1083.9,1299.5 L1084.7,1297.0 L1085.5,1294.6 L1086.3,1292.2 L1087.1,1289.9 L1087.9,1287.6 L1088.7,1285.2 L1089.5,1283.0 L1090.3,1280.7 L1091.1,1278.5 L1091.9,1276.3 L1092.7,1274.1 L1093.5,1272.0 L1094.3,1269.9 L1095.1,1267.9 L1095.9,1265.9 L1096.7,1264.4 L1097.5,1263.2 L1098.3,1262.2 L1099.1,1261.3 L1099.9,1260.5 L1100.7,1259.8 L1101.5,1259.4 L1102.3,1259.1 L1103.1,1259.1 L1103.9,1259.3 L1104.7,1259.7 L1105.5,1260.2 L1106.3,1261.0 L1107.1,1261.9 L1107.9,1263.0 L1108.7,1264.1 L1109.5,1265.5 L1110.3,1267.2 L1111.1,1269.0 L1111.9,1271.0 L1112.7,1273.0 L1113.5,1275.0 L1114.3,1277.1 L1115.1,1279.2 L1115.9,1281.3 L1116.7,1283.3 L1117.5,1285.3 L1118.3,1287.3 L1119.1,1289.1 L1119.9,1291.0 L1120.7,1292.8 L1121.5,1294.6 L1122.3,1296.4 L1123.1,1298.1 L1123.9,1299.8 L1124.7,1301.5 L1125.5,1303.1 L1126.3,1304.6 L1127.1,1306.1 L1127.9,1307.5 L1128.7,1308.8 L1129.5,1309.9 L1130.3,1310.9 L1131.1,1311.8 L1131.9,1312.6 L1132.7,1313.4 L1133.5,1314.0 L1134.3,1314.6 L1135.1,1315.2 L1135.9,1315.7 L1136.7,1316.2 L1137.5,1316.6 L1138.3,1316.8 L1139.1,1317.0 L1139.9,1317.1 L1140.7,1317.0 L1141.5,1316.9 L1142.3,1316.7 L1143.1,1316.5 L1143.9,1316.2 L1144.7,1315.8 L1145.5,1315.4 L1146.3,1315.0 L1147.1,1314.5 L1147.9,1314.0 L1148.7,1313.5 L1149.5,1313.0 L1150.3,1312.3 L1151.1,1311.6 L1151.9,1310.7 L1152.7,1309.7 L1153.5,1308.6 L1154.3,1307.5 L1155.1,1306.3 L1155.9,1305.1 L1156.7,1304.0 L1157.5,1302.8 L1158.3,1301.6 L1159.1,1300.4 L1159.9,1299.3 L1160.7,1298.1 L1161.5,1297.0 L1162.3,1295.8 L1163.1,1294.7 L1163.9,1293.6 L1164.7,1292.4 L1165.5,1291.3 L1166.3,1290.2 L1167.1,1289.0 L1167.9,1287.9 L1168.7,1286.8 L1169.5,1285.7 L1170.3,1284.6 L1171.1,1283.5 L1171.9,1282.4 L1172.7,1281.4 L1173.5,1280.5 L1174.3,1279.6 L1175.1,1278.9 L1175.9,1278.2 L1176.7,1277.6 L1177.5,1277.0 L1178.3,1276.5 L1179.1,1276.0 L1179.9,1275.5 L1180.7,1275.0 L1181.5,1274.6 L1182.3,1274.2 L1183.1,1274.0 L1183.9,1273.7 L1184.7,1273.6 L1185.5,1273.5 L1186.3,1273.5 L1187.1,1273.6 L1187.9,1273.7 L1188.7,1273.9 L1189.5,1274.2 L1190.3,1274.6 L1191.1,1275.0 L1191.9,1275.6 L1192.7,1276.1 L1193.5,1276.7 L1194.3,1277.4 L1195.1,1278.1 L1195.9,1278.8 L1196.7,1279.6 L1197.5,1280.4 L1198.3,1281.3 L1199.1,1282.2 L1199.9,1283.1 L1200.7,1284.1 L1201.5,1285.1 L1202.3,1286.1 L1203.1,1287.1 L1203.9,1288.1 L1204.7,1289.1 L1205.5,1290.1 L1206.3,1291.1 L1207.1,1292.0 L1207.9,1292.9 L1208.7,1293.8 L1209.5,1294.7 L1210.3,1295.6 L1211.1,1296.5 L1211.9,1297.3 L1212.7,1298.1 L1213.5,1298.9 L1214.3,1299.6 L1215.1,1300.2 L1215.9,1300.7 L1216.7,1301.1 L1217.5,1301.4 L1218.3,1301.5 L1219.1,1301.5 L1219.9,1301.4 L1220.7,1301.3 L1221.5,1301.2 L1222.3,1301.2 L1223.1,1301.2 L1223.9,1301.2 L1224.7,1301.1 L1225.5,1301.0 L1226.3,1300.8 L1227.1,1300.5 L1227.9,1300.3 L1228.7,1300.0 L1229.5,1299.6 L1230.3,1299.3 L1231.1,1299.0 L1231.9,1298.6 L1232.7,1298.2 L1233.5,1297.8 L1234.3,1297.5 L1235.1,1297.1 L1235.9,1296.7 L1236.7,1296.3 L1237.5,1295.9 L1238.3,1295.5 L1239.1,1295.1 L1239.9,1294.7 L1240.7,1294.3 L1241.5,1293.9 L1242.3,1293.5 L1243.1,1293.1 L1243.9,1292.7 L1244.7,1292.3 L1245.5,1291.9 L1246.3,1291.5 L1247.1,1291.1 L1247.9,1290.7 L1248.7,1290.4 L1249.5,1290.1 L1250.3,1289.7 L1251.1,1289.4 L1251.9,1289.1 L1252.7,1288.8 L1253.5,1288.5 L1254.3,1288.2 L1255.1,1287.9 L1255.9,1287.6 L1256.7,1287.3 L1257.5,1287.0 L1258.3,1286.8 L1259.1,1286.6 L1259.9,1286.4 L1260.7,1286.2 L1261.5,1286.0 L1262.3,1285.9 L1263.1,1285.8 L1263.9,1285.7 L1264.7,1285.6 L1265.5,1285.5 L1266.3,1285.5 L1267.1,1285.5 L1267.9,1285.5 L1268.7,1285.6 L1269.5,1285.6 L1270.3,1285.7 L1271.1,1285.8 L1271.9,1285.9 L1272.7,1286.0 L1273.5,1286.1 L1274.3,1286.3 L1275.1,1286.4 L1275.9,1286.6 L1276.7,1286.8 L1277.5,1286.9 L1278.3,1287.1 L1279.1,1287.3 L1279.9,1287.6 L1280.7,1287.8 L1281.5,1288.0 L1282.3,1288.3 L1283.1,1288.6 L1283.9,1288.8 L1284.7,1289.1 L1285.5,1289.4 L1286.3,1289.7 L1287.1,1290.0 L1287.9,1290.3 L1288.7,1290.5 L1289.5,1290.8 L1290.3,1291.1 L1291.1,1291.3 L1291.9,1291.6 L1292.7,1291.8 L1293.5,1292.1 L1294.3,1292.3 L1295.1,1292.5 L1295.9,1292.7 L1296.7,1292.9 L1297.5,1293.1 L1298.3,1293.2 L1299.1,1293.4 L1299.9,1293.5 L1300.7,1293.7 L1301.5,1293.8 L1302.3,1293.9 L1303.1,1293.9 L1303.9,1294.0 L1304.7,1294.0 L1305.5,1294.0 L1306.3,1294.0 L1307.1,1294.0 L1307.9,1294.0 L1308.7,1293.9 L1309.5,1293.9 L1310.3,1293.8 L1311.1,1293.7 L1311.9,1293.6 L1312.7,1293.5 L1313.5,1293.4 L1314.3,1293.3 L1315.1,1293.2 L1315.9,1293.1 L1316.7,1292.9 L1317.5,1292.8 L1318.3,1292.6 L1319.1,1292.4 L1319.9,1292.3 L1320.7,1292.1 L1321.5,1291.9 L1322.3,1291.7 L1323.1,1291.6 L1323.9,1291.4 L1324.7,1291.2 L1325.5,1291.0 L1326.3,1290.8 L1327.1,1290.7 L1327.9,1290.5 L1328.7,1290.3 L1329.5,1290.2 L1330.3,1290.0 L1331.1,1289.8 L1331.9,1289.7 L1332.7,1289.5 L1333.5,1289.4 L1334.3,1289.2 L1335.1,1289.1 L1335.9,1288.9 L1336.7,1288.8 L1337.5,1288.7 L1338.3,1288.5 L1339.1,1288.4 L1339.9,1288.3 L1340.7,1288.2 L1341.5,1288.0 L1342.3,1287.9 L1343.1,1287.8 L1343.9,1287.7 L1344.7,1287.6 L1345.5,1287.5 L1346.3,1287.4 L1347.1,1287.3 L1347.9,1287.2 L1348.7,1287.2 L1349.5,1287.2 L1350.3,1287.2 L1351.1,1287.2 L1351.9,1287.2 L1352.7,1287.3 L1353.5,1287.3 L1354.3,1287.4 L1355.1,1287.5 L1355.9,1287.6 L1356.7,1287.6 L1357.5,1287.7 L1358.3,1287.8 L1359.1,1287.9 L1359.9,1288.0 L1360.7,1288.0 L1361.5,1288.1 L1362.3,1288.2 L1363.1,1288.3 L1363.9,1288.4 L1364.7,1288.5 L1365.5,1288.5 L1366.3,1288.6 L1367.1,1288.7 L1367.9,1288.8 L1368.7,1288.9 L1369.5,1288.9 L1370.3,1289.0 L1371.1,1289.1 L1371.9,1289.2 L1372.7,1289.3 L1373.5,1289.4 L1374.3,1289.5 L1375.1,1289.6 L1375.9,1289.7 L1376.7,1289.7 L1377.5,1289.8 L1378.3,1289.9 L1379.1,1290.0 L1379.9,1290.1 L1380.7,1290.2 L1381.5,1290.2 L1382.3,1290.3 L1383.1,1290.3 L1383.9,1290.4 L1384.7,1290.4 L1385.5,1290.4 L1386.3,1290.4 L1387.1,1290.4 L1387.9,1290.4 L1388.7,1290.4 L1389.5,1290.4 L1390.3,1290.4 L1391.1,1290.3 L1391.9,1290.3 L1392.7,1290.2 L1393.5,1290.2 L1394.3,1290.1 L1395.1,1290.1 L1395.9,1290.0 L1396.7,1289.9 L1397.5,1289.9 L1398.3,1289.8 L1399.1,1289.7 L1399.9,1289.6 L1400.7,1289.6 L1401.5,1289.5 L1402.3,1289.4 L1403.1,1289.3 L1403.9,1289.3 L1404.7,1289.2 L1405.5,1289.1 L1406.3,1289.1 L1407.1,1289.0 L1407.9,1288.9 L1408.7,1288.9 L1409.5,1288.8 L1410.3,1288.7 L1411.1,1288.7 L1411.9,1288.6 L1412.7,1288.5 L1413.5,1288.4 L1414.3,1288.4 L1415.1,1288.3 L1415.9,1288.2 L1416.7,1288.1 L1417.5,1288.1 L1418.3,1288.0 L1419.1,1287.9 L1419.9,1287.8 L1420.7,1287.8 L1421.5,1287.7 L1422.3,1287.6 L1423.1,1287.6 L1423.9,1287.5 L1424.7,1287.5 L1425.5,1287.4 L1426.3,1287.4 L1427.1,1287.3 L1427.9,1287.3 L1428.7,1287.3 L1429.5,1287.2 L1430.3,1287.2 L1431.1,1287.2 L1431.9,1287.2 L1432.7,1287.2 L1433.5,1287.3 L1434.3,1287.3 L1435.1,1287.3 L1435.9,1287.3 L1436.7,1287.4 L1437.5,1287.4 L1438.3,1287.5 L1439.1,1287.5 L1439.9,1287.6 L1440.7,1287.7 L1441.5,1287.7 L1442.3,1287.8 L1443.1,1287.9 L1443.9,1287.9 L1444.7,1288.0 L1445.5,1288.0 L1446.3,1288.1 L1447.1,1288.1 L1447.9,1288.2 L1448.7,1288.2 L1449.5,1288.3 L1450.3,1288.3 L1451.1,1288.3 L1451.9,1288.4 L1452.7,1288.4 L1453.5,1288.5 L1454.3,1288.5 L1455.1,1288.5 L1455.9,1288.6 L1456.7,1288.6 L1457.5,1288.7 L1458.3,1288.7 L1459.1,1288.7 L1459.9,1288.8 L1460.7,1288.8 L1461.5,1288.8 L1462.3,1288.9 L1463.1,1288.9 L1463.9,1288.9 L1464.7,1288.9 L1465.5,1288.9 L1466.3,1289.0 L1467.1,1289.0 L1467.9,1289.0 L1468.7,1289.0 L1469.5,1288.9 L1470.3,1288.9 L1471.1,1288.9 L1471.9,1288.9 L1472.7,1288.8 L1473.5,1288.8 L1474.3,1288.8 L1475.1,1288.7 L1475.9,1288.7 L1476.7,1288.6 L1477.5,1288.6 L1478.3,1288.5 L1479.1,1288.5 L1479.9,1288.4 L1480.7,1288.4 L1481.5,1288.3 L1482.3,1288.2 L1483.1,1288.2 L1483.9,1288.1 L1484.7,1288.1 L1485.5,1288.0 L1486.3,1287.9 L1487.1,1287.9 L1487.9,1287.8 L1488.7,1287.8 L1489.5,1287.7 L1490.3,1287.7 L1491.1,1287.6 L1491.9,1287.6 L1492.7,1287.6 L1493.5,1287.5 L1494.3,1287.5 L1495.1,1287.4 L1495.9,1287.4 L1496.7,1287.3 L1497.5,1287.3 L1498.3,1287.3 L1499.1,1287.2 L1499.9,1287.2 L1500.7,1287.1 L1501.5,1287.1 L1502.3,1287.1 L1503.1,1287.0 L1503.9,1287.0 L1504.7,1287.0 L1505.5,1286.9 L1506.3,1286.9 L1507.1,1286.9 L1507.9,1286.9 L1508.7,1286.8 L1509.5,1286.8 L1510.3,1286.8 L1511.1,1286.8 L1511.9,1286.8 L1512.7,1286.8 L1513.5,1286.8 L1514.3,1286.8 L1515.1,1286.8 L1515.9,1286.8 L1516.7,1286.9 L1517.5,1286.9 L1518.3,1286.9 L1519.1,1286.9 L1519.9,1286.9 L1520.7,1287.0 L1521.5,1287.0 L1522.3,1287.0 L1523.1,1287.0 L1523.9,1287.1 L1524.7,1287.1 L1525.5,1287.1 L1526.3,1287.1 L1527.1,1287.1 L1527.9,1287.2 L1528.7,1287.2 L1529.5,1287.2 L1530.3,1287.2 L1531.1,1287.2 L1531.9,1287.2 L1532.7,1287.2 L1533.5,1287.2 L1534.3,1287.3 L1535.1,1287.3 L1535.9,1287.3 L1536.7,1287.3 L1537.5,1287.3 L1538.3,1287.3 L1539.1,1287.3 L1539.9,1287.3 L1540.7,1287.3 L1541.5,1287.3 L1542.3,1287.3 L1543.1,1287.3 L1543.9,1287.3 L1544.7,1287.3 L1545.5,1287.3 L1546.3,1287.3 L1547.1,1287.3 L1547.9,1287.3 L1548.7,1287.3 L1549.5,1287.3 L1550.3,1287.3 L1551.1,1287.3 L1551.9,1287.3 L1552.7,1287.3 L1553.3,1287.2" stroke="#d93434" stroke-width="1.75"/>
<path d="M899.9,1409.1 L900.7,1409.1 L901.5,1409.2 L902.3,1409.3 L903.1,1409.4 L903.9,1409.5 L904.7,1409.6 L905.5,1409.7 L906.3,1409.8 L907.1,1409.9 L907.9,1410.1 L908.7,1410.1 L909.5,1409.8 L910.3,1409.1 L911.1,1408.2 L911.9,1406.5 L912.7,1403.2 L913.5,1399.1 L914.3,1393.1 L915.1,1385.2 L915.9,1374.3 L916.7,1360.4 L917.5,1341.6 L918.3,1320.4 L919.1,1302.8 L919.9,1287.6 L920.7,1274.6 L921.5,1264.6 L922.3,1257.6 L923.1,1253.2 L923.9,1250.8 L924.7,1251.4 L925.5,1254.2 L926.3,1258.3 L927.1,1262.9 L927.9,1267.8 L928.7,1272.8 L929.5,1277.9 L930.3,1283.1 L931.1,1288.6 L931.9,1294.4 L932.7,1300.3 L933.5,1306.2 L934.3,1311.8 L935.1,1317.2 L935.9,1322.3 L936.7,1327.1 L937.5,1331.6 L938.3,1335.9 L939.1,1339.8 L939.9,1343.4 L940.7,1346.6 L941.5,1349.6 L942.3,1352.4 L943.1,1355.0 L943.9,1357.6 L944.7,1359.9 L945.5,1362.2 L946.3,1364.3 L947.1,1366.3 L947.9,1368.2 L948.7,1370.0 L949.5,1371.7 L950.3,1373.4 L951.1,1375.1 L951.9,1376.7 L952.7,1378.2 L953.5,1379.6 L954.3,1380.9 L955.1,1382.1 L955.9,1383.1 L956.7,1383.9 L957.5,1384.7 L958.3,1385.3 L959.1,1385.8 L959.9,1386.2 L960.7,1386.5 L961.5,1386.5 L962.3,1386.5 L963.1,1386.5 L963.9,1386.4 L964.7,1386.3 L965.5,1386.2 L966.3,1386.0 L967.1,1385.7 L967.9,1385.5 L968.7,1385.2 L969.5,1384.8 L970.3,1384.4 L971.1,1384.0 L971.9,1383.5 L972.7,1383.0 L973.5,1382.4 L974.3,1381.8 L975.1,1381.2 L975.9,1380.6 L976.7,1379.9 L977.5,1379.2 L978.3,1378.5 L979.1,1377.8 L979.9,1377.1 L980.7,1376.4 L981.5,1375.7 L982.3,1375.0 L983.1,1374.2 L983.9,1373.4 L984.7,1372.5 L985.5,1371.5 L986.3,1370.4 L987.1,1369.3 L987.9,1368.1 L988.7,1366.8 L989.5,1365.4 L990.3,1363.9 L991.1,1362.3 L991.9,1360.5 L992.7,1358.6 L993.5,1356.0 L994.3,1352.6 L995.1,1348.7 L995.9,1344.2 L996.7,1339.4 L997.5,1334.2 L998.3,1328.9 L999.1,1323.5 L999.9,1318.2 L1000.7,1313.0 L1001.5,1307.9 L1002.3,1302.8 L1003.1,1297.4 L1003.9,1291.7 L1004.7,1285.4 L1005.5,1278.3 L1006.3,1270.5 L1007.1,1261.5 L1007.9,1251.4 L1008.7,1240.7 L1009.5,1229.7 L1010.3,1218.6 L1011.1,1207.4 L1011.9,1196.4 L1012.7,1185.6 L1013.5,1174.8 L1014.3,1164.1 L1015.1,1153.5 L1015.9,1143.0 L1016.7,1132.6 L1017.5,1123.1 L1018.3,1115.4 L1019.1,1109.2 L1019.9,1104.4 L1020.7,1100.7 L1021.5,1097.8 L1022.3,1096.0 L1023.1,1094.9 L1023.9,1094.4 L1024.7,1094.2 L1025.5,1095.1 L1026.3,1098.5 L1027.1,1104.1 L1027.9,1111.0 L1028.7,1118.7 L1029.5,1126.8 L1030.3,1134.9 L1031.1,1143.3 L1031.9,1151.8 L1032.7,1160.4 L1033.5,1169.2 L1034.3,1178.2 L1035.1,1187.6 L1035.9,1197.6 L1036.7,1208.1 L1037.5,1218.9 L1038.3,1230.2 L1039.1,1241.9 L1039.9,1257.0 L1040.7,1274.4 L1041.5,1291.0 L1042.3,1304.0 L1043.1,1314.3 L1043.9,1322.7 L1044.7,1329.0 L1045.5,1334.4 L1046.3,1339.4 L1047.1,1344.0 L1047.9,1347.9 L1048.7,1351.0 L1049.5,1353.3 L1050.3,1355.4 L1051.1,1357.3 L1051.9,1359.0 L1052.7,1360.3 L1053.5,1361.2 L1054.3,1361.9 L1055.1,1362.5 L1055.9,1363.0 L1056.7,1363.3 L1057.5,1363.4 L1058.3,1363.3 L1059.1,1363.1 L1059.9,1362.7 L1060.7,1362.2 L1061.5,1361.6 L1062.3,1360.9 L1063.1,1360.0 L1063.9,1358.9 L1064.7,1357.5 L1065.5,1355.9 L1066.3,1354.2 L1067.1,1352.4 L1067.9,1350.4 L1068.7,1348.4 L1069.5,1346.2 L1070.3,1343.9 L1071.1,1341.5 L1071.9,1339.0 L1072.7,1336.5 L1073.5,1334.0 L1074.3,1331.5 L1075.1,1329.0 L1075.9,1326.4 L1076.7,1323.8 L1077.5,1321.2 L1078.3,1318.5 L1079.1,1315.9 L1079.9,1313.2 L1080.7,1310.4 L1081.5,1307.7 L1082.3,1304.9 L1083.1,1302.2 L1083.9,1299.4 L1084.7,1296.5 L1085.5,1293.5 L1086.3,1290.5 L1087.1,1287.6 L1087.9,1284.8 L1088.7,1282.1 L1089.5,1279.5 L1090.3,1277.0 L1091.1,1274.5 L1091.9,1272.1 L1092.7,1269.8 L1093.5,1267.5 L1094.3,1265.3 L1095.1,1263.2 L1095.9,1261.2 L1096.7,1259.5 L1097.5,1258.1 L1098.3,1256.9 L1099.1,1255.9 L1099.9,1254.9 L1100.7,1254.2 L1101.5,1253.7 L1102.3,1253.4 L1103.1,1253.3 L1103.9,1253.5 L1104.7,1253.9 L1105.5,1254.6 L1106.3,1255.5 L1107.1,1256.6 L1107.9,1257.8 L1108.7,1259.3 L1109.5,1261.0 L1110.3,1263.0 L1111.1,1265.1 L1111.9,1267.4 L1112.7,1269.7 L1113.5,1272.0 L1114.3,1274.4 L1115.1,1276.8 L1115.9,1279.1 L1116.7,1281.5 L1117.5,1283.8 L1118.3,1286.0 L1119.1,1288.2 L1119.9,1290.4 L1120.7,1292.5 L1121.5,1294.6 L1122.3,1296.7 L1123.1,1298.8 L1123.9,1300.8 L1124.7,1302.7 L1125.5,1304.6 L1126.3,1306.4 L1127.1,1308.2 L1127.9,1309.8 L1128.7,1311.3 L1129.5,1312.6 L1130.3,1313.7 L1131.1,1314.7 L1131.9,1315.6 L1132.7,1316.4 L1133.5,1317.1 L1134.3,1317.8 L1135.1,1318.4 L1135.9,1319.0 L1136.7,1319.6 L1137.5,1320.0 L1138.3,1320.4 L1139.1,1320.6 L1139.9,1320.7 L1140.7,1320.6 L1141.5,1320.5 L1142.3,1320.2 L1143.1,1320.0 L1143.9,1319.6 L1144.7,1319.2 L1145.5,1318.7 L1146.3,1318.2 L1147.1,1317.6 L1147.9,1317.1 L1148.7,1316.6 L1149.5,1316.0 L1150.3,1315.3 L1151.1,1314.5 L1151.9,1313.5 L1152.7,1312.3 L1153.5,1311.0 L1154.3,1309.6 L1155.1,1308.3 L1155.9,1307.0 L1156.7,1305.6 L1157.5,1304.3 L1158.3,1302.9 L1159.1,1301.6 L1159.9,1300.2 L1160.7,1298.9 L1161.5,1297.5 L1162.3,1296.2 L1163.1,1294.8 L1163.9,1293.5 L1164.7,1292.1 L1165.5,1290.7 L1166.3,1289.4 L1167.1,1288.0 L1167.9,1286.6 L1168.7,1285.3 L1169.5,1283.9 L1170.3,1282.6 L1171.1,1281.2 L1171.9,1279.9 L1172.7,1278.6 L1173.5,1277.5 L1174.3,1276.5 L1175.1,1275.6 L1175.9,1274.8 L1176.7,1274.1 L1177.5,1273.5 L1178.3,1272.9 L1179.1,1272.3 L1179.9,1271.7 L1180.7,1271.2 L1181.5,1270.7 L1182.3,1270.2 L1183.1,1269.9 L1183.9,1269.6 L1184.7,1269.4 L1185.5,1269.3 L1186.3,1269.2 L1187.1,1269.3 L1187.9,1269.4 L1188.7,1269.7 L1189.5,1270.0 L1190.3,1270.5 L1191.1,1271.0 L1191.9,1271.6 L1192.7,1272.3 L1193.5,1273.0 L1194.3,1273.8 L1195.1,1274.6 L1195.9,1275.5 L1196.7,1276.5 L1197.5,1277.5 L1198.3,1278.5 L1199.1,1279.6 L1199.9,1280.7 L1200.7,1281.9 L1201.5,1283.1 L1202.3,1284.3 L1203.1,1285.5 L1203.9,1286.7 L1204.7,1287.9 L1205.5,1289.1 L1206.3,1290.3 L1207.1,1291.4 L1207.9,1292.5 L1208.7,1293.5 L1209.5,1294.6 L1210.3,1295.6 L1211.1,1296.6 L1211.9,1297.6 L1212.7,1298.6 L1213.5,1299.5 L1214.3,1300.3 L1215.1,1301.1 L1215.9,1301.8 L1216.7,1302.3 L1217.5,1302.8 L1218.3,1303.1 L1219.1,1303.3 L1219.9,1303.4 L1220.7,1303.4 L1221.5,1303.4 L1222.3,1303.4 L1223.1,1303.4 L1223.9,1303.4 L1224.7,1303.3 L1225.5,1303.1 L1226.3,1302.8 L1227.1,1302.6 L1227.9,1302.3 L1228.7,1301.9 L1229.5,1301.6 L1230.3,1301.2 L1231.1,1300.8 L1231.9,1300.4 L1232.7,1300.0 L1233.5,1299.5 L1234.3,1299.1 L1235.1,1298.6 L1235.9,1298.2 L1236.7,1297.7 L1237.5,1297.2 L1238.3,1296.7 L1239.1,1296.2 L1239.9,1295.8 L1240.7,1295.3 L1241.5,1294.8 L1242.3,1294.3 L1243.1,1293.8 L1243.9,1293.3 L1244.7,1292.8 L1245.5,1292.4 L1246.3,1291.9 L1247.1,1291.4 L1247.9,1291.0 L1248.7,1290.6 L1249.5,1290.1 L1250.3,1289.7 L1251.1,1289.3 L1251.9,1288.9 L1252.7,1288.4 L1253.5,1288.0 L1254.3,1287.6 L1255.1,1287.3 L1255.9,1286.9 L1256.7,1286.5 L1257.5,1286.1 L1258.3,1285.8 L1259.1,1285.5 L1259.9,1285.2 L1260.7,1284.9 L1261.5,1284.7 L1262.3,1284.5 L1263.1,1284.4 L1263.9,1284.3 L1264.7,1284.1 L1265.5,1284.1 L1266.3,1284.0 L1267.1,1284.0 L1267.9,1284.0 L1268.7,1284.1 L1269.5,1284.1 L1270.3,1284.2 L1271.1,1284.3 L1271.9,1284.5 L1272.7,1284.6 L1273.5,1284.8 L1274.3,1284.9 L1275.1,1285.2 L1275.9,1285.4 L1276.7,1285.6 L1277.5,1285.9 L1278.3,1286.1 L1279.1,1286.4 L1279.9,1286.7 L1280.7,1287.0 L1281.5,1287.3 L1282.3,1287.6 L1283.1,1288.0 L1283.9,1288.4 L1284.7,1288.8 L1285.5,1289.1 L1286.3,1289.5 L1287.1,1289.9 L1287.9,1290.3 L1288.7,1290.7 L1289.5,1291.1 L1290.3,1291.4 L1291.1,1291.8 L1291.9,1292.1 L1292.7,1292.4 L1293.5,1292.7 L1294.3,1293.0 L1295.1,1293.3 L1295.9,1293.6 L1296.7,1293.8 L1297.5,1294.1 L1298.3,1294.3 L1299.1,1294.5 L1299.9,1294.7 L1300.7,1294.9 L1301.5,1295.0 L1302.3,1295.2 L1303.1,1295.3 L1303.9,1295.3 L1304.7,1295.3 L1305.5,1295.3 L1306.3,1295.3 L1307.1,1295.2 L1307.9,1295.2 L1308.7,1295.1 L1309.5,1295.0 L1310.3,1294.9 L1311.1,1294.8 L1311.9,1294.6 L1312.7,1294.5 L1313.5,1294.3 L1314.3,1294.2 L1315.1,1294.0 L1315.9,1293.8 L1316.7,1293.6 L1317.5,1293.5 L1318.3,1293.3 L1319.1,1293.0 L1319.9,1292.8 L1320.7,1292.6 L1321.5,1292.4 L1322.3,1292.2 L1323.1,1292.0 L1323.9,1291.8 L1324.7,1291.5 L1325.5,1291.3 L1326.3,1291.1 L1327.1,1290.9 L1327.9,1290.7 L1328.7,1290.5 L1329.5,1290.2 L1330.3,1290.0 L1331.1,1289.8 L1331.9,1289.6 L1332.7,1289.4 L1333.5,1289.3 L1334.3,1289.1 L1335.1,1288.9 L1335.9,1288.7 L1336.7,1288.5 L1337.5,1288.4 L1338.3,1288.2 L1339.1,1288.0 L1339.9,1287.8 L1340.7,1287.7 L1341.5,1287.5 L1342.3,1287.4 L1343.1,1287.2 L1343.9,1287.1 L1344.7,1286.9 L1345.5,1286.8 L1346.3,1286.6 L1347.1,1286.5 L1347.9,1286.4 L1348.7,1286.3 L1349.5,1286.3 L1350.3,1286.3 L1351.1,1286.3 L1351.9,1286.3 L1352.7,1286.4 L1353.5,1286.5 L1354.3,1286.6 L1355.1,1286.8 L1355.9,1286.9 L1356.7,1287.0 L1357.5,1287.1 L1358.3,1287.2 L1359.1,1287.3 L1359.9,1287.4 L1360.7,1287.5 L1361.5,1287.6 L1362.3,1287.7 L1363.1,1287.9 L1363.9,1288.0 L1364.7,1288.1 L1365.5,1288.2 L1366.3,1288.3 L1367.1,1288.4 L1367.9,1288.5 L1368.7,1288.6 L1369.5,1288.7 L1370.3,1288.8 L1371.1,1289.0 L1371.9,1289.1 L1372.7,1289.2 L1373.5,1289.3 L1374.3,1289.4 L1375.1,1289.5 L1375.9,1289.6 L1376.7,1289.7 L1377.5,1289.8 L1378.3,1289.9 L1379.1,1290.1 L1379.9,1290.2 L1380.7,1290.3 L1381.5,1290.4 L1382.3,1290.5 L1383.1,1290.6 L1383.9,1290.7 L1384.7,1290.8 L1385.5,1290.9 L1386.3,1291.0 L1387.1,1291.1 L1387.9,1291.2 L1388.7,1291.3 L1389.5,1291.3 L1390.3,1291.3 L1391.1,1291.3 L1391.9,1291.3 L1392.7,1291.2 L1393.5,1291.2 L1394.3,1291.1 L1395.1,1291.0 L1395.9,1290.9 L1396.7,1290.8 L1397.5,1290.7 L1398.3,1290.6 L1399.1,1290.4 L1399.9,1290.3 L1400.7,1290.2 L1401.5,1290.1 L1402.3,1289.9 L1403.1,1289.8 L1403.9,1289.7 L1404.7,1289.5 L1405.5,1289.4 L1406.3,1289.3 L1407.1,1289.2 L1407.9,1289.1 L1408.7,1289.1 L1409.5,1289.0 L1410.3,1288.9 L1411.1,1288.8 L1411.9,1288.7 L1412.7,1288.6 L1413.5,1288.4 L1414.3,1288.3 L1415.1,1288.2 L1415.9,1288.1 L1416.7,1288.0 L1417.5,1287.9 L1418.3,1287.7 L1419.1,1287.6 L1419.9,1287.5 L1420.7,1287.4 L1421.5,1287.3 L1422.3,1287.2 L1423.1,1287.2 L1423.9,1287.1 L1424.7,1287.0 L1425.5,1287.0 L1426.3,1286.9 L1427.1,1286.9 L1427.9,1286.8 L1428.7,1286.8 L1429.5,1286.8 L1430.3,1286.8 L1431.1,1286.8 L1431.9,1286.9 L1432.7,1286.9 L1433.5,1286.9 L1434.3,1287.0 L1435.1,1287.0 L1435.9,1287.1 L1436.7,1287.1 L1437.5,1287.2 L1438.3,1287.3 L1439.1,1287.3 L1439.9,1287.4 L1440.7,1287.5 L1441.5,1287.6 L1442.3,1287.6 L1443.1,1287.7 L1443.9,1287.8 L1444.7,1287.9 L1445.5,1287.9 L1446.3,1288.0 L1447.1,1288.1 L1447.9,1288.1 L1448.7,1288.2 L1449.5,1288.3 L1450.3,1288.3 L1451.1,1288.4 L1451.9,1288.4 L1452.7,1288.5 L1453.5,1288.5 L1454.3,1288.6 L1455.1,1288.7 L1455.9,1288.7 L1456.7,1288.8 L1457.5,1288.8 L1458.3,1288.9 L1459.1,1289.0 L1459.9,1289.0 L1460.7,1289.1 L1461.5,1289.1 L1462.3,1289.2 L1463.1,1289.2 L1463.9,1289.3 L1464.7,1289.3 L1465.5,1289.3 L1466.3,1289.4 L1467.1,1289.4 L1467.9,1289.4 L1468.7,1289.4 L1469.5,1289.4 L1470.3,1289.4 L1471.1,1289.3 L1471.9,1289.3 L1472.7,1289.3 L1473.5,1289.2 L1474.3,1289.2 L1475.1,1289.1 L1475.9,1289.0 L1476.7,1289.0 L1477.5,1288.9 L1478.3,1288.8 L1479.1,1288.8 L1479.9,1288.7 L1480.7,1288.6 L1481.5,1288.5 L1482.3,1288.4 L1483.1,1288.4 L1483.9,1288.3 L1484.7,1288.2 L1485.5,1288.1 L1486.3,1288.0 L1487.1,1288.0 L1487.9,1287.9 L1488.7,1287.8 L1489.5,1287.8 L1490.3,1287.7 L1491.1,1287.6 L1491.9,1287.6 L1492.7,1287.5 L1493.5,1287.5 L1494.3,1287.4 L1495.1,1287.3 L1495.9,1287.3 L1496.7,1287.2 L1497.5,1287.1 L1498.3,1287.1 L1499.1,1287.0 L1499.9,1286.9 L1500.7,1286.9 L1501.5,1286.8 L1502.3,1286.8 L1503.1,1286.7 L1503.9,1286.6 L1504.7,1286.6 L1505.5,1286.6 L1506.3,1286.5 L1507.1,1286.5 L1507.9,1286.4 L1508.7,1286.4 L1509.5,1286.4 L1510.3,1286.4 L1511.1,1286.4 L1511.9,1286.4 L1512.7,1286.4 L1513.5,1286.4 L1514.3,1286.4 L1515.1,1286.4 L1515.9,1286.5 L1516.7,1286.5 L1517.5,1286.5 L1518.3,1286.5 L1519.1,1286.6 L1519.9,1286.6 L1520.7,1286.7 L1521.5,1286.7 L1522.3,1286.7 L1523.1,1286.8 L1523.9,1286.8 L1524.7,1286.9 L1525.5,1286.9 L1526.3,1287.0 L1527.1,1287.0 L1527.9,1287.0 L1528.7,1287.1 L1529.5,1287.1 L1530.3,1287.2 L1531.1,1287.2 L1531.9,1287.2 L1532.7,1287.2 L1533.5,1287.3 L1534.3,1287.3 L1535.1,1287.3 L1535.9,1287.3 L1536.7,1287.3 L1537.5,1287.3 L1538.3,1287.4 L1539.1,1287.4 L1539.9,1287.4 L1540.7,1287.4 L1541.5,1287.4 L1542.3,1287.5 L1543.1,1287.5 L1543.9,1287.5 L1544.7,1287.5 L1545.5,1287.5 L1546.3,1287.5 L1547.1,1287.6 L1547.9,1287.6 L1548.7,1287.6 L1549.5,1287.6 L1550.3,1287.6 L1551.1,1287.6 L1551.9,1287.7 L1552.7,1287.7 L1553.3,1287.7" stroke="#d93434" stroke-width="1.75" stroke-dasharray="5.2 2.3"/>
<path d="M899.9,1409.1 L900.7,1409.2 L901.5,1409.4 L902.3,1409.5 L903.1,1409.7 L903.9,1409.9 L904.7,1410.0 L905.5,1410.2 L906.3,1410.3 L907.1,1410.5 L907.9,1410.7 L908.7,1410.8 L909.5,1410.7 L910.3,1410.3 L911.1,1409.8 L911.9,1409.1 L912.7,1406.7 L913.5,1403.1 L914.3,1397.1 L915.1,1388.9 L915.9,1378.3 L916.7,1364.6 L917.5,1346.8 L918.3,1326.0 L919.1,1306.9 L919.9,1290.4 L920.7,1275.3 L921.5,1261.9 L922.3,1251.5 L923.1,1244.5 L923.9,1241.6 L924.7,1243.7 L925.5,1247.0 L926.3,1251.1 L927.1,1257.3 L927.9,1263.7 L928.7,1270.1 L929.5,1276.5 L930.3,1283.0 L931.1,1289.5 L931.9,1296.0 L932.7,1302.5 L933.5,1309.0 L934.3,1315.3 L935.1,1320.9 L935.9,1325.9 L936.7,1330.3 L937.5,1334.3 L938.3,1337.9 L939.1,1341.2 L939.9,1344.3 L940.7,1347.3 L941.5,1350.3 L942.3,1353.1 L943.1,1355.8 L943.9,1358.4 L944.7,1360.9 L945.5,1363.3 L946.3,1365.5 L947.1,1367.5 L947.9,1369.4 L948.7,1371.1 L949.5,1372.7 L950.3,1374.2 L951.1,1375.7 L951.9,1377.1 L952.7,1378.4 L953.5,1379.7 L954.3,1380.9 L955.1,1382.0 L955.9,1383.0 L956.7,1383.9 L957.5,1384.6 L958.3,1385.4 L959.1,1386.1 L959.9,1386.7 L960.7,1387.4 L961.5,1387.9 L962.3,1388.4 L963.1,1388.8 L963.9,1389.1 L964.7,1389.3 L965.5,1389.3 L966.3,1389.3 L967.1,1389.2 L967.9,1389.1 L968.7,1389.0 L969.5,1388.8 L970.3,1388.6 L971.1,1388.4 L971.9,1388.2 L972.7,1388.0 L973.5,1387.7 L974.3,1387.4 L975.1,1387.1 L975.9,1386.8 L976.7,1386.4 L977.5,1386.0 L978.3,1385.6 L979.1,1385.2 L979.9,1384.8 L980.7,1384.4 L981.5,1383.9 L982.3,1383.5 L983.1,1383.0 L983.9,1382.5 L984.7,1382.0 L985.5,1381.5 L986.3,1380.8 L987.1,1380.1 L987.9,1379.4 L988.7,1378.6 L989.5,1377.8 L990.3,1376.9 L991.1,1376.0 L991.9,1375.1 L992.7,1374.2 L993.5,1373.3 L994.3,1372.2 L995.1,1370.9 L995.9,1369.4 L996.7,1367.7 L997.5,1365.9 L998.3,1364.1 L999.1,1362.2 L999.9,1360.3 L1000.7,1358.2 L1001.5,1355.8 L1002.3,1353.1 L1003.1,1349.9 L1003.9,1346.4 L1004.7,1342.4 L1005.5,1337.9 L1006.3,1333.0 L1007.1,1327.5 L1007.9,1321.4 L1008.7,1314.8 L1009.5,1307.1 L1010.3,1298.5 L1011.1,1289.0 L1011.9,1278.7 L1012.7,1267.8 L1013.5,1256.2 L1014.3,1244.1 L1015.1,1231.6 L1015.9,1218.9 L1016.7,1206.1 L1017.5,1193.0 L1018.3,1179.7 L1019.1,1166.1 L1019.9,1152.1 L1020.7,1137.7 L1021.5,1122.9 L1022.3,1108.1 L1023.1,1093.4 L1023.9,1079.3 L1024.7,1065.9 L1025.5,1053.4 L1026.3,1041.5 L1027.1,1029.8 L1027.9,1018.9 L1028.7,1009.8 L1029.5,1005.0 L1030.3,1005.3 L1031.1,1010.1 L1031.9,1016.9 L1032.7,1025.4 L1033.5,1036.6 L1034.3,1051.8 L1035.1,1069.6 L1035.9,1088.4 L1036.7,1107.4 L1037.5,1126.2 L1038.3,1144.2 L1039.1,1161.4 L1039.9,1178.5 L1040.7,1195.5 L1041.5,1212.4 L1042.3,1229.2 L1043.1,1245.0 L1043.9,1260.0 L1044.7,1274.7 L1045.5,1289.8 L1046.3,1306.9 L1047.1,1330.7 L1047.9,1343.0 L1048.7,1352.1 L1049.5,1358.4 L1050.3,1363.1 L1051.1,1367.6 L1051.9,1371.7 L1052.7,1375.2 L1053.5,1377.7 L1054.3,1379.7 L1055.1,1381.3 L1055.9,1382.3 L1056.7,1382.9 L1057.5,1383.2 L1058.3,1383.1 L1059.1,1382.8 L1059.9,1382.4 L1060.7,1381.9 L1061.5,1381.3 L1062.3,1380.6 L1063.1,1379.8 L1063.9,1378.9 L1064.7,1377.8 L1065.5,1376.6 L1066.3,1375.2 L1067.1,1373.6 L1067.9,1371.9 L1068.7,1370.1 L1069.5,1368.2 L1070.3,1366.2 L1071.1,1364.1 L1071.9,1362.0 L1072.7,1359.9 L1073.5,1357.8 L1074.3,1355.6 L1075.1,1353.3 L1075.9,1350.8 L1076.7,1348.1 L1077.5,1345.3 L1078.3,1342.1 L1079.1,1338.7 L1079.9,1335.1 L1080.7,1331.4 L1081.5,1327.7 L1082.3,1324.0 L1083.1,1320.2 L1083.9,1316.5 L1084.7,1312.7 L1085.5,1309.0 L1086.3,1305.2 L1087.1,1301.5 L1087.9,1297.8 L1088.7,1294.1 L1089.5,1290.4 L1090.3,1286.7 L1091.1,1283.0 L1091.9,1279.3 L1092.7,1275.7 L1093.5,1272.1 L1094.3,1268.4 L1095.1,1264.9 L1095.9,1261.4 L1096.7,1257.9 L1097.5,1254.5 L1098.3,1251.5 L1099.1,1249.4 L1099.9,1247.9 L1100.7,1246.8 L1101.5,1246.1 L1102.3,1245.3 L1103.1,1244.5 L1103.9,1243.8 L1104.7,1243.2 L1105.5,1242.8 L1106.3,1242.7 L1107.1,1242.9 L1107.9,1243.5 L1108.7,1244.4 L1109.5,1245.6 L1110.3,1247.1 L1111.1,1248.8 L1111.9,1250.8 L1112.7,1252.9 L1113.5,1255.3 L1114.3,1257.9 L1115.1,1260.7 L1115.9,1263.7 L1116.7,1266.9 L1117.5,1270.3 L1118.3,1273.6 L1119.1,1277.0 L1119.9,1280.4 L1120.7,1283.7 L1121.5,1287.0 L1122.3,1290.0 L1123.1,1292.9 L1123.9,1295.7 L1124.7,1298.4 L1125.5,1301.0 L1126.3,1303.5 L1127.1,1306.0 L1127.9,1308.4 L1128.7,1310.7 L1129.5,1313.0 L1130.3,1315.1 L1131.1,1317.1 L1131.9,1319.0 L1132.7,1320.7 L1133.5,1322.3 L1134.3,1323.7 L1135.1,1324.9 L1135.9,1326.0 L1136.7,1326.9 L1137.5,1327.7 L1138.3,1328.2 L1139.1,1328.6 L1139.9,1328.7 L1140.7,1328.7 L1141.5,1328.5 L1142.3,1328.3 L1143.1,1327.9 L1143.9,1327.5 L1144.7,1327.0 L1145.5,1326.5 L1146.3,1325.9 L1147.1,1325.4 L1147.9,1324.7 L1148.7,1324.0 L1149.5,1323.2 L1150.3,1322.2 L1151.1,1321.1 L1151.9,1319.8 L1152.7,1318.3 L1153.5,1316.6 L1154.3,1314.8 L1155.1,1313.0 L1155.9,1311.1 L1156.7,1309.2 L1157.5,1307.2 L1158.3,1305.2 L1159.1,1303.2 L1159.9,1301.1 L1160.7,1299.0 L1161.5,1296.9 L1162.3,1294.8 L1163.1,1292.7 L1163.9,1290.5 L1164.7,1288.4 L1165.5,1286.3 L1166.3,1284.1 L1167.1,1281.9 L1167.9,1279.6 L1168.7,1277.3 L1169.5,1275.0 L1170.3,1272.7 L1171.1,1270.3 L1171.9,1268.0 L1172.7,1265.7 L1173.5,1263.4 L1174.3,1261.2 L1175.1,1259.1 L1175.9,1257.1 L1176.7,1255.2 L1177.5,1253.6 L1178.3,1252.3 L1179.1,1251.1 L1179.9,1250.1 L1180.7,1249.3 L1181.5,1248.5 L1182.3,1247.8 L1183.1,1247.1 L1183.9,1246.5 L1184.7,1246.1 L1185.5,1245.9 L1186.3,1245.9 L1187.1,1246.2 L1187.9,1246.7 L1188.7,1247.4 L1189.5,1248.2 L1190.3,1249.1 L1191.1,1250.1 L1191.9,1251.1 L1192.7,1252.3 L1193.5,1253.7 L1194.3,1255.3 L1195.1,1257.1 L1195.9,1259.2 L1196.7,1261.3 L1197.5,1263.5 L1198.3,1265.7 L1199.1,1268.0 L1199.9,1270.3 L1200.7,1272.6 L1201.5,1274.8 L1202.3,1277.0 L1203.1,1279.2 L1203.9,1281.3 L1204.7,1283.3 L1205.5,1285.4 L1206.3,1287.4 L1207.1,1289.4 L1207.9,1291.5 L1208.7,1293.5 L1209.5,1295.5 L1210.3,1297.4 L1211.1,1299.4 L1211.9,1301.4 L1212.7,1303.4 L1213.5,1305.3 L1214.3,1307.3 L1215.1,1309.2 L1215.9,1311.0 L1216.7,1312.8 L1217.5,1314.4 L1218.3,1315.9 L1219.1,1317.2 L1219.9,1318.3 L1220.7,1319.0 L1221.5,1319.4 L1222.3,1319.5 L1223.1,1319.4 L1223.9,1319.1 L1224.7,1318.8 L1225.5,1318.4 L1226.3,1318.0 L1227.1,1317.6 L1227.9,1317.0 L1228.7,1316.4 L1229.5,1315.7 L1230.3,1315.0 L1231.1,1314.2 L1231.9,1313.4 L1232.7,1312.6 L1233.5,1311.7 L1234.3,1310.8 L1235.1,1309.9 L1235.9,1308.9 L1236.7,1307.8 L1237.5,1306.8 L1238.3,1305.6 L1239.1,1304.3 L1239.9,1302.9 L1240.7,1301.5 L1241.5,1300.0 L1242.3,1298.4 L1243.1,1296.9 L1243.9,1295.4 L1244.7,1294.0 L1245.5,1292.7 L1246.3,1291.5 L1247.1,1290.3 L1247.9,1289.2 L1248.7,1288.2 L1249.5,1287.1 L1250.3,1286.1 L1251.1,1285.2 L1251.9,1284.3 L1252.7,1283.4 L1253.5,1282.6 L1254.3,1281.9 L1255.1,1281.2 L1255.9,1280.5 L1256.7,1279.9 L1257.5,1279.4 L1258.3,1279.0 L1259.1,1278.5 L1259.9,1278.2 L1260.7,1277.8 L1261.5,1277.5 L1262.3,1277.3 L1263.1,1277.1 L1263.9,1276.9 L1264.7,1276.8 L1265.5,1276.7 L1266.3,1276.6 L1267.1,1276.6 L1267.9,1276.6 L1268.7,1276.7 L1269.5,1276.9 L1270.3,1277.1 L1271.1,1277.5 L1271.9,1277.9 L1272.7,1278.5 L1273.5,1279.1 L1274.3,1279.7 L1275.1,1280.4 L1275.9,1281.2 L1276.7,1281.9 L1277.5,1282.7 L1278.3,1283.6 L1279.1,1284.4 L1279.9,1285.4 L1280.7,1286.3 L1281.5,1287.2 L1282.3,1288.2 L1283.1,1289.2 L1283.9,1290.2 L1284.7,1291.1 L1285.5,1292.1 L1286.3,1293.0 L1287.1,1293.9 L1287.9,1294.8 L1288.7,1295.7 L1289.5,1296.5 L1290.3,1297.2 L1291.1,1297.9 L1291.9,1298.6 L1292.7,1299.2 L1293.5,1299.8 L1294.3,1300.3 L1295.1,1300.9 L1295.9,1301.3 L1296.7,1301.8 L1297.5,1302.2 L1298.3,1302.6 L1299.1,1303.0 L1299.9,1303.2 L1300.7,1303.4 L1301.5,1303.6 L1302.3,1303.7 L1303.1,1303.8 L1303.9,1303.8 L1304.7,1303.8 L1305.5,1303.7 L1306.3,1303.7 L1307.1,1303.5 L1307.9,1303.3 L1308.7,1303.0 L1309.5,1302.7 L1310.3,1302.2 L1311.1,1301.7 L1311.9,1301.1 L1312.7,1300.4 L1313.5,1299.8 L1314.3,1299.1 L1315.1,1298.4 L1315.9,1297.7 L1316.7,1296.9 L1317.5,1296.2 L1318.3,1295.5 L1319.1,1294.9 L1319.9,1294.2 L1320.7,1293.6 L1321.5,1293.0 L1322.3,1292.4 L1323.1,1291.8 L1323.9,1291.2 L1324.7,1290.6 L1325.5,1290.0 L1326.3,1289.4 L1327.1,1288.8 L1327.9,1288.2 L1328.7,1287.6 L1329.5,1287.0 L1330.3,1286.5 L1331.1,1285.9 L1331.9,1285.4 L1332.7,1284.8 L1333.5,1284.3 L1334.3,1283.8 L1335.1,1283.3 L1335.9,1282.8 L1336.7,1282.3 L1337.5,1281.9 L1338.3,1281.5 L1339.1,1281.2 L1339.9,1280.9 L1340.7,1280.6 L1341.5,1280.3 L1342.3,1280.0 L1343.1,1279.8 L1343.9,1279.5 L1344.7,1279.4 L1345.5,1279.3 L1346.3,1279.2 L1347.1,1279.2 L1347.9,1279.2 L1348.7,1279.3 L1349.5,1279.4 L1350.3,1279.6 L1351.1,1279.8 L1351.9,1280.1 L1352.7,1280.5 L1353.5,1281.0 L1354.3,1281.4 L1355.1,1281.9 L1355.9,1282.3 L1356.7,1282.8 L1357.5,1283.3 L1358.3,1283.8 L1359.1,1284.3 L1359.9,1284.8 L1360.7,1285.3 L1361.5,1285.9 L1362.3,1286.4 L1363.1,1287.0 L1363.9,1287.6 L1364.7,1288.2 L1365.5,1288.8 L1366.3,1289.4 L1367.1,1290.0 L1367.9,1290.6 L1368.7,1291.2 L1369.5,1291.8 L1370.3,1292.3 L1371.1,1292.9 L1371.9,1293.5 L1372.7,1294.0 L1373.5,1294.5 L1374.3,1295.0 L1375.1,1295.4 L1375.9,1295.9 L1376.7,1296.2 L1377.5,1296.6 L1378.3,1296.9 L1379.1,1297.1 L1379.9,1297.4 L1380.7,1297.6 L1381.5,1297.9 L1382.3,1298.1 L1383.1,1298.3 L1383.9,1298.5 L1384.7,1298.6 L1385.5,1298.7 L1386.3,1298.8 L1387.1,1298.9 L1387.9,1298.9 L1388.7,1298.9 L1389.5,1298.9 L1390.3,1298.9 L1391.1,1298.8 L1391.9,1298.7 L1392.7,1298.5 L1393.5,1298.4 L1394.3,1298.1 L1395.1,1297.9 L1395.9,1297.5 L1396.7,1297.2 L1397.5,1296.8 L1398.3,1296.4 L1399.1,1296.0 L1399.9,1295.5 L1400.7,1295.1 L1401.5,1294.7 L1402.3,1294.3 L1403.1,1293.8 L1403.9,1293.4 L1404.7,1293.0 L1405.5,1292.6 L1406.3,1292.2 L1407.1,1291.9 L1407.9,1291.5 L1408.7,1291.1 L1409.5,1290.7 L1410.3,1290.4 L1411.1,1290.0 L1411.9,1289.6 L1412.7,1289.3 L1413.5,1288.9 L1414.3,1288.6 L1415.1,1288.2 L1415.9,1287.9 L1416.7,1287.5 L1417.5,1287.2 L1418.3,1286.9 L1419.1,1286.5 L1419.9,1286.2 L1420.7,1286.0 L1421.5,1285.7 L1422.3,1285.5 L1423.1,1285.3 L1423.9,1285.2 L1424.7,1285.0 L1425.5,1284.9 L1426.3,1284.8 L1427.1,1284.7 L1427.9,1284.7 L1428.7,1284.7 L1429.5,1284.7 L1430.3,1284.7 L1431.1,1284.8 L1431.9,1284.9 L1432.7,1285.0 L1433.5,1285.1 L1434.3,1285.3 L1435.1,1285.5 L1435.9,1285.7 L1436.7,1285.9 L1437.5,1286.2 L1438.3,1286.5 L1439.1,1286.8 L1439.9,1287.1 L1440.7,1287.4 L1441.5,1287.7 L1442.3,1288.0 L1443.1,1288.3 L1443.9,1288.6 L1444.7,1288.9 L1445.5,1289.2 L1446.3,1289.5 L1447.1,1289.8 L1447.9,1290.0 L1448.7,1290.3 L1449.5,1290.6 L1450.3,1290.9 L1451.1,1291.2 L1451.9,1291.4 L1452.7,1291.7 L1453.5,1292.0 L1454.3,1292.2 L1455.1,1292.5 L1455.9,1292.7 L1456.7,1293.0 L1457.5,1293.2 L1458.3,1293.5 L1459.1,1293.7 L1459.9,1293.9 L1460.7,1294.1 L1461.5,1294.2 L1462.3,1294.4 L1463.1,1294.5 L1463.9,1294.5 L1464.7,1294.6 L1465.5,1294.6 L1466.3,1294.7 L1467.1,1294.7 L1467.9,1294.7 L1468.7,1294.7 L1469.5,1294.7 L1470.3,1294.7 L1471.1,1294.6 L1471.9,1294.6 L1472.7,1294.6 L1473.5,1294.5 L1474.3,1294.4 L1475.1,1294.3 L1475.9,1294.1 L1476.7,1293.9 L1477.5,1293.7 L1478.3,1293.5 L1479.1,1293.2 L1479.9,1292.9 L1480.7,1292.6 L1481.5,1292.3 L1482.3,1292.0 L1483.1,1291.7 L1483.9,1291.3 L1484.7,1291.0 L1485.5,1290.7 L1486.3,1290.5 L1487.1,1290.2 L1487.9,1289.9 L1488.7,1289.7 L1489.5,1289.4 L1490.3,1289.2 L1491.1,1288.9 L1491.9,1288.7 L1492.7,1288.4 L1493.5,1288.2 L1494.3,1288.0 L1495.1,1287.7 L1495.9,1287.5 L1496.7,1287.3 L1497.5,1287.1 L1498.3,1286.9 L1499.1,1286.7 L1499.9,1286.5 L1500.7,1286.3 L1501.5,1286.1 L1502.3,1286.0 L1503.1,1285.8 L1503.9,1285.7 L1504.7,1285.6 L1505.5,1285.6 L1506.3,1285.5 L1507.1,1285.5 L1507.9,1285.5 L1508.7,1285.5 L1509.5,1285.5 L1510.3,1285.6 L1511.1,1285.6 L1511.9,1285.7 L1512.7,1285.8 L1513.5,1285.8 L1514.3,1285.9 L1515.1,1286.0 L1515.9,1286.1 L1516.7,1286.1 L1517.5,1286.2 L1518.3,1286.3 L1519.1,1286.4 L1519.9,1286.6 L1520.7,1286.7 L1521.5,1286.8 L1522.3,1286.9 L1523.1,1287.0 L1523.9,1287.2 L1524.7,1287.3 L1525.5,1287.4 L1526.3,1287.6 L1527.1,1287.7 L1527.9,1287.9 L1528.7,1288.1 L1529.5,1288.2 L1530.3,1288.4 L1531.1,1288.6 L1531.9,1288.8 L1532.7,1289.0 L1533.5,1289.2 L1534.3,1289.4 L1535.1,1289.6 L1535.9,1289.8 L1536.7,1290.0 L1537.5,1290.2 L1538.3,1290.4 L1539.1,1290.5 L1539.9,1290.7 L1540.7,1290.9 L1541.5,1291.1 L1542.3,1291.2 L1543.1,1291.4 L1543.9,1291.5 L1544.7,1291.7 L1545.5,1291.8 L1546.3,1291.9 L1547.1,1292.0 L1547.9,1292.1 L1548.7,1292.2 L1549.5,1292.3 L1550.3,1292.3 L1551.1,1292.4 L1551.9,1292.5 L1552.7,1292.5 L1553.3,1292.6" stroke="#4353ad" stroke-width="1.75"/>
<path d="M899.9,1409.1 L900.7,1409.2 L901.5,1409.4 L902.3,1409.5 L903.1,1409.7 L903.9,1409.9 L904.7,1410.0 L905.5,1410.2 L906.3,1410.3 L907.1,1410.5 L907.9,1410.7 L908.7,1410.8 L909.5,1410.7 L910.3,1410.3 L911.1,1409.8 L911.9,1409.1 L912.7,1406.7 L913.5,1403.1 L914.3,1397.1 L915.1,1389.0 L915.9,1378.4 L916.7,1364.6 L917.5,1346.7 L918.3,1325.8 L919.1,1306.5 L919.9,1289.6 L920.7,1273.8 L921.5,1259.8 L922.3,1248.8 L923.1,1241.3 L923.9,1237.8 L924.7,1240.3 L925.5,1244.2 L926.3,1248.9 L927.1,1255.4 L927.9,1262.2 L928.7,1269.1 L929.5,1275.9 L930.3,1282.5 L931.1,1289.2 L931.9,1295.8 L932.7,1302.3 L933.5,1308.8 L934.3,1315.0 L935.1,1320.7 L935.9,1325.7 L936.7,1330.2 L937.5,1334.2 L938.3,1337.8 L939.1,1341.2 L939.9,1344.3 L940.7,1347.3 L941.5,1350.3 L942.3,1353.1 L943.1,1355.8 L943.9,1358.4 L944.7,1360.9 L945.5,1363.2 L946.3,1365.4 L947.1,1367.5 L947.9,1369.4 L948.7,1371.1 L949.5,1372.7 L950.3,1374.2 L951.1,1375.7 L951.9,1377.2 L952.7,1378.5 L953.5,1379.8 L954.3,1381.0 L955.1,1382.1 L955.9,1383.2 L956.7,1384.1 L957.5,1384.8 L958.3,1385.6 L959.1,1386.3 L959.9,1387.0 L960.7,1387.6 L961.5,1388.2 L962.3,1388.6 L963.1,1389.0 L963.9,1389.3 L964.7,1389.5 L965.5,1389.5 L966.3,1389.5 L967.1,1389.4 L967.9,1389.2 L968.7,1389.1 L969.5,1388.9 L970.3,1388.8 L971.1,1388.6 L971.9,1388.3 L972.7,1388.1 L973.5,1387.8 L974.3,1387.6 L975.1,1387.3 L975.9,1387.0 L976.7,1386.6 L977.5,1386.3 L978.3,1385.9 L979.1,1385.6 L979.9,1385.2 L980.7,1384.8 L981.5,1384.4 L982.3,1384.0 L983.1,1383.5 L983.9,1383.1 L984.7,1382.6 L985.5,1382.2 L986.3,1381.7 L987.1,1381.1 L987.9,1380.4 L988.7,1379.6 L989.5,1378.8 L990.3,1377.9 L991.1,1377.0 L991.9,1376.1 L992.7,1375.1 L993.5,1374.1 L994.3,1373.1 L995.1,1372.1 L995.9,1370.8 L996.7,1369.3 L997.5,1367.6 L998.3,1365.8 L999.1,1363.8 L999.9,1361.9 L1000.7,1359.9 L1001.5,1357.8 L1002.3,1355.4 L1003.1,1352.6 L1003.9,1349.5 L1004.7,1345.9 L1005.5,1341.9 L1006.3,1337.4 L1007.1,1332.4 L1007.9,1326.8 L1008.7,1320.7 L1009.5,1313.8 L1010.3,1306.0 L1011.1,1297.2 L1011.9,1287.6 L1012.7,1277.2 L1013.5,1266.1 L1014.3,1254.5 L1015.1,1242.5 L1015.9,1230.2 L1016.7,1217.8 L1017.5,1205.2 L1018.3,1192.3 L1019.1,1178.8 L1019.9,1164.6 L1020.7,1149.8 L1021.5,1134.7 L1022.3,1119.6 L1023.1,1104.4 L1023.9,1089.3 L1024.7,1074.3 L1025.5,1059.5 L1026.3,1044.8 L1027.1,1030.1 L1027.9,1015.5 L1028.7,1001.7 L1029.5,989.5 L1030.3,984.2 L1031.1,985.7 L1031.9,993.9 L1032.7,1004.7 L1033.5,1017.4 L1034.3,1032.8 L1035.1,1051.1 L1035.9,1070.8 L1036.7,1090.9 L1037.5,1111.0 L1038.3,1130.3 L1039.1,1148.3 L1039.9,1166.0 L1040.7,1183.5 L1041.5,1200.9 L1042.3,1218.3 L1043.1,1235.2 L1043.9,1251.4 L1044.7,1267.2 L1045.5,1283.1 L1046.3,1299.5 L1047.1,1327.0 L1047.9,1341.4 L1048.7,1352.2 L1049.5,1359.7 L1050.3,1365.0 L1051.1,1370.1 L1051.9,1374.8 L1052.7,1378.8 L1053.5,1381.5 L1054.3,1383.7 L1055.1,1385.5 L1055.9,1386.5 L1056.7,1387.1 L1057.5,1387.4 L1058.3,1387.3 L1059.1,1387.0 L1059.9,1386.6 L1060.7,1386.1 L1061.5,1385.4 L1062.3,1384.7 L1063.1,1383.8 L1063.9,1382.8 L1064.7,1381.6 L1065.5,1380.2 L1066.3,1378.7 L1067.1,1377.1 L1067.9,1375.4 L1068.7,1373.5 L1069.5,1371.5 L1070.3,1369.4 L1071.1,1367.3 L1071.9,1365.1 L1072.7,1362.8 L1073.5,1360.5 L1074.3,1358.1 L1075.1,1355.6 L1075.9,1352.9 L1076.7,1350.2 L1077.5,1347.2 L1078.3,1344.2 L1079.1,1340.9 L1079.9,1337.4 L1080.7,1333.9 L1081.5,1330.2 L1082.3,1326.5 L1083.1,1322.7 L1083.9,1318.8 L1084.7,1314.9 L1085.5,1311.0 L1086.3,1307.0 L1087.1,1303.1 L1087.9,1299.1 L1088.7,1295.0 L1089.5,1290.8 L1090.3,1286.4 L1091.1,1281.9 L1091.9,1277.4 L1092.7,1272.9 L1093.5,1268.4 L1094.3,1264.0 L1095.1,1259.8 L1095.9,1255.7 L1096.7,1251.8 L1097.5,1248.1 L1098.3,1245.0 L1099.1,1242.5 L1099.9,1240.7 L1100.7,1239.2 L1101.5,1238.1 L1102.3,1237.0 L1103.1,1236.0 L1103.9,1235.0 L1104.7,1234.2 L1105.5,1233.7 L1106.3,1233.5 L1107.1,1233.7 L1107.9,1234.3 L1108.7,1235.3 L1109.5,1236.7 L1110.3,1238.5 L1111.1,1240.5 L1111.9,1242.8 L1112.7,1245.4 L1113.5,1248.3 L1114.3,1251.4 L1115.1,1254.7 L1115.9,1258.2 L1116.7,1262.0 L1117.5,1265.8 L1118.3,1269.7 L1119.1,1273.6 L1119.9,1277.5 L1120.7,1281.3 L1121.5,1285.0 L1122.3,1288.5 L1123.1,1291.9 L1123.9,1295.1 L1124.7,1298.2 L1125.5,1301.3 L1126.3,1304.3 L1127.1,1307.2 L1127.9,1310.0 L1128.7,1312.7 L1129.5,1315.3 L1130.3,1317.7 L1131.1,1320.1 L1131.9,1322.4 L1132.7,1324.4 L1133.5,1326.2 L1134.3,1327.9 L1135.1,1329.4 L1135.9,1330.7 L1136.7,1331.8 L1137.5,1332.7 L1138.3,1333.4 L1139.1,1333.9 L1139.9,1334.1 L1140.7,1333.9 L1141.5,1333.7 L1142.3,1333.4 L1143.1,1332.9 L1143.9,1332.4 L1144.7,1331.8 L1145.5,1331.2 L1146.3,1330.5 L1147.1,1329.7 L1147.9,1329.0 L1148.7,1328.1 L1149.5,1327.2 L1150.3,1326.1 L1151.1,1324.9 L1151.9,1323.6 L1152.7,1322.1 L1153.5,1320.4 L1154.3,1318.7 L1155.1,1316.8 L1155.9,1314.9 L1156.7,1312.9 L1157.5,1310.8 L1158.3,1308.6 L1159.1,1306.4 L1159.9,1304.2 L1160.7,1301.8 L1161.5,1299.5 L1162.3,1297.1 L1163.1,1294.7 L1163.9,1292.3 L1164.7,1289.8 L1165.5,1287.4 L1166.3,1284.9 L1167.1,1282.2 L1167.9,1279.5 L1168.7,1276.7 L1169.5,1273.8 L1170.3,1270.9 L1171.1,1268.0 L1171.9,1265.2 L1172.7,1262.3 L1173.5,1259.6 L1174.3,1256.9 L1175.1,1254.3 L1175.9,1251.9 L1176.7,1249.6 L1177.5,1247.6 L1178.3,1245.8 L1179.1,1244.1 L1179.9,1242.7 L1180.7,1241.3 L1181.5,1240.1 L1182.3,1238.9 L1183.1,1237.9 L1183.9,1237.1 L1184.7,1236.6 L1185.5,1236.3 L1186.3,1236.4 L1187.1,1236.7 L1187.9,1237.2 L1188.7,1238.1 L1189.5,1239.1 L1190.3,1240.3 L1191.1,1241.6 L1191.9,1243.1 L1192.7,1244.7 L1193.5,1246.4 L1194.3,1248.4 L1195.1,1250.7 L1195.9,1253.2 L1196.7,1255.7 L1197.5,1258.4 L1198.3,1261.2 L1199.1,1264.0 L1199.9,1266.8 L1200.7,1269.7 L1201.5,1272.4 L1202.3,1275.2 L1203.1,1277.8 L1203.9,1280.3 L1204.7,1282.7 L1205.5,1285.1 L1206.3,1287.5 L1207.1,1289.9 L1207.9,1292.3 L1208.7,1294.6 L1209.5,1296.9 L1210.3,1299.2 L1211.1,1301.5 L1211.9,1303.7 L1212.7,1306.0 L1213.5,1308.2 L1214.3,1310.4 L1215.1,1312.6 L1215.9,1314.7 L1216.7,1316.6 L1217.5,1318.4 L1218.3,1320.0 L1219.1,1321.4 L1219.9,1322.6 L1220.7,1323.4 L1221.5,1323.9 L1222.3,1324.1 L1223.1,1324.0 L1223.9,1323.8 L1224.7,1323.5 L1225.5,1323.1 L1226.3,1322.7 L1227.1,1322.2 L1227.9,1321.6 L1228.7,1320.9 L1229.5,1320.2 L1230.3,1319.4 L1231.1,1318.5 L1231.9,1317.6 L1232.7,1316.7 L1233.5,1315.7 L1234.3,1314.7 L1235.1,1313.6 L1235.9,1312.5 L1236.7,1311.3 L1237.5,1310.0 L1238.3,1308.6 L1239.1,1307.1 L1239.9,1305.5 L1240.7,1303.8 L1241.5,1302.0 L1242.3,1300.2 L1243.1,1298.4 L1243.9,1296.6 L1244.7,1294.9 L1245.5,1293.3 L1246.3,1291.9 L1247.1,1290.5 L1247.9,1289.1 L1248.7,1287.8 L1249.5,1286.5 L1250.3,1285.3 L1251.1,1284.1 L1251.9,1282.9 L1252.7,1281.8 L1253.5,1280.7 L1254.3,1279.6 L1255.1,1278.6 L1255.9,1277.7 L1256.7,1276.8 L1257.5,1276.0 L1258.3,1275.3 L1259.1,1274.6 L1259.9,1274.0 L1260.7,1273.4 L1261.5,1272.9 L1262.3,1272.4 L1263.1,1272.0 L1263.9,1271.7 L1264.7,1271.4 L1265.5,1271.1 L1266.3,1271.0 L1267.1,1270.9 L1267.9,1270.9 L1268.7,1271.0 L1269.5,1271.2 L1270.3,1271.5 L1271.1,1272.0 L1271.9,1272.5 L1272.7,1273.3 L1273.5,1274.0 L1274.3,1274.9 L1275.1,1275.8 L1275.9,1276.8 L1276.7,1277.8 L1277.5,1278.9 L1278.3,1280.0 L1279.1,1281.2 L1279.9,1282.4 L1280.7,1283.7 L1281.5,1285.0 L1282.3,1286.4 L1283.1,1287.8 L1283.9,1289.1 L1284.7,1290.5 L1285.5,1291.8 L1286.3,1293.1 L1287.1,1294.4 L1287.9,1295.6 L1288.7,1296.7 L1289.5,1297.8 L1290.3,1298.8 L1291.1,1299.7 L1291.9,1300.6 L1292.7,1301.5 L1293.5,1302.3 L1294.3,1303.0 L1295.1,1303.7 L1295.9,1304.3 L1296.7,1304.9 L1297.5,1305.5 L1298.3,1305.9 L1299.1,1306.3 L1299.9,1306.7 L1300.7,1306.9 L1301.5,1307.2 L1302.3,1307.3 L1303.1,1307.4 L1303.9,1307.4 L1304.7,1307.4 L1305.5,1307.4 L1306.3,1307.4 L1307.1,1307.2 L1307.9,1307.1 L1308.7,1306.8 L1309.5,1306.3 L1310.3,1305.8 L1311.1,1305.1 L1311.9,1304.3 L1312.7,1303.4 L1313.5,1302.6 L1314.3,1301.7 L1315.1,1300.8 L1315.9,1299.9 L1316.7,1299.0 L1317.5,1298.1 L1318.3,1297.2 L1319.1,1296.3 L1319.9,1295.5 L1320.7,1294.6 L1321.5,1293.8 L1322.3,1293.0 L1323.1,1292.1 L1323.9,1291.3 L1324.7,1290.5 L1325.5,1289.7 L1326.3,1288.8 L1327.1,1288.0 L1327.9,1287.2 L1328.7,1286.4 L1329.5,1285.6 L1330.3,1284.8 L1331.1,1284.0 L1331.9,1283.2 L1332.7,1282.4 L1333.5,1281.7 L1334.3,1280.9 L1335.1,1280.2 L1335.9,1279.5 L1336.7,1278.8 L1337.5,1278.3 L1338.3,1277.8 L1339.1,1277.3 L1339.9,1276.9 L1340.7,1276.5 L1341.5,1276.2 L1342.3,1275.8 L1343.1,1275.5 L1343.9,1275.2 L1344.7,1274.9 L1345.5,1274.7 L1346.3,1274.6 L1347.1,1274.5 L1347.9,1274.5 L1348.7,1274.6 L1349.5,1274.8 L1350.3,1275.0 L1351.1,1275.4 L1351.9,1275.8 L1352.7,1276.3 L1353.5,1276.9 L1354.3,1277.4 L1355.1,1278.0 L1355.9,1278.6 L1356.7,1279.3 L1357.5,1279.9 L1358.3,1280.6 L1359.1,1281.3 L1359.9,1282.0 L1360.7,1282.7 L1361.5,1283.4 L1362.3,1284.2 L1363.1,1285.0 L1363.9,1285.9 L1364.7,1286.7 L1365.5,1287.6 L1366.3,1288.5 L1367.1,1289.3 L1367.9,1290.2 L1368.7,1291.1 L1369.5,1292.0 L1370.3,1292.8 L1371.1,1293.6 L1371.9,1294.4 L1372.7,1295.2 L1373.5,1295.9 L1374.3,1296.6 L1375.1,1297.2 L1375.9,1297.8 L1376.7,1298.4 L1377.5,1298.9 L1378.3,1299.3 L1379.1,1299.7 L1379.9,1300.1 L1380.7,1300.4 L1381.5,1300.8 L1382.3,1301.1 L1383.1,1301.3 L1383.9,1301.6 L1384.7,1301.8 L1385.5,1301.9 L1386.3,1302.0 L1387.1,1302.1 L1387.9,1302.1 L1388.7,1302.1 L1389.5,1302.1 L1390.3,1302.0 L1391.1,1302.0 L1391.9,1301.8 L1392.7,1301.7 L1393.5,1301.5 L1394.3,1301.2 L1395.1,1300.8 L1395.9,1300.3 L1396.7,1299.8 L1397.5,1299.3 L1398.3,1298.7 L1399.1,1298.2 L1399.9,1297.6 L1400.7,1297.0 L1401.5,1296.5 L1402.3,1295.9 L1403.1,1295.4 L1403.9,1294.8 L1404.7,1294.3 L1405.5,1293.7 L1406.3,1293.2 L1407.1,1292.6 L1407.9,1292.1 L1408.7,1291.6 L1409.5,1291.0 L1410.3,1290.5 L1411.1,1289.9 L1411.9,1289.4 L1412.7,1288.9 L1413.5,1288.3 L1414.3,1287.8 L1415.1,1287.3 L1415.9,1286.8 L1416.7,1286.2 L1417.5,1285.7 L1418.3,1285.2 L1419.1,1284.7 L1419.9,1284.2 L1420.7,1283.8 L1421.5,1283.5 L1422.3,1283.2 L1423.1,1282.9 L1423.9,1282.7 L1424.7,1282.5 L1425.5,1282.4 L1426.3,1282.2 L1427.1,1282.1 L1427.9,1282.0 L1428.7,1282.0 L1429.5,1281.9 L1430.3,1281.9 L1431.1,1281.9 L1431.9,1282.0 L1432.7,1282.1 L1433.5,1282.2 L1434.3,1282.4 L1435.1,1282.6 L1435.9,1282.9 L1436.7,1283.2 L1437.5,1283.6 L1438.3,1284.1 L1439.1,1284.5 L1439.9,1285.0 L1440.7,1285.6 L1441.5,1286.1 L1442.3,1286.6 L1443.1,1287.2 L1443.9,1287.7 L1444.7,1288.2 L1445.5,1288.7 L1446.3,1289.1 L1447.1,1289.5 L1447.9,1290.0 L1448.7,1290.4 L1449.5,1290.8 L1450.3,1291.2 L1451.1,1291.6 L1451.9,1292.0 L1452.7,1292.4 L1453.5,1292.8 L1454.3,1293.2 L1455.1,1293.6 L1455.9,1293.9 L1456.7,1294.3 L1457.5,1294.6 L1458.3,1294.9 L1459.1,1295.2 L1459.9,1295.5 L1460.7,1295.8 L1461.5,1296.0 L1462.3,1296.2 L1463.1,1296.3 L1463.9,1296.4 L1464.7,1296.6 L1465.5,1296.6 L1466.3,1296.7 L1467.1,1296.8 L1467.9,1296.8 L1468.7,1296.8 L1469.5,1296.8 L1470.3,1296.8 L1471.1,1296.8 L1471.9,1296.7 L1472.7,1296.7 L1473.5,1296.6 L1474.3,1296.4 L1475.1,1296.2 L1475.9,1296.0 L1476.7,1295.8 L1477.5,1295.5 L1478.3,1295.1 L1479.1,1294.8 L1479.9,1294.3 L1480.7,1293.9 L1481.5,1293.5 L1482.3,1293.0 L1483.1,1292.6 L1483.9,1292.1 L1484.7,1291.7 L1485.5,1291.3 L1486.3,1290.9 L1487.1,1290.5 L1487.9,1290.2 L1488.7,1289.8 L1489.5,1289.4 L1490.3,1289.1 L1491.1,1288.7 L1491.9,1288.4 L1492.7,1288.0 L1493.5,1287.7 L1494.3,1287.4 L1495.1,1287.0 L1495.9,1286.7 L1496.7,1286.4 L1497.5,1286.1 L1498.3,1285.8 L1499.1,1285.5 L1499.9,1285.2 L1500.7,1284.9 L1501.5,1284.6 L1502.3,1284.4 L1503.1,1284.1 L1503.9,1283.9 L1504.7,1283.7 L1505.5,1283.6 L1506.3,1283.5 L1507.1,1283.4 L1507.9,1283.4 L1508.7,1283.4 L1509.5,1283.4 L1510.3,1283.5 L1511.1,1283.6 L1511.9,1283.6 L1512.7,1283.7 L1513.5,1283.9 L1514.3,1284.0 L1515.1,1284.1 L1515.9,1284.2 L1516.7,1284.4 L1517.5,1284.5 L1518.3,1284.7 L1519.1,1284.9 L1519.9,1285.0 L1520.7,1285.2 L1521.5,1285.4 L1522.3,1285.6 L1523.1,1285.8 L1523.9,1286.0 L1524.7,1286.2 L1525.5,1286.5 L1526.3,1286.7 L1527.1,1286.9 L1527.9,1287.2 L1528.7,1287.4 L1529.5,1287.7 L1530.3,1287.9 L1531.1,1288.2 L1531.9,1288.5 L1532.7,1288.7 L1533.5,1289.0 L1534.3,1289.3 L1535.1,1289.6 L1535.9,1289.9 L1536.7,1290.1 L1537.5,1290.4 L1538.3,1290.7 L1539.1,1291.0 L1539.9,1291.2 L1540.7,1291.5 L1541.5,1291.7 L1542.3,1291.9 L1543.1,1292.2 L1543.9,1292.4 L1544.7,1292.6 L1545.5,1292.8 L1546.3,1292.9 L1547.1,1293.1 L1547.9,1293.3 L1548.7,1293.4 L1549.5,1293.5 L1550.3,1293.7 L1551.1,1293.8 L1551.9,1293.9 L1552.7,1294.0 L1553.3,1294.0" stroke="#4353ad" stroke-width="1.75" stroke-dasharray="5.2 2.3"/>
</g>
<rect x="890.3" y="935.0" width="673.7" height="501.20000000000005" fill="none" stroke="#1c1c1c" stroke-width="1.35"/>
<path d="M900.70,1436.2v5.5M1009.47,1436.2v5.5M1118.23,1436.2v5.5M1227.00,1436.2v5.5M1335.76,1436.2v5.5M1444.53,1436.2v5.5M1553.29,1436.2v5.5M890.3,1406.90h-5.5M890.3,1347.74h-5.5M890.3,1288.58h-5.5M890.3,1229.42h-5.5M890.3,1170.26h-5.5M890.3,1111.10h-5.5M890.3,1051.94h-5.5M890.3,992.78h-5.5" stroke="#1c1c1c" stroke-width="1.2" fill="none"/>
<g font-family="'Liberation Serif','Times New Roman',serif" font-weight="bold" font-size="17.7" fill="#151515">
<text x="900.7" y="1460.75" text-anchor="middle">0</text>
<text x="1009.5" y="1460.75" text-anchor="middle">500</text>
<text x="1118.2" y="1460.75" text-anchor="middle">1000</text>
<text x="1227.0" y="1460.75" text-anchor="middle">1500</text>
<text x="1335.8" y="1460.75" text-anchor="middle">2000</text>
<text x="1444.5" y="1460.75" text-anchor="middle">2500</text>
<text x="1553.3" y="1460.75" text-anchor="middle">3000</text>
<text x="877.5" y="1412.6" text-anchor="end">520</text>
<text x="877.5" y="1353.4" text-anchor="end">540</text>
<text x="877.5" y="1294.3" text-anchor="end">560</text>
<text x="877.5" y="1235.1" text-anchor="end">580</text>
<text x="877.5" y="1176.0" text-anchor="end">600</text>
<text x="877.5" y="1116.8" text-anchor="end">620</text>
<text x="877.5" y="1057.6" text-anchor="end">640</text>
<text x="877.5" y="998.5" text-anchor="end">660</text>
</g>
<text x="1227.5" y="923.7" text-anchor="middle" font-family="'Liberation Serif','Times New Roman',serif" font-weight="bold" font-size="22.4" fill="#151515">TALL3D TR01.09 transient flow temperature: MH leg</text>
<text x="1227.2" y="1485" text-anchor="middle" font-family="'Liberation Serif','Times New Roman',serif" font-weight="bold" font-size="18.6" fill="#151515">Time: s</text>
<text transform="translate(836,1185.6) rotate(-90)" text-anchor="middle" font-family="'Liberation Serif','Times New Roman',serif" font-weight="bold" font-size="18.6" fill="#151515">Temperature: K</text>
<rect x="1325.6" y="944" width="228.4000000000001" height="165.4000000000001" rx="4" fill="#fff" fill-opacity="0.8" stroke="#cfcfcf" stroke-width="1.1"/>
<circle cx="1351.6" cy="959" r="2.75" fill="#4a80b2"/>
<path d="M1332,985.6H1371" stroke="#151515" stroke-width="1.75" fill="none"/>
<path d="M1332,1012H1371" stroke="#d93434" stroke-width="1.75" fill="none"/>
<path d="M1332,1038.6H1371" stroke="#d93434" stroke-width="1.75" stroke-dasharray="5.2 2.3" fill="none"/>
<path d="M1332,1065.4H1371" stroke="#4353ad" stroke-width="1.75" fill="none"/>
<path d="M1332,1092H1371" stroke="#4353ad" stroke-width="1.75" stroke-dasharray="5.2 2.3" fill="none"/>
<g font-family="'Liberation Serif','Times New Roman',serif" font-weight="bold" font-size="18.6" fill="#151515">
<text x="1387" y="965">Experiment data</text>
<text x="1387" y="991.6">Reference</text>
<text x="1387" y="1018.4">O1-BDF1: dt = 1.0 s</text>
<text x="1387" y="1045">O1-BDF2: dt = 1.0 s</text>
<text x="1387" y="1071.6">O2-BDF1: dt = 1.0 s</text>
<text x="1387" y="1098">O2-BDF2: dt = 1.0 s</text>
</g>
</g>
</g>
</svg>
</body></html>
